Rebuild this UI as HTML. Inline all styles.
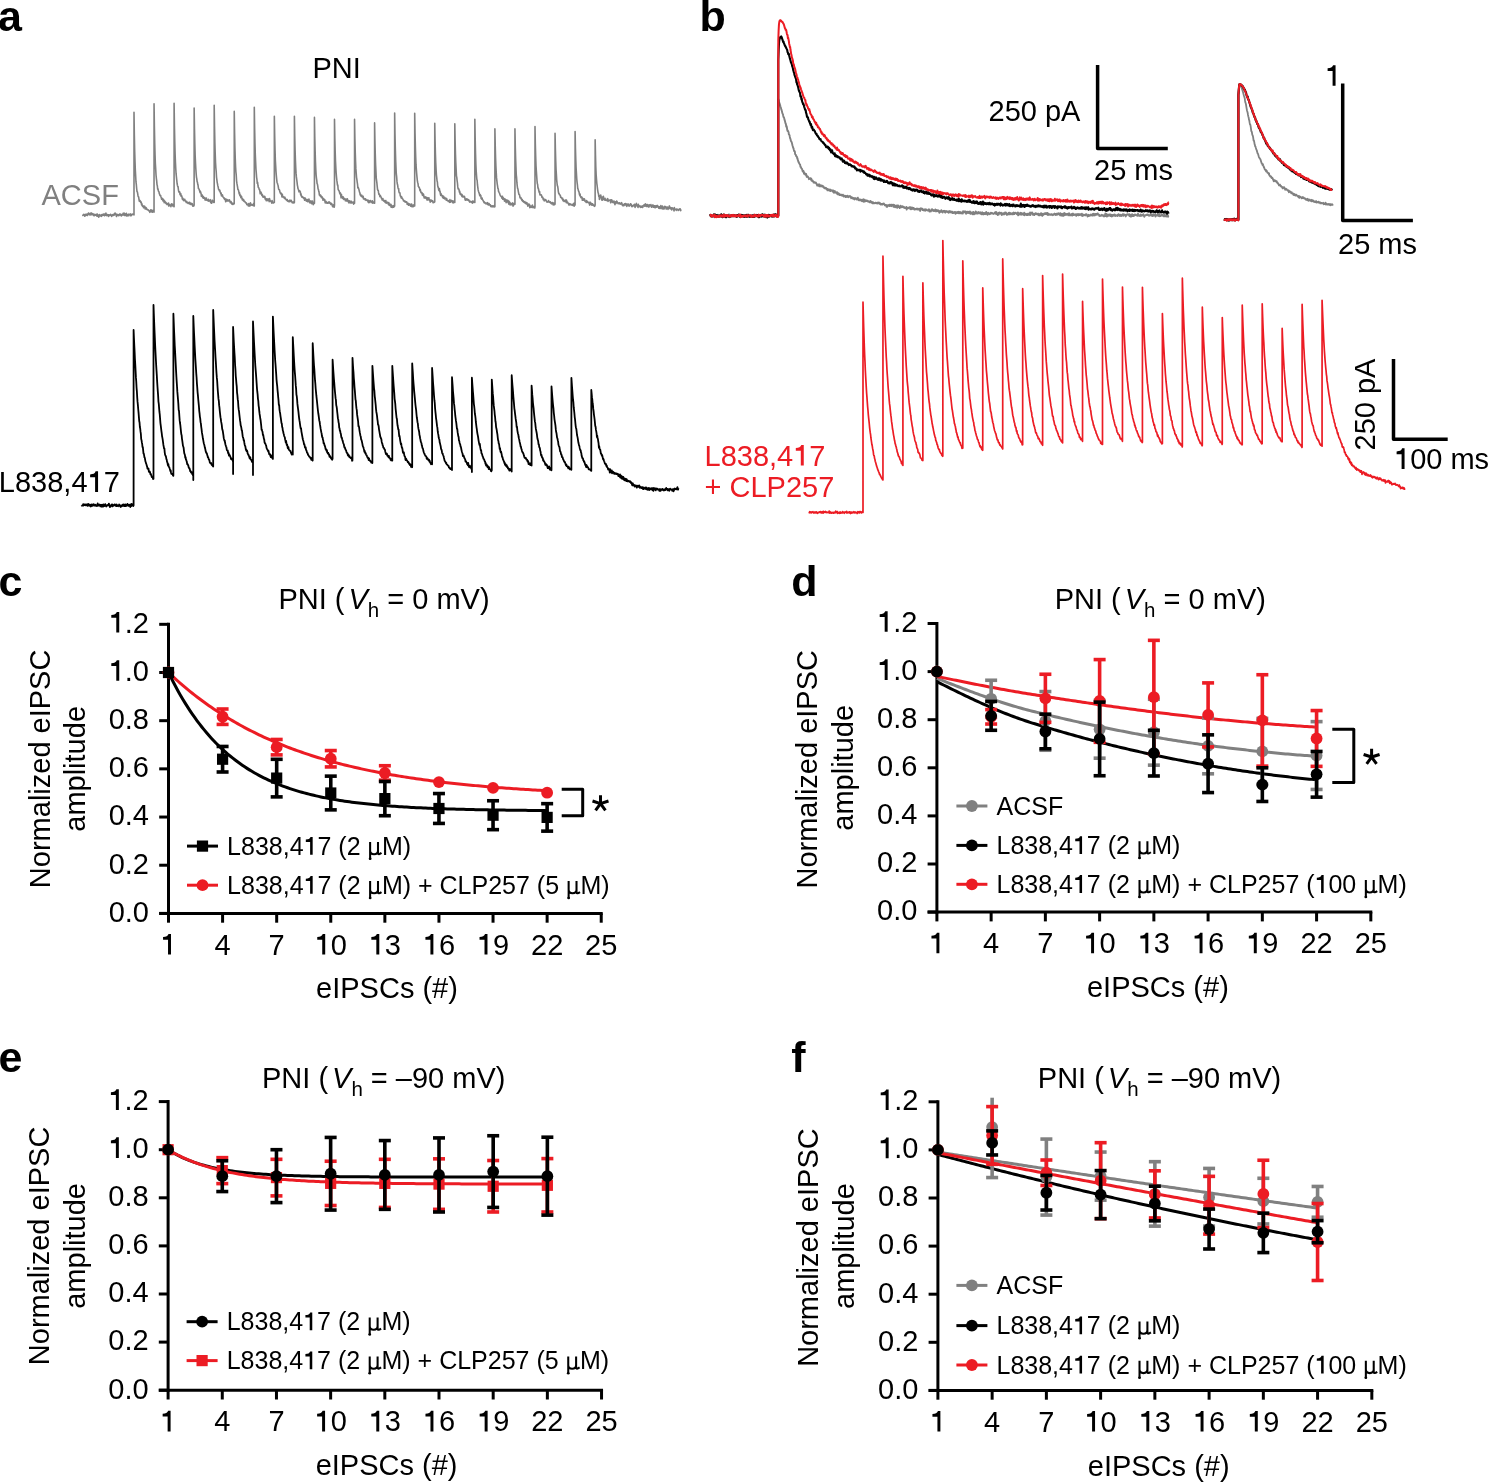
<!DOCTYPE html>
<html><head><meta charset="utf-8"><title>Figure</title>
<style>html,body{margin:0;padding:0;background:#fff;} svg{display:block;will-change:transform;} text{font-family:"Liberation Sans",sans-serif;}</style>
</head><body>
<svg width="1488" height="1482" viewBox="0 0 1488 1482">
<rect width="1488" height="1482" fill="#fff"/>
<path d="M82.5,215.04 L82.83,215.49 L83.16,214.96 L83.49,214.36 L83.82,214.76 L84.15,214.52 L84.48,215.2 L84.81,216.21 L85.14,214.69 L85.47,214.39 L85.8,215.37 L86.13,215.27 L86.46,215.09 L86.79,214.19 L87.12,214.97 L87.45,215.5 L87.78,213.86 L88.11,214.44 L88.44,213.15 L88.77,213.8 L89.1,213.3 L89.43,214.62 L89.76,213.79 L90.09,214.97 L90.42,214.81 L90.75,214.61 L91.08,212.71 L91.41,214.26 L91.74,214.64 L92.07,214.89 L92.4,213.64 L92.73,214.51 L93.06,214.03 L93.39,213.99 L93.72,215.58 L94.05,214.19 L94.38,214.78 L94.71,215.58 L95.04,214.48 L95.37,214.95 L95.7,215.22 L96.03,215.12 L96.36,214.27 L96.69,215.15 L97.02,216.28 L97.35,214.02 L97.68,216.05 L98.01,215.68 L98.34,215.25 L98.67,217.23 L99,216.04 L99.33,214.58 L99.66,215.5 L99.99,215.91 L100.32,215.41 L100.65,215.92 L100.98,215.09 L101.31,215.71 L101.64,216.35 L101.97,214.64 L102.3,215.37 L102.63,214.75 L102.96,215.07 L103.29,214.02 L103.62,214.41 L103.95,214.55 L104.28,215.51 L104.61,215.73 L104.94,213.84 L105.27,214.18 L105.6,215.29 L105.93,213.1 L106.26,214.26 L106.59,214.63 L106.92,215.67 L107.25,215.31 L107.58,214.59 L107.91,214.84 L108.24,214.81 L108.57,216.38 L108.9,214.85 L109.23,215 L109.56,215.39 L109.89,214.99 L110.22,215.05 L110.55,214.34 L110.88,215.25 L111.21,214.9 L111.54,216.35 L111.87,215.97 L112.2,215.18 L112.53,215.68 L112.86,214.66 L113.19,215.4 L113.52,214.52 L113.85,215.17 L114.18,213.69 L114.51,214.87 L114.84,213.15 L115.17,213.02 L115.5,214.45 L115.83,214.01 L116.16,214.87 L116.49,216.56 L116.82,214.22 L117.15,214.48 L117.48,215.19 L117.81,215.32 L118.14,214.86 L118.47,214.78 L118.8,215.66 L119.13,215.37 L119.46,214.12 L119.79,214.9 L120.12,214.83 L120.45,214.16 L120.78,215.38 L121.11,214.42 L121.44,215.97 L121.77,215.38 L122.1,214.97 L122.43,214.45 L122.76,214.81 L123.09,213.3 L123.42,213.85 L123.75,215 L124.08,212.98 L124.41,215.5 L124.74,213.45 L125.07,215.43 L125.4,214.32 L125.73,215.54 L126.06,214.96 L126.39,213.4 L126.72,215.8 L127.05,216.05 L127.38,214.94 L127.71,214.82 L128.04,214.88 L128.37,214.21 L128.7,215.81 L129.03,214.42 L129.36,214.78 L129.69,214.32 L130.02,214.48 L130.35,213.9 L130.68,215.81 L131.01,214.56 L131.34,215.6 L131.67,214.86 L132,214.25 L132.33,214.47 L132.66,214.1 L132.99,214.51 L133.32,214.26 L133.65,214.23 L133.98,213.3 L134,215 L134,112.2 L134.33,134.19 L134.66,150.19 L134.99,161.11 L135.32,170.08 L135.65,175.89 L135.98,181.98 L136.31,184.37 L136.64,188.25 L136.97,191.4 L137.3,191.74 L137.63,193.29 L137.96,195.47 L138.29,196.68 L138.62,196.92 L138.95,199.12 L139.28,201.24 L139.61,200.18 L139.94,200.93 L140.27,200.78 L140.6,202.33 L140.93,201.77 L141.26,202.42 L141.59,204.88 L141.92,203.75 L142.25,205.59 L142.58,206.28 L142.91,205.7 L143.24,206.37 L143.57,207.81 L143.9,206.56 L144.23,206.59 L144.56,206.15 L144.89,207.45 L145.22,208.98 L145.55,208.9 L145.88,207.41 L146.21,207.9 L146.54,208.49 L146.87,209.52 L147.2,209.29 L147.53,209.78 L147.86,209.9 L148.19,209.91 L148.52,210.26 L148.85,210.81 L149.18,210.66 L149.51,211.29 L149.84,212.32 L150.17,211.38 L150.5,211.19 L150.83,209.77 L151.16,211.67 L151.49,209.95 L151.82,210.36 L152.15,212.21 L152.48,212.13 L152.81,211.52 L153.14,210.29 L153.47,211.34 L153.8,211.14 L154.04,212.1 L154.05,103.7 L154.38,126.35 L154.71,142.46 L155.04,154.72 L155.37,163.9 L155.7,169.08 L156.03,174.98 L156.36,178.28 L156.69,180.88 L157.02,184.7 L157.35,185.8 L157.68,189.23 L158.01,188.83 L158.34,190.95 L158.67,191.37 L159,191.93 L159.33,193.93 L159.66,194.18 L159.99,195.57 L160.32,195.64 L160.65,195.49 L160.98,196.91 L161.31,197.8 L161.64,199.31 L161.97,198.34 L162.3,199.45 L162.63,198.58 L162.96,200.87 L163.29,199.83 L163.62,199.65 L163.95,201.31 L164.28,202.69 L164.61,200.93 L164.94,201.66 L165.27,202.24 L165.6,202.15 L165.93,203.55 L166.26,202.85 L166.59,203.13 L166.92,204.46 L167.25,203.64 L167.58,204.61 L167.91,203.66 L168.24,203.48 L168.57,203.07 L168.9,206.15 L169.23,204.3 L169.56,204.9 L169.89,204.83 L170.22,205.08 L170.55,205.06 L170.88,206.6 L171.21,204.23 L171.54,203.88 L171.87,204.34 L172.2,204.18 L172.53,205.77 L172.86,205.93 L173.19,204.59 L173.52,204.29 L173.85,205.12 L174.09,206.8 L174.1,103.3 L174.43,125.79 L174.76,141.29 L175.09,153.56 L175.42,162.08 L175.75,168.56 L176.08,173.7 L176.41,176.77 L176.74,180.1 L177.07,183.25 L177.4,185.16 L177.73,186.57 L178.06,186.6 L178.39,189.58 L178.72,191.41 L179.05,192.23 L179.38,192.48 L179.71,191.87 L180.04,194.76 L180.37,194.56 L180.7,193.46 L181.03,196.25 L181.36,195.28 L181.69,195.92 L182.02,197.01 L182.35,199.11 L182.68,198.04 L183.01,198.84 L183.34,200.44 L183.67,200.6 L184,199.4 L184.33,199.73 L184.66,199.27 L184.99,200.06 L185.32,201.16 L185.65,201.51 L185.98,201.49 L186.31,202.56 L186.64,201.25 L186.97,201.93 L187.3,202.79 L187.63,202.81 L187.96,203.49 L188.29,203.19 L188.62,202.71 L188.95,203.45 L189.28,202.5 L189.61,202.27 L189.94,204.14 L190.27,203.73 L190.6,204.32 L190.93,203.12 L191.26,204.57 L191.59,204.52 L191.92,204.46 L192.25,203.66 L192.58,205.3 L192.91,206.29 L193.24,206 L193.57,205.38 L193.9,205.85 L194.14,205.1 L194.15,108 L194.48,128.62 L194.81,143.39 L195.14,154.92 L195.47,162.25 L195.8,168.49 L196.13,173.26 L196.46,177.03 L196.79,178.97 L197.12,181.66 L197.45,182.39 L197.78,184.58 L198.11,185.61 L198.44,188.64 L198.77,188.82 L199.1,189.07 L199.43,190.37 L199.76,191.22 L200.09,192.64 L200.42,191.39 L200.75,192.44 L201.08,193.47 L201.41,196.3 L201.74,195.39 L202.07,194.94 L202.4,196.29 L202.73,197.75 L203.06,196.26 L203.39,196.57 L203.72,198.25 L204.05,197.84 L204.38,198.25 L204.71,197.7 L205.04,199.96 L205.37,200.07 L205.7,199.61 L206.03,199.87 L206.36,197.95 L206.69,200.24 L207.02,199.96 L207.35,200.44 L207.68,200.75 L208.01,200.05 L208.34,199.23 L208.67,201.11 L209,200.55 L209.33,200.84 L209.66,200.86 L209.99,201.17 L210.32,199.66 L210.65,202.67 L210.98,201.92 L211.31,202.47 L211.64,203.24 L211.97,201.6 L212.3,200.17 L212.63,201.05 L212.96,200.94 L213.29,201.79 L213.62,202.33 L213.95,200.57 L214.19,202.5 L214.2,105.3 L214.53,126.78 L214.86,142.17 L215.19,153.27 L215.52,162.25 L215.85,167.86 L216.18,171.34 L216.51,177.07 L216.84,179.57 L217.17,182.33 L217.5,183.95 L217.83,185.94 L218.16,186.85 L218.49,189.12 L218.82,189.45 L219.15,190.13 L219.48,190.94 L219.81,190.2 L220.14,191.94 L220.47,192.66 L220.8,193.67 L221.13,193.06 L221.46,195.84 L221.79,195.2 L222.12,194.86 L222.45,194.98 L222.78,196.56 L223.11,197.11 L223.44,197.18 L223.77,198.05 L224.1,197.76 L224.43,199.06 L224.76,198.41 L225.09,199.17 L225.42,200.27 L225.75,201.74 L226.08,199.11 L226.41,199.73 L226.74,199.48 L227.07,200.95 L227.4,199.68 L227.73,200.31 L228.06,200.85 L228.39,200.36 L228.72,200.44 L229.05,201.03 L229.38,199.78 L229.71,200.62 L230.04,201.89 L230.37,202.75 L230.7,202.61 L231.03,201.58 L231.36,202.8 L231.69,203.96 L232.02,204.09 L232.35,203.56 L232.68,203.17 L233.01,204.51 L233.34,203.83 L233.67,203.5 L234,203.82 L234.24,203.3 L234.25,111.4 L234.58,132.28 L234.91,147.48 L235.24,158.21 L235.57,166.42 L235.9,171.85 L236.23,174.95 L236.56,180.78 L236.89,183.21 L237.22,185.02 L237.55,186.86 L237.88,189.31 L238.21,189.42 L238.54,190.5 L238.87,191.93 L239.2,193.93 L239.53,192.76 L239.86,195.7 L240.19,194.89 L240.52,195.13 L240.85,197.59 L241.18,197.07 L241.51,196.52 L241.84,197.89 L242.17,199.34 L242.5,200.04 L242.83,199.06 L243.16,200.16 L243.49,200.82 L243.82,200.03 L244.15,201.41 L244.48,201.47 L244.81,201.59 L245.14,202.04 L245.47,202.69 L245.8,202.88 L246.13,202.72 L246.46,203.09 L246.79,204.57 L247.12,204.05 L247.45,204.6 L247.78,205.01 L248.11,204.43 L248.44,205.98 L248.77,203.58 L249.1,204.95 L249.43,204.17 L249.76,206.08 L250.09,205.91 L250.42,202.9 L250.75,203.68 L251.08,204.87 L251.41,204.97 L251.74,205.23 L252.07,204.57 L252.4,205.18 L252.73,205.27 L253.06,204.82 L253.39,205.76 L253.72,203.22 L254.05,205.69 L254.29,206 L254.3,107.3 L254.63,128.48 L254.96,143.38 L255.29,154.28 L255.62,161.9 L255.95,169.04 L256.28,172.9 L256.61,177.32 L256.94,179.71 L257.27,183.47 L257.6,182.36 L257.93,185.23 L258.26,187.43 L258.59,187.58 L258.92,188.17 L259.25,189.6 L259.58,189.48 L259.91,191.38 L260.24,193.79 L260.57,193.38 L260.9,192.07 L261.23,192.8 L261.56,193.83 L261.89,195.5 L262.22,194.57 L262.55,195.16 L262.88,196.85 L263.21,197.22 L263.54,196.57 L263.87,196.43 L264.2,196.3 L264.53,197.47 L264.86,196.55 L265.19,199.13 L265.52,198.24 L265.85,199.3 L266.18,200.67 L266.51,200.26 L266.84,198.75 L267.17,200.48 L267.5,200.64 L267.83,199.23 L268.16,199.01 L268.49,199.86 L268.82,198.97 L269.15,201.68 L269.48,198.58 L269.81,199.69 L270.14,200.72 L270.47,200.94 L270.8,201.4 L271.13,201.74 L271.46,201.78 L271.79,203.14 L272.12,200.65 L272.45,202.52 L272.78,202.13 L273.11,202.84 L273.44,202.88 L273.77,202.07 L274.1,202.27 L274.34,202.5 L274.35,116.2 L274.68,135.23 L275.01,149.03 L275.34,159.92 L275.67,165.79 L276,171.55 L276.33,175.46 L276.66,179 L276.99,182.17 L277.32,183.01 L277.65,184.24 L277.98,185.07 L278.31,186.99 L278.64,189.16 L278.97,189.61 L279.3,189.54 L279.63,190.83 L279.96,191.91 L280.29,193.06 L280.62,192.91 L280.95,193.87 L281.28,193.28 L281.61,194.36 L281.94,196.84 L282.27,194.19 L282.6,196.1 L282.93,196.86 L283.26,196.84 L283.59,196.76 L283.92,197.55 L284.25,198.06 L284.58,198.34 L284.91,197.19 L285.24,198.93 L285.57,198.72 L285.9,199.23 L286.23,199.76 L286.56,200.21 L286.89,200.53 L287.22,199.48 L287.55,200.8 L287.88,201.32 L288.21,201.41 L288.54,201.64 L288.87,200.82 L289.2,200.89 L289.53,201.68 L289.86,200.1 L290.19,201.54 L290.52,200.99 L290.85,201.33 L291.18,200.3 L291.51,200.98 L291.84,201.81 L292.17,202.74 L292.5,202.85 L292.83,202.14 L293.16,202.14 L293.49,202.05 L293.82,203.04 L294.15,202.76 L294.39,202.5 L294.4,116.2 L294.73,135.4 L295.06,149.26 L295.39,159.61 L295.72,167.21 L296.05,173.16 L296.38,176.94 L296.71,179.52 L297.04,182.2 L297.37,185.04 L297.7,186.67 L298.03,188.79 L298.36,189.18 L298.69,190.64 L299.02,191.83 L299.35,191.57 L299.68,190.82 L300.01,191.64 L300.34,191.91 L300.67,194.98 L301,193.67 L301.33,196.12 L301.66,195.94 L301.99,197.25 L302.32,197.25 L302.65,196.78 L302.98,197.08 L303.31,197.91 L303.64,198.32 L303.97,197.97 L304.3,198.55 L304.63,200.22 L304.96,197.91 L305.29,199.59 L305.62,198.81 L305.95,200 L306.28,200.83 L306.61,200.25 L306.94,201.21 L307.27,199.58 L307.6,201.71 L307.93,200.45 L308.26,201.62 L308.59,201.33 L308.92,198.98 L309.25,200.53 L309.58,201.51 L309.91,202.87 L310.24,201.7 L310.57,202.09 L310.9,200.7 L311.23,203.17 L311.56,203.7 L311.89,202.46 L312.22,202.34 L312.55,201.14 L312.88,203.27 L313.21,204.69 L313.54,202.85 L313.87,203.67 L314.2,203.22 L314.44,203.3 L314.45,117.4 L314.78,136.96 L315.11,150.27 L315.44,161.3 L315.77,169.12 L316.1,174.79 L316.43,178 L316.76,180.3 L317.09,183.72 L317.42,184.01 L317.75,186.05 L318.08,188.99 L318.41,189.39 L318.74,191.28 L319.07,192.3 L319.4,195.06 L319.73,195.24 L320.06,194.89 L320.39,196.31 L320.72,195.17 L321.05,196.24 L321.38,197.65 L321.71,196.48 L322.04,197.69 L322.37,197.16 L322.7,198.68 L323.03,200.22 L323.36,198.62 L323.69,199.84 L324.02,199.34 L324.35,199.36 L324.68,199.46 L325.01,201.91 L325.34,202.87 L325.67,201.72 L326,201.3 L326.33,202.75 L326.66,202.11 L326.99,203.18 L327.32,202.84 L327.65,202.87 L327.98,203.19 L328.31,202.35 L328.64,202.6 L328.97,201.78 L329.3,202.9 L329.63,202.22 L329.96,203.22 L330.29,202.88 L330.62,203.9 L330.95,204.51 L331.28,203.2 L331.61,203.96 L331.94,203.92 L332.27,205.44 L332.6,206.62 L332.93,205.88 L333.26,205.15 L333.59,206.88 L333.92,204.63 L334.25,207.21 L334.49,205.1 L334.5,119.4 L334.83,138.05 L335.16,151.02 L335.49,161.07 L335.82,167.56 L336.15,172.83 L336.48,176.82 L336.81,180.13 L337.14,182.68 L337.47,185.03 L337.8,185.09 L338.13,189.3 L338.46,189.97 L338.79,190.74 L339.12,190.78 L339.45,192.09 L339.78,193.44 L340.11,193.97 L340.44,192.98 L340.77,195.6 L341.1,197.82 L341.43,194.43 L341.76,197.21 L342.09,196.91 L342.42,196.92 L342.75,198.51 L343.08,196.74 L343.41,198.01 L343.74,199.39 L344.07,198.34 L344.4,198.49 L344.73,199.08 L345.06,198.98 L345.39,200.75 L345.72,198.97 L346.05,200.84 L346.38,199.25 L346.71,201 L347.04,200.72 L347.37,198.86 L347.7,201.16 L348.03,200.48 L348.36,201.29 L348.69,202.81 L349.02,200.67 L349.35,200.73 L349.68,202.78 L350.01,201.71 L350.34,202.89 L350.67,202.04 L351,201.04 L351.33,201.82 L351.66,203.02 L351.99,202.78 L352.32,202.1 L352.65,202.42 L352.98,202.4 L353.31,202 L353.64,204.12 L353.97,202.49 L354.3,201.65 L354.54,203.3 L354.55,119.4 L354.88,138 L355.21,150.96 L355.54,160.8 L355.87,168.64 L356.2,172.94 L356.53,177.35 L356.86,179.37 L357.19,182.06 L357.52,184.05 L357.85,187.99 L358.18,187.24 L358.51,188.23 L358.84,189.27 L359.17,190.63 L359.5,192.14 L359.83,192.64 L360.16,194.83 L360.49,194.13 L360.82,195.84 L361.15,195.44 L361.48,196.38 L361.81,195.23 L362.14,196.73 L362.47,197.08 L362.8,197.3 L363.13,196.23 L363.46,198.85 L363.79,198.23 L364.12,198.54 L364.45,199.01 L364.78,199.05 L365.11,199.8 L365.44,198.77 L365.77,199.19 L366.1,200.4 L366.43,200.21 L366.76,200.07 L367.09,200.02 L367.42,200.1 L367.75,200.68 L368.08,201.93 L368.41,200.27 L368.74,202.59 L369.07,202.09 L369.4,201.12 L369.73,202.52 L370.06,200.75 L370.39,200.57 L370.72,201.01 L371.05,201.71 L371.38,202.03 L371.71,202.19 L372.04,202.69 L372.37,200.79 L372.7,203.12 L373.03,201.8 L373.36,202.58 L373.69,202.99 L374.02,202.35 L374.35,202.23 L374.59,203.3 L374.6,122.9 L374.93,141.03 L375.26,154.03 L375.59,164.38 L375.92,170.88 L376.25,178.09 L376.58,180.6 L376.91,183.22 L377.24,186.68 L377.57,189.6 L377.9,190.32 L378.23,190.26 L378.56,192.63 L378.89,194.47 L379.22,193.88 L379.55,194.35 L379.88,196.58 L380.21,196.3 L380.54,195.86 L380.87,196.95 L381.2,197.14 L381.53,198.5 L381.86,198.65 L382.19,199.98 L382.52,200 L382.85,198.48 L383.18,200.25 L383.51,200.83 L383.84,200.83 L384.17,201.47 L384.5,200.49 L384.83,200.56 L385.16,202.44 L385.49,201.26 L385.82,200.57 L386.15,203.19 L386.48,202.11 L386.81,202.67 L387.14,202.1 L387.47,202.32 L387.8,202.74 L388.13,203.65 L388.46,204.48 L388.79,202.56 L389.12,205.2 L389.45,203.82 L389.78,204.07 L390.11,205.7 L390.44,205.15 L390.77,204.29 L391.1,207.09 L391.43,205.14 L391.76,206.1 L392.09,206.13 L392.42,207.43 L392.75,205.99 L393.08,207.09 L393.41,205.68 L393.74,207.21 L394.07,206.04 L394.4,206.46 L394.64,206 L394.65,113 L394.98,133.65 L395.31,148.03 L395.64,159.17 L395.97,167.25 L396.3,173.95 L396.63,176.61 L396.96,181.18 L397.29,183.86 L397.62,184.79 L397.95,187.39 L398.28,188.68 L398.61,188.41 L398.94,191.79 L399.27,192.74 L399.6,192.76 L399.93,192.96 L400.26,195.99 L400.59,195.71 L400.92,197.01 L401.25,197.91 L401.58,196.75 L401.91,198.42 L402.24,198.12 L402.57,198.71 L402.9,199.26 L403.23,199.89 L403.56,201.04 L403.89,200.53 L404.22,200.85 L404.55,201.26 L404.88,201.98 L405.21,201.14 L405.54,201.66 L405.87,202.22 L406.2,201.86 L406.53,202.45 L406.86,202.13 L407.19,204.29 L407.52,204.06 L407.85,203.46 L408.18,203.23 L408.51,205.26 L408.84,204.02 L409.17,203.8 L409.5,204.25 L409.83,204.29 L410.16,205.52 L410.49,204.58 L410.82,206.25 L411.15,203.98 L411.48,205.44 L411.81,204.25 L412.14,206.82 L412.47,205.36 L412.8,205.59 L413.13,206.45 L413.46,206.63 L413.79,204.83 L414.12,205.52 L414.45,205.06 L414.69,206 L414.7,113.2 L415.03,132.72 L415.36,146.21 L415.69,156.83 L416.02,164.66 L416.35,169.4 L416.68,173.69 L417.01,177.35 L417.34,180.58 L417.67,182.45 L418,183.53 L418.33,186.33 L418.66,186.47 L418.99,187.51 L419.32,187.62 L419.65,188.96 L419.98,190.68 L420.31,189.58 L420.64,191.47 L420.97,192.63 L421.3,192.19 L421.63,193.05 L421.96,192.68 L422.29,194.93 L422.62,195.39 L422.95,195.18 L423.28,193.93 L423.61,194.71 L423.94,196.79 L424.27,197.9 L424.6,196.96 L424.93,197.97 L425.26,196.88 L425.59,197.51 L425.92,198.15 L426.25,198.64 L426.58,197.36 L426.91,199.38 L427.24,200.12 L427.57,198.23 L427.9,197.96 L428.23,199.47 L428.56,198.81 L428.89,197.81 L429.22,200.45 L429.55,200.06 L429.88,199.76 L430.21,202.15 L430.54,200.67 L430.87,200.2 L431.2,201.05 L431.53,200.21 L431.86,200.54 L432.19,201.56 L432.52,200.79 L432.85,201.11 L433.18,202.73 L433.51,202.3 L433.84,202.45 L434.17,202.3 L434.5,202.25 L434.74,201.6 L434.75,123.3 L435.08,140.75 L435.41,153.47 L435.74,162.79 L436.07,169.39 L436.4,174.8 L436.73,177.51 L437.06,181.01 L437.39,181.95 L437.72,185.95 L438.05,187.11 L438.38,187.95 L438.71,190.15 L439.04,190.61 L439.37,188.49 L439.7,191.66 L440.03,191.1 L440.36,193.79 L440.69,195.46 L441.02,193.64 L441.35,194.82 L441.68,194.97 L442.01,195.88 L442.34,196.45 L442.67,197.48 L443,195.93 L443.33,198.2 L443.66,196.37 L443.99,197.49 L444.32,198.55 L444.65,198.79 L444.98,197.62 L445.31,198.18 L445.64,198.64 L445.97,199.06 L446.3,200.2 L446.63,198.43 L446.96,199.94 L447.29,200.47 L447.62,200.37 L447.95,200.52 L448.28,201.54 L448.61,200.78 L448.94,201.21 L449.27,201.19 L449.6,202.31 L449.93,199.5 L450.26,202.22 L450.59,200.83 L450.92,201.06 L451.25,200.85 L451.58,200.33 L451.91,201.7 L452.24,201.35 L452.57,202.34 L452.9,200.73 L453.23,203.03 L453.56,202.26 L453.89,201.79 L454.22,201.45 L454.55,201.19 L454.79,202.5 L454.8,123.8 L455.13,141.14 L455.46,153.68 L455.79,162.41 L456.12,169.09 L456.45,175.84 L456.78,177.41 L457.11,180.57 L457.44,183.01 L457.77,186.63 L458.1,188.88 L458.43,188.68 L458.76,188.91 L459.09,190.03 L459.42,192.11 L459.75,191.33 L460.08,193.93 L460.41,194.48 L460.74,193.55 L461.07,194.57 L461.4,194.94 L461.73,196.08 L462.06,194.58 L462.39,196.82 L462.72,195.92 L463.05,195.95 L463.38,196.97 L463.71,196.98 L464.04,196.6 L464.37,196.29 L464.7,197.22 L465.03,199.4 L465.36,200.16 L465.69,199.32 L466.02,199.98 L466.35,198.81 L466.68,199.42 L467.01,200 L467.34,199.12 L467.67,199.29 L468,200.23 L468.33,200.23 L468.66,199.74 L468.99,201 L469.32,200.78 L469.65,202.06 L469.98,201.41 L470.31,201.23 L470.64,201.95 L470.97,201.85 L471.3,201.61 L471.63,201.88 L471.96,202.71 L472.29,202.55 L472.62,203.18 L472.95,200.91 L473.28,201.99 L473.61,201.9 L473.94,202.25 L474.27,201.78 L474.6,201.61 L474.84,202.5 L474.85,119.2 L475.18,138.62 L475.51,152.66 L475.84,163.59 L476.17,170.55 L476.5,175.25 L476.83,179.22 L477.16,180.44 L477.49,184.98 L477.82,187.38 L478.15,189.91 L478.48,191.21 L478.81,192.38 L479.14,193.04 L479.47,194.31 L479.8,195.8 L480.13,194.49 L480.46,195.67 L480.79,195.41 L481.12,198.39 L481.45,198.78 L481.78,199.09 L482.11,198.09 L482.44,199.67 L482.77,199.89 L483.1,200.67 L483.43,201.02 L483.76,202.07 L484.09,201.65 L484.42,202.98 L484.75,202.8 L485.08,202.68 L485.41,203.11 L485.74,203 L486.07,203.98 L486.4,203.26 L486.73,203.69 L487.06,203.35 L487.39,202.67 L487.72,204.56 L488.05,203.25 L488.38,204.91 L488.71,204.88 L489.04,203.58 L489.37,204.53 L489.7,204.88 L490.03,204.9 L490.36,204.81 L490.69,206.54 L491.02,206.01 L491.35,206.55 L491.68,205.95 L492.01,206.57 L492.34,205.75 L492.67,206.43 L493,206.85 L493.33,206.39 L493.66,206.14 L493.99,205.71 L494.32,206.84 L494.65,206.83 L494.89,206.8 L494.9,128.9 L495.23,145.39 L495.56,157.26 L495.89,166.09 L496.22,172.23 L496.55,177.88 L496.88,180.9 L497.21,183.84 L497.54,185.92 L497.87,188.3 L498.2,188.71 L498.53,191.35 L498.86,191.93 L499.19,192.6 L499.52,193.16 L499.85,194.28 L500.18,195.23 L500.51,195.85 L500.84,195.92 L501.17,196.71 L501.5,196.68 L501.83,198.1 L502.16,197.4 L502.49,196.27 L502.82,199.31 L503.15,198.62 L503.48,197.93 L503.81,198.9 L504.14,198.57 L504.47,201.19 L504.8,200.33 L505.13,199.07 L505.46,200.94 L505.79,200.57 L506.12,202.6 L506.45,200.44 L506.78,199.75 L507.11,201.79 L507.44,201.89 L507.77,202.01 L508.1,200.61 L508.43,202.97 L508.76,204.06 L509.09,201.29 L509.42,203.52 L509.75,202.38 L510.08,204.93 L510.41,203.6 L510.74,203.33 L511.07,204.66 L511.4,204.29 L511.73,203.6 L512.06,204.65 L512.39,203.72 L512.72,202.91 L513.05,206.1 L513.38,204.12 L513.71,204.04 L514.04,204.86 L514.37,203.33 L514.7,203.63 L514.94,204.2 L514.95,128.9 L515.28,145.99 L515.61,157.96 L515.94,166.9 L516.27,174.93 L516.6,177.95 L516.93,182.94 L517.26,186 L517.59,188.35 L517.92,188.95 L518.25,191.12 L518.58,192.74 L518.91,194.47 L519.24,194.37 L519.57,194.88 L519.9,197.17 L520.23,197.99 L520.56,197.88 L520.89,197.56 L521.22,198.97 L521.55,199.18 L521.88,200.31 L522.21,199.44 L522.54,201.01 L522.87,201.25 L523.2,200.73 L523.53,202.05 L523.86,202.09 L524.19,201.98 L524.52,202.77 L524.85,201.52 L525.18,202.85 L525.51,203.36 L525.84,203.31 L526.17,204.01 L526.5,202.47 L526.83,202.44 L527.16,204.16 L527.49,204.65 L527.82,206.11 L528.15,205.16 L528.48,203.96 L528.81,205.74 L529.14,204.73 L529.47,204.35 L529.8,207.65 L530.13,206.01 L530.46,206.24 L530.79,206.16 L531.12,207.37 L531.45,206.28 L531.78,207.07 L532.11,205.5 L532.44,205.18 L532.77,207.56 L533.1,207.62 L533.43,206.83 L533.76,206.74 L534.09,206.65 L534.42,206.27 L534.75,208.05 L534.99,206.8 L535,126.6 L535.33,143.97 L535.66,155.73 L535.99,165.19 L536.32,170.88 L536.65,175.59 L536.98,180.34 L537.31,183.61 L537.64,184.46 L537.97,188.17 L538.3,187.96 L538.63,190.06 L538.96,191.42 L539.29,192.66 L539.62,191.45 L539.95,195.04 L540.28,194.92 L540.61,194.96 L540.94,194.9 L541.27,194.92 L541.6,195.64 L541.93,197.43 L542.26,197.07 L542.59,196.98 L542.92,197.79 L543.25,199.74 L543.58,198.67 L543.91,198.91 L544.24,200.88 L544.57,200.36 L544.9,200.29 L545.23,200.15 L545.56,199.57 L545.89,200.03 L546.22,200.92 L546.55,201.54 L546.88,202.08 L547.21,202.13 L547.54,201.9 L547.87,201.97 L548.2,201.17 L548.53,200.5 L548.86,201.94 L549.19,201.66 L549.52,202.06 L549.85,202.39 L550.18,201.74 L550.51,201.89 L550.84,203.15 L551.17,203.54 L551.5,202.94 L551.83,203.85 L552.16,203.33 L552.49,202.6 L552.82,203.46 L553.15,204.94 L553.48,203.1 L553.81,204.61 L554.14,204.76 L554.47,204.77 L554.8,202.84 L555.04,204.2 L555.05,133.2 L555.38,149.04 L555.71,160.33 L556.04,169.24 L556.37,174.38 L556.7,180.08 L557.03,183.23 L557.36,185.82 L557.69,186.31 L558.02,188.63 L558.35,191.56 L558.68,193.36 L559.01,193.29 L559.34,194.59 L559.67,194.56 L560,195.16 L560.33,195.51 L560.66,197.42 L560.99,197.28 L561.32,197.44 L561.65,197.85 L561.98,198.79 L562.31,198.99 L562.64,198.33 L562.97,200.63 L563.3,199.79 L563.63,199.8 L563.96,201.38 L564.29,201.2 L564.62,200.68 L564.95,201.42 L565.28,200.46 L565.61,200.95 L565.94,199.8 L566.27,202.64 L566.6,200.4 L566.93,202.75 L567.26,201.97 L567.59,202.17 L567.92,202.98 L568.25,203.46 L568.58,203.93 L568.91,204.99 L569.24,204.17 L569.57,204.82 L569.9,203.65 L570.23,204.73 L570.56,204.54 L570.89,204.19 L571.22,204.54 L571.55,204.8 L571.88,205.05 L572.21,205.27 L572.54,204.56 L572.87,204.22 L573.2,205.58 L573.53,203.54 L573.86,204.4 L574.19,206.12 L574.52,202.87 L574.85,204.54 L575.09,205.1 L575.1,131.5 L575.43,147.76 L575.76,158.97 L576.09,167.78 L576.42,173.31 L576.75,178.81 L577.08,182.37 L577.41,184.8 L577.74,188.56 L578.07,189.04 L578.4,190.71 L578.73,191.25 L579.06,192.13 L579.39,194.24 L579.72,195.16 L580.05,193.96 L580.38,196.58 L580.71,196.96 L581.04,197.72 L581.37,197.85 L581.7,196.93 L582.03,197.49 L582.36,200.32 L582.69,199.53 L583.02,198.5 L583.35,200.25 L583.68,199.92 L584.01,198.96 L584.34,198.87 L584.67,199.66 L585,201.27 L585.33,201.43 L585.66,201.46 L585.99,201.93 L586.32,202.51 L586.65,200.44 L586.98,202.11 L587.31,201.85 L587.64,201.72 L587.97,202.43 L588.3,202.83 L588.63,202.87 L588.96,202.3 L589.29,202.94 L589.62,205.08 L589.95,202.79 L590.28,202.28 L590.61,203.79 L590.94,204.41 L591.27,204.36 L591.6,203.43 L591.93,205.27 L592.26,203.94 L592.59,203.8 L592.92,204.37 L593.25,204.98 L593.58,205.76 L593.91,205.77 L594.24,205.33 L594.57,206.32 L594.9,205.79 L595.14,205.1 L595.15,139.7 L595.48,154.79 L595.81,167.13 L596.14,174.47 L596.47,179.05 L596.8,183.12 L597.13,185.53 L597.46,188.53 L597.79,190.85 L598.12,192.81 L598.45,193.51 L598.78,196.49 L599.11,195.36 L599.44,199.36 L599.77,197.61 L600.1,197.4 L600.43,196.71 L600.76,195.01 L601.09,197.61 L601.42,198.09 L601.75,200 L602.08,196.98 L602.41,200.08 L602.74,198.18 L603.07,199.22 L603.4,196.25 L603.73,199.07 L604.06,198.83 L604.39,199.95 L604.72,199.5 L605.05,198.21 L605.38,200.26 L605.71,200.1 L606.04,199.99 L606.37,200.45 L606.7,200.45 L607.03,199.63 L607.36,198.7 L607.69,198.66 L608.02,201.38 L608.35,200.77 L608.68,200.42 L609.01,200.02 L609.34,200.53 L609.67,200.55 L610,200.29 L610.33,199.87 L610.66,202.8 L610.99,200.94 L611.32,200.32 L611.65,199.77 L611.98,200.59 L612.31,202.09 L612.64,202.39 L612.97,201.43 L613.3,201.88 L613.63,201.62 L613.96,200.99 L614.29,203.44 L614.62,202.8 L614.95,204.65 L615.28,201.7 L615.61,202.2 L615.94,203.47 L616.27,202.23 L616.6,201.1 L616.93,201.4 L617.26,202.77 L617.59,202.93 L617.92,202.65 L618.25,203.73 L618.58,203.58 L618.91,203.01 L619.24,202.93 L619.57,202.76 L619.9,203.78 L620.23,204.2 L620.56,203.48 L620.89,203.91 L621.22,203.32 L621.55,202.66 L621.88,203.2 L622.21,205.01 L622.54,204.7 L622.87,205.78 L623.2,204.59 L623.53,205.27 L623.86,205.63 L624.19,205.36 L624.52,203.81 L624.85,204.54 L625.18,204.53 L625.51,203.54 L625.84,205.07 L626.17,205.46 L626.5,203.95 L626.83,206.4 L627.16,204.49 L627.49,204.47 L627.82,204.24 L628.15,203.96 L628.48,205.29 L628.81,204.9 L629.14,206.2 L629.47,205.43 L629.8,205.37 L630.13,204.85 L630.46,203.73 L630.79,204.97 L631.12,204.2 L631.45,206.16 L631.78,205.45 L632.11,206.79 L632.44,205.77 L632.77,206.13 L633.1,205.5 L633.43,205.28 L633.76,205.71 L634.09,205.95 L634.42,204.37 L634.75,205.44 L635.08,207.44 L635.41,204.79 L635.74,204.68 L636.07,204.14 L636.4,203.38 L636.73,205.89 L637.06,205 L637.39,205.29 L637.72,206.76 L638.05,207.47 L638.38,204.27 L638.71,206.31 L639.04,205.98 L639.37,206.04 L639.7,206.34 L640.03,205.87 L640.36,207.38 L640.69,206.59 L641.02,206.42 L641.35,207.29 L641.68,206.75 L642.01,206.08 L642.34,206.02 L642.67,207.51 L643,206.44 L643.33,205.69 L643.66,205.12 L643.99,205.55 L644.32,204.94 L644.65,206.12 L644.98,206.16 L645.31,203.88 L645.64,205.59 L645.97,206.1 L646.3,205.41 L646.63,204.45 L646.96,206.65 L647.29,204.94 L647.62,204.54 L647.95,204.65 L648.28,205.78 L648.61,206.74 L648.94,207.05 L649.27,206.24 L649.6,204.8 L649.93,205.38 L650.26,205.21 L650.59,205.91 L650.92,204.57 L651.25,206.68 L651.58,207.2 L651.91,206.46 L652.24,206.78 L652.57,205.46 L652.9,204.95 L653.23,205.47 L653.56,207.28 L653.89,207.29 L654.22,205.82 L654.55,207.41 L654.88,205.85 L655.21,207.78 L655.54,206.63 L655.87,205.75 L656.2,207.29 L656.53,205.85 L656.86,205.82 L657.19,205.37 L657.52,206.9 L657.85,206.66 L658.18,206.77 L658.51,206.38 L658.84,208.29 L659.17,206.75 L659.5,206.69 L659.83,208.42 L660.16,208.52 L660.49,207.31 L660.82,205.54 L661.15,206.79 L661.48,208.12 L661.81,207.49 L662.14,208.87 L662.47,206.15 L662.8,208.21 L663.13,206.91 L663.46,208.87 L663.79,207.7 L664.12,208.87 L664.45,207.18 L664.78,206.22 L665.11,206.55 L665.44,207.13 L665.77,206.76 L666.1,208.91 L666.43,209.02 L666.76,208.17 L667.09,206.97 L667.42,207.93 L667.75,207.31 L668.08,209.34 L668.41,208.34 L668.74,208.43 L669.07,207.45 L669.4,205.92 L669.73,207.35 L670.06,207.11 L670.39,208.82 L670.72,208.61 L671.05,207.77 L671.38,208.03 L671.71,209.88 L672.04,207.72 L672.37,207.87 L672.7,208.69 L673.03,208.39 L673.36,208.7 L673.69,209.65 L674.02,210.86 L674.35,207.63 L674.68,209.43 L675.01,209.59 L675.34,209.52 L675.67,209.34 L676,209.18 L676.33,210.36 L676.66,209.12 L676.99,209.17 L677.32,209.29 L677.65,209.77 L677.98,209.49 L678.31,210.47 L678.64,209.53 L678.97,209.92 L679.3,209.72 L679.63,208.93 L679.96,209.15 L680.29,208.92 L680.62,210.6 L680.95,209.78 L681.28,209.41" fill="none" stroke="#808080" stroke-width="1.6" stroke-linejoin="round" stroke-linecap="butt" />
<path d="M81.5,505.15 L81.83,505.62 L82.16,505.38 L82.49,505.66 L82.82,505.17 L83.15,504.2 L83.48,505.51 L83.81,504.85 L84.14,505.05 L84.47,504.39 L84.8,505.08 L85.13,504.88 L85.46,505.31 L85.79,504.36 L86.12,505.32 L86.45,505.28 L86.78,504.54 L87.11,504.9 L87.44,504.81 L87.77,505.93 L88.1,503.84 L88.43,505.3 L88.76,504.19 L89.09,504.94 L89.42,505.78 L89.75,504.92 L90.08,505.39 L90.41,504.73 L90.74,506.48 L91.07,505.89 L91.4,505.99 L91.73,504.35 L92.06,504.43 L92.39,505.91 L92.72,505.03 L93.05,504.83 L93.38,505.28 L93.71,504.18 L94.04,505.53 L94.37,505.08 L94.7,505.5 L95.03,504.85 L95.36,505.57 L95.69,504.76 L96.02,505.71 L96.35,505.98 L96.68,505.88 L97.01,505.76 L97.34,505.81 L97.67,503.44 L98,505.9 L98.33,505.19 L98.66,505.44 L98.99,505.2 L99.32,504.54 L99.65,505.14 L99.98,505.76 L100.31,506.35 L100.64,504.96 L100.97,504.72 L101.3,506.41 L101.63,504.97 L101.96,506.85 L102.29,505.36 L102.62,504.76 L102.95,506.02 L103.28,506.46 L103.61,504.29 L103.94,506.15 L104.27,504.82 L104.6,505.97 L104.93,504.83 L105.26,504.14 L105.59,505.41 L105.92,505.69 L106.25,506.5 L106.58,506.21 L106.91,505.52 L107.24,505.12 L107.57,504.96 L107.9,505.19 L108.23,504.81 L108.56,505.18 L108.89,503.54 L109.22,505.3 L109.55,505.28 L109.88,507.17 L110.21,506.11 L110.54,505.36 L110.87,506.03 L111.2,504.8 L111.53,505.18 L111.86,504.41 L112.19,506.47 L112.52,506.01 L112.85,504.76 L113.18,505.3 L113.51,505.85 L113.84,505.38 L114.17,505.16 L114.5,504.45 L114.83,504.57 L115.16,505.06 L115.49,505.7 L115.82,504.68 L116.15,504.42 L116.48,506.01 L116.81,504.7 L117.14,506 L117.47,505.49 L117.8,505.76 L118.13,506.24 L118.46,505.53 L118.79,505.64 L119.12,504.5 L119.45,504.63 L119.78,505.58 L120.11,506.29 L120.44,506.25 L120.77,506.95 L121.1,505.59 L121.43,505.46 L121.76,505.99 L122.09,505.3 L122.42,505.18 L122.75,504.68 L123.08,505.97 L123.41,504.52 L123.74,505.58 L124.07,504.49 L124.4,506.12 L124.73,504.85 L125.06,506.01 L125.39,504.36 L125.72,505.03 L126.05,506.05 L126.38,504.92 L126.71,505.37 L127.04,505.16 L127.37,503.87 L127.7,505.55 L128.03,505.71 L128.36,504.77 L128.69,505.88 L129.02,504.83 L129.35,504.73 L129.68,505.28 L130.01,505.09 L130.34,506.99 L130.67,504.51 L131,505.89 L131.33,506.01 L131.66,503.96 L131.99,504.22 L132.32,505.69 L132.65,505.07 L132.98,505.57 L133.31,506.02 L133.6,505.3 L133.6,330 L133.93,337.86 L134.26,344.82 L134.59,351.36 L134.92,358.75 L135.25,364.18 L135.58,370.54 L135.91,377.14 L136.24,381.46 L136.57,387.77 L136.9,391.68 L137.23,397.65 L137.56,401.93 L137.89,405.18 L138.22,409.22 L138.55,412.56 L138.88,416.94 L139.21,420.97 L139.54,422.46 L139.87,426.96 L140.2,428.5 L140.53,431.69 L140.86,433.88 L141.19,438.95 L141.52,440.12 L141.85,442.42 L142.18,444.01 L142.51,447.14 L142.84,447.06 L143.17,450.39 L143.5,453.69 L143.83,453.61 L144.16,455.61 L144.49,457.52 L144.82,457.91 L145.15,459.82 L145.48,461.6 L145.81,462.35 L146.14,463.68 L146.47,464.32 L146.8,465.88 L147.13,466.69 L147.46,468.56 L147.79,468.87 L148.12,469.12 L148.45,468.44 L148.78,471.24 L149.11,472.01 L149.44,471.65 L149.77,471.46 L150.1,472.51 L150.43,474.45 L150.76,473.78 L151.09,474.77 L151.42,475.83 L151.75,477.11 L152.08,476.83 L152.41,477.23 L152.74,477.26 L153.07,478.99 L153.4,478.97 L153.49,478.7 L153.5,305 L153.83,313.83 L154.16,322.28 L154.49,330.24 L154.82,337.78 L155.15,345.51 L155.48,352.05 L155.81,358.48 L156.14,364.62 L156.47,369.86 L156.8,375.17 L157.13,381.42 L157.46,386.56 L157.79,391.08 L158.12,395.56 L158.45,401.58 L158.78,403.76 L159.11,408.08 L159.44,411.98 L159.77,414.6 L160.1,418.82 L160.43,423.09 L160.76,425.68 L161.09,428.46 L161.42,431.07 L161.75,433.35 L162.08,436.28 L162.41,437.94 L162.74,439.89 L163.07,442.42 L163.4,444.97 L163.73,446.59 L164.06,448.59 L164.39,448.41 L164.72,452.3 L165.05,454.57 L165.38,455.52 L165.71,455.88 L166.04,456.93 L166.37,459.09 L166.7,459.5 L167.03,461.93 L167.36,462.09 L167.69,464.21 L168.02,465.47 L168.35,464.22 L168.68,466.66 L169.01,466.92 L169.34,467.46 L169.67,468.59 L170,469.61 L170.33,471.07 L170.66,470.22 L170.99,472.5 L171.32,473.8 L171.65,473.43 L171.98,474.03 L172.31,474.31 L172.64,474.04 L172.97,475.65 L173.3,475.9 L173.39,475 L173.4,313.7 L173.73,322.16 L174.06,330.27 L174.39,337.46 L174.72,345.4 L175.05,350.74 L175.38,357.21 L175.71,363.76 L176.04,370.36 L176.37,376.3 L176.7,381.64 L177.03,386.76 L177.36,391.91 L177.69,395.71 L178.02,399.72 L178.35,403.87 L178.68,410.02 L179.01,410.84 L179.34,415.8 L179.67,420.4 L180,423 L180.33,425.14 L180.66,428.32 L180.99,431.62 L181.32,434.31 L181.65,435.3 L181.98,438.87 L182.31,440.9 L182.64,443.45 L182.97,445.8 L183.3,446.7 L183.63,447.78 L183.96,450.85 L184.29,453.28 L184.62,454.07 L184.95,455.18 L185.28,457.95 L185.61,457.19 L185.94,459.66 L186.27,459.85 L186.6,461.36 L186.93,462.51 L187.26,464.44 L187.59,463.91 L187.92,465.03 L188.25,465.1 L188.58,467.23 L188.91,467.4 L189.24,468.63 L189.57,468.39 L189.9,469.71 L190.23,471.2 L190.56,471.02 L190.89,472.24 L191.22,472.65 L191.55,472.51 L191.88,472.09 L192.21,474.23 L192.54,474.18 L192.87,475.1 L193.2,473.53 L193.29,476 L193.3,480 L193.3,316 L193.63,323.99 L193.96,331.55 L194.29,338.06 L194.62,345.18 L194.95,351.59 L195.28,357.94 L195.61,363.02 L195.94,368.29 L196.27,373.66 L196.6,377.7 L196.93,383.57 L197.26,387.6 L197.59,392.41 L197.92,395.35 L198.25,399.5 L198.58,402.94 L198.91,406.22 L199.24,410.79 L199.57,413.31 L199.9,416.87 L200.23,418.69 L200.56,422.13 L200.89,423.55 L201.22,426.85 L201.55,429.17 L201.88,432.18 L202.21,434.13 L202.54,435.92 L202.87,438.5 L203.2,439.87 L203.53,441.84 L203.86,443.5 L204.19,444.54 L204.52,445.87 L204.85,447.57 L205.18,448.61 L205.51,450.28 L205.84,451.84 L206.17,452.83 L206.5,452.91 L206.83,453.26 L207.16,454.86 L207.49,455.63 L207.82,457.28 L208.15,457.16 L208.48,458.16 L208.81,459.59 L209.14,459.63 L209.47,460.56 L209.8,462.37 L210.13,462.94 L210.46,462.91 L210.79,463.16 L211.12,463.02 L211.45,464.58 L211.78,464.74 L212.11,465.37 L212.44,465.39 L212.77,465.99 L213.1,466.24 L213.19,466.6 L213.2,310 L213.53,317.74 L213.86,325.35 L214.19,332.22 L214.52,339.71 L214.85,345.65 L215.18,351.02 L215.51,357.26 L215.84,361.95 L216.17,367.97 L216.5,373.19 L216.83,377.64 L217.16,380.74 L217.49,386.29 L217.82,390.99 L218.15,394.8 L218.48,398.89 L218.81,400.8 L219.14,405.19 L219.47,407.68 L219.8,411.22 L220.13,414.23 L220.46,417.13 L220.79,418.84 L221.12,421.65 L221.45,423.17 L221.78,425.1 L222.11,428.37 L222.44,429.94 L222.77,430.76 L223.1,433.09 L223.43,435.48 L223.76,438.13 L224.09,439.37 L224.42,440.69 L224.75,440.51 L225.08,442.77 L225.41,444.45 L225.74,445.52 L226.07,446.57 L226.4,447.24 L226.73,449.5 L227.06,450.33 L227.39,450.33 L227.72,450.39 L228.05,453.16 L228.38,452.43 L228.71,454.38 L229.04,455.68 L229.37,454.49 L229.7,455.77 L230.03,455.83 L230.36,457.01 L230.69,457.51 L231.02,458.99 L231.35,458.56 L231.68,458.65 L232.01,459.64 L232.34,459.1 L232.67,459.57 L233,461.83 L233.09,461 L233.1,474 L233.1,327 L233.43,333.99 L233.76,341.02 L234.09,346.78 L234.42,352.63 L234.75,357.44 L235.08,364.86 L235.41,369.07 L235.74,375.72 L236.07,379.12 L236.4,383.35 L236.73,386.35 L237.06,392.58 L237.39,395.17 L237.72,399.13 L238.05,401.26 L238.38,406.61 L238.71,409.68 L239.04,411.45 L239.37,414.67 L239.7,417.52 L240.03,420.39 L240.36,422.33 L240.69,425.46 L241.02,426.26 L241.35,427.93 L241.68,430.12 L242.01,430.6 L242.34,433.46 L242.67,436.23 L243,437.45 L243.33,438.23 L243.66,440.47 L243.99,440.12 L244.32,442.68 L244.65,444.5 L244.98,445.86 L245.31,446.16 L245.64,448.32 L245.97,449.95 L246.3,449.5 L246.63,451.21 L246.96,450.55 L247.29,451.11 L247.62,453.5 L247.95,453.93 L248.28,454.81 L248.61,454.95 L248.94,455.94 L249.27,457.1 L249.6,458.22 L249.93,457.65 L250.26,457.18 L250.59,459.39 L250.92,459.53 L251.25,460.06 L251.58,460.02 L251.91,461.87 L252.24,460.67 L252.57,461.16 L252.9,459.93 L252.99,461.8 L253,475 L253,321.5 L253.33,328.58 L253.66,335.26 L253.99,341.89 L254.32,347.76 L254.65,354.07 L254.98,359.72 L255.31,365.56 L255.64,369.69 L255.97,373.91 L256.3,378.33 L256.63,383.27 L256.96,388.41 L257.29,391.73 L257.62,394.41 L257.95,398.87 L258.28,400.91 L258.61,405.6 L258.94,407.7 L259.27,411.23 L259.6,413.97 L259.93,415.8 L260.26,418.5 L260.59,420.04 L260.92,423.01 L261.25,426.01 L261.58,430 L261.91,429.62 L262.24,431.03 L262.57,432.13 L262.9,435.09 L263.23,434.85 L263.56,436.79 L263.89,438.87 L264.22,439.3 L264.55,442.44 L264.88,443.26 L265.21,443.25 L265.54,444.33 L265.87,444.95 L266.2,445.8 L266.53,447.91 L266.86,448.69 L267.19,449.22 L267.52,449.98 L267.85,450.28 L268.18,451.48 L268.51,450.88 L268.84,452.56 L269.17,454.08 L269.5,454.5 L269.83,453.92 L270.16,454.54 L270.49,456.25 L270.82,457.04 L271.15,455.28 L271.48,456.37 L271.81,457.18 L272.14,458.05 L272.47,456.96 L272.8,458.34 L272.89,459 L272.9,316.6 L273.23,323.59 L273.56,330.8 L273.89,337.16 L274.22,343.12 L274.55,349.43 L274.88,354.97 L275.21,360.8 L275.54,364.75 L275.87,369.52 L276.2,374.18 L276.53,379.65 L276.86,383.06 L277.19,385.78 L277.52,389.85 L277.85,393.2 L278.18,397.01 L278.51,400.28 L278.84,404.87 L279.17,405.04 L279.5,409.61 L279.83,411.71 L280.16,413.35 L280.49,416.11 L280.82,418.16 L281.15,420.62 L281.48,423.19 L281.81,423.53 L282.14,427.03 L282.47,427.63 L282.8,430.48 L283.13,431.25 L283.46,433.27 L283.79,434.18 L284.12,435.77 L284.45,436.53 L284.78,437.22 L285.11,439.46 L285.44,440.57 L285.77,442.6 L286.1,440.98 L286.43,443.21 L286.76,445.15 L287.09,444.46 L287.42,445.96 L287.75,448.24 L288.08,448.17 L288.41,447.22 L288.74,449.38 L289.07,449.91 L289.4,450.17 L289.73,450.58 L290.06,451.14 L290.39,450.88 L290.72,451.72 L291.05,453.15 L291.38,453.24 L291.71,454.67 L292.04,453.78 L292.37,452.79 L292.7,454.45 L292.79,454.5 L292.8,337.2 L293.13,343.64 L293.46,349.63 L293.79,355.88 L294.12,361.46 L294.45,367 L294.78,371.83 L295.11,375.5 L295.44,380.33 L295.77,385.39 L296.1,388.62 L296.43,394.59 L296.76,396.26 L297.09,399.43 L297.42,403.91 L297.75,406.6 L298.08,409.06 L298.41,411.73 L298.74,414.94 L299.07,417.88 L299.4,420.2 L299.73,422.01 L300.06,424.65 L300.39,426.83 L300.72,428.56 L301.05,428.12 L301.38,431.35 L301.71,433.09 L302.04,435 L302.37,436.71 L302.7,438.81 L303.03,440 L303.36,441.03 L303.69,442.37 L304.02,444.47 L304.35,444.16 L304.68,445.8 L305.01,447.62 L305.34,447.96 L305.67,447.31 L306,449.88 L306.33,450.21 L306.66,451.11 L306.99,452.66 L307.32,452.93 L307.65,453.24 L307.98,454.72 L308.31,455.03 L308.64,455.44 L308.97,456.17 L309.3,456.62 L309.63,456.8 L309.96,457.16 L310.29,457.98 L310.62,457.67 L310.95,457.87 L311.28,459.95 L311.61,459.22 L311.94,459.65 L312.27,459.85 L312.6,460.32 L312.69,460.6 L312.7,343.2 L313.03,349.13 L313.36,354.99 L313.69,360.81 L314.02,365.71 L314.35,369.66 L314.68,375.19 L315.01,380.19 L315.34,383.63 L315.67,388.49 L316,391.96 L316.33,395.47 L316.66,398.28 L316.99,401.46 L317.32,404.77 L317.65,407.98 L317.98,410.99 L318.31,413.51 L318.64,415.52 L318.97,418.19 L319.3,420.7 L319.63,421.58 L319.96,424.39 L320.29,426.46 L320.62,428.65 L320.95,430.33 L321.28,432.2 L321.61,433.38 L321.94,436.05 L322.27,437.4 L322.6,437.49 L322.93,439.86 L323.26,440.37 L323.59,443.31 L323.92,442.94 L324.25,444.01 L324.58,445.42 L324.91,446.15 L325.24,447.14 L325.57,449 L325.9,448.83 L326.23,450.16 L326.56,450.87 L326.89,450.15 L327.22,452.62 L327.55,452.49 L327.88,453.33 L328.21,452.86 L328.54,454.43 L328.87,454.72 L329.2,454.51 L329.53,456.88 L329.86,456.24 L330.19,456.17 L330.52,457.01 L330.85,457.91 L331.18,458.56 L331.51,458.63 L331.84,459.26 L332.17,459.78 L332.5,458.37 L332.59,459 L332.6,359.7 L332.93,364.69 L333.26,370.03 L333.59,374.46 L333.92,379.1 L334.25,382.78 L334.58,387.42 L334.91,391.28 L335.24,394.52 L335.57,398.15 L335.9,399.86 L336.23,405.1 L336.56,406.47 L336.89,408.67 L337.22,411.98 L337.55,414.75 L337.88,418.18 L338.21,419.47 L338.54,422.36 L338.87,423.59 L339.2,427.69 L339.53,428.43 L339.86,430.99 L340.19,430.77 L340.52,433.25 L340.85,433.72 L341.18,436.27 L341.51,437.74 L341.84,437.63 L342.17,439.21 L342.5,440.43 L342.83,441.33 L343.16,442.79 L343.49,443.61 L343.82,444.23 L344.15,446.25 L344.48,447.55 L344.81,447.19 L345.14,448.38 L345.47,449.41 L345.8,449.93 L346.13,450.45 L346.46,452.12 L346.79,452.76 L347.12,453.17 L347.45,453.23 L347.78,455.22 L348.11,455.57 L348.44,454.67 L348.77,455.48 L349.1,456.75 L349.43,456.05 L349.76,457.35 L350.09,457.51 L350.42,457.47 L350.75,458.11 L351.08,457.49 L351.41,458.45 L351.74,457.73 L352.07,460.84 L352.4,460.62 L352.49,459 L352.5,357.8 L352.83,363.29 L353.16,368.56 L353.49,372.22 L353.82,378.03 L354.15,381.47 L354.48,386.92 L354.81,390.39 L355.14,394.76 L355.47,399.37 L355.8,400.76 L356.13,405.28 L356.46,408.41 L356.79,410.1 L357.12,414.66 L357.45,416.97 L357.78,419.15 L358.11,421.36 L358.44,426.26 L358.77,426.07 L359.1,427.35 L359.43,430.02 L359.76,432.14 L360.09,433.88 L360.42,435.76 L360.75,436.65 L361.08,439.13 L361.41,439.95 L361.74,440.78 L362.07,442.32 L362.4,443.83 L362.73,445.91 L363.06,446.71 L363.39,447.2 L363.72,448.64 L364.05,449.89 L364.38,451.87 L364.71,450.92 L365.04,452.53 L365.37,453.4 L365.7,453.07 L366.03,454.5 L366.36,455.23 L366.69,455.24 L367.02,456.32 L367.35,457.1 L367.68,457.83 L368.01,457.49 L368.34,458.08 L368.67,460.01 L369,458.29 L369.33,459.56 L369.66,460.37 L369.99,460.32 L370.32,461.14 L370.65,461.19 L370.98,461.96 L371.31,462.61 L371.64,461.9 L371.97,462.36 L372.3,462.49 L372.39,463 L372.4,365.8 L372.73,370.68 L373.06,375.32 L373.39,380.01 L373.72,384.23 L374.05,388.59 L374.38,390.99 L374.71,396.03 L375.04,398.71 L375.37,401.83 L375.7,405 L376.03,409.25 L376.36,411.96 L376.69,413.6 L377.02,415.81 L377.35,419.12 L377.68,421.12 L378.01,424.75 L378.34,424.78 L378.67,426.32 L379,429.3 L379.33,431.15 L379.66,433.06 L379.99,434.94 L380.32,437.17 L380.65,437.11 L380.98,438.43 L381.31,438.99 L381.64,441.45 L381.97,443.16 L382.3,443.45 L382.63,445.44 L382.96,445.66 L383.29,447.59 L383.62,447.85 L383.95,447.79 L384.28,448.98 L384.61,449.29 L384.94,449.78 L385.27,451.72 L385.6,452.78 L385.93,454.07 L386.26,453.41 L386.59,453.68 L386.92,453.73 L387.25,455.68 L387.58,455.77 L387.91,455.46 L388.24,456.73 L388.57,457.02 L388.9,455.89 L389.23,457.95 L389.56,457.99 L389.89,457.93 L390.22,458.37 L390.55,459.86 L390.88,459.9 L391.21,460.41 L391.54,458.59 L391.87,459.22 L392.2,460.34 L392.29,460.7 L392.3,365.8 L392.63,371.04 L392.96,375.76 L393.29,380.54 L393.62,385.24 L393.95,389.41 L394.28,393.26 L394.61,398.8 L394.94,401.03 L395.27,403.93 L395.6,408.56 L395.93,411.64 L396.26,414.97 L396.59,418.01 L396.92,418.86 L397.25,422.87 L397.58,425.53 L397.91,427.13 L398.24,429.48 L398.57,429.34 L398.9,432.95 L399.23,436.45 L399.56,435.77 L399.89,438.35 L400.22,440.55 L400.55,442.32 L400.88,444.37 L401.21,443.61 L401.54,445.97 L401.87,447.91 L402.2,447.71 L402.53,449.58 L402.86,452.05 L403.19,452.83 L403.52,453.25 L403.85,452.34 L404.18,454.75 L404.51,455.96 L404.84,456.43 L405.17,457.14 L405.5,460 L405.83,458.54 L406.16,458.71 L406.49,460.01 L406.82,460.28 L407.15,460.74 L407.48,461.32 L407.81,462.35 L408.14,462.36 L408.47,462.04 L408.8,463.04 L409.13,463.78 L409.46,463.53 L409.79,464.96 L410.12,465.16 L410.45,464.43 L410.78,465.58 L411.11,466.94 L411.44,466.97 L411.77,466.28 L412.1,467.24 L412.19,466.7 L412.2,363.4 L412.53,368.6 L412.86,373.21 L413.19,378.99 L413.52,383.2 L413.85,387.19 L414.18,391.39 L414.51,394.66 L414.84,398.04 L415.17,401.9 L415.5,405.25 L415.83,407.97 L416.16,410.45 L416.49,414.21 L416.82,417.52 L417.15,419.45 L417.48,422.15 L417.81,423.27 L418.14,426.63 L418.47,428.88 L418.8,430.19 L419.13,431.69 L419.46,435.01 L419.79,435.97 L420.12,438.48 L420.45,439.51 L420.78,441.69 L421.11,442.45 L421.44,443.09 L421.77,445.27 L422.1,446.34 L422.43,448.08 L422.76,448.31 L423.09,449.33 L423.42,451.09 L423.75,452.24 L424.08,452.99 L424.41,453.86 L424.74,454.32 L425.07,455.08 L425.4,455.79 L425.73,456.11 L426.06,456.32 L426.39,456.8 L426.72,458.87 L427.05,457.88 L427.38,458.24 L427.71,458.58 L428.04,459.48 L428.37,460.1 L428.7,459.55 L429.03,459.57 L429.36,461.5 L429.69,460.59 L430.02,462.26 L430.35,462.52 L430.68,463.55 L431.01,464.21 L431.34,463.54 L431.67,463.29 L432,463.15 L432.09,464.3 L432.1,368 L432.43,373.17 L432.76,378.07 L433.09,383.29 L433.42,387.42 L433.75,391.86 L434.08,396.48 L434.41,400.22 L434.74,402.93 L435.07,408.08 L435.4,411.67 L435.73,414.72 L436.06,418.28 L436.39,420.28 L436.72,423.15 L437.05,426.15 L437.38,427.61 L437.71,431.21 L438.04,433.42 L438.37,434.84 L438.7,437.55 L439.03,438.79 L439.36,439.44 L439.69,442.35 L440.02,443.32 L440.35,444.85 L440.68,446.19 L441.01,448.58 L441.34,449.5 L441.67,450.14 L442,452.18 L442.33,453.49 L442.66,453.52 L442.99,454.76 L443.32,455.59 L443.65,456.36 L443.98,458.04 L444.31,459.37 L444.64,460.87 L444.97,461.16 L445.3,461.66 L445.63,462.4 L445.96,463.17 L446.29,462.82 L446.62,464.32 L446.95,464.58 L447.28,464.8 L447.61,465.09 L447.94,465.53 L448.27,466.04 L448.6,465.88 L448.93,467.5 L449.26,467.61 L449.59,467.97 L449.92,468.49 L450.25,468.93 L450.58,468.5 L450.91,469.04 L451.24,468.35 L451.57,468.21 L451.9,468.62 L451.99,470 L452,377.2 L452.33,381.8 L452.66,385.98 L452.99,391.27 L453.32,394.81 L453.65,398.69 L453.98,403.41 L454.31,405.6 L454.64,409.36 L454.97,412.24 L455.3,415.99 L455.63,418.37 L455.96,420.95 L456.29,422.95 L456.62,425.82 L456.95,428.8 L457.28,428.85 L457.61,432.2 L457.94,434.02 L458.27,436.14 L458.6,436.87 L458.93,440.34 L459.26,440.88 L459.59,442.67 L459.92,443.89 L460.25,444.52 L460.58,446.61 L460.91,446.95 L461.24,448.79 L461.57,450.37 L461.9,451.67 L462.23,452.79 L462.56,453.66 L462.89,456.05 L463.22,455.86 L463.55,455.44 L463.88,456.74 L464.21,457.32 L464.54,458.42 L464.87,458.82 L465.2,459.41 L465.53,461.67 L465.86,461.14 L466.19,461.57 L466.52,462.19 L466.85,462.74 L467.18,464.29 L467.51,464.26 L467.84,465.2 L468.17,462.89 L468.5,465.39 L468.83,466.21 L469.16,467.19 L469.49,466.45 L469.82,465.69 L470.15,467.5 L470.48,467.15 L470.81,466.66 L471.14,467.69 L471.47,469.06 L471.8,469.26 L471.89,468 L471.9,472 L471.9,377.7 L472.23,382.6 L472.56,387.1 L472.89,391.25 L473.22,394.96 L473.55,399.55 L473.88,404.07 L474.21,406.39 L474.54,409.48 L474.87,413.73 L475.2,415.48 L475.53,418.16 L475.86,421.98 L476.19,424.53 L476.52,427.31 L476.85,429.49 L477.18,432.24 L477.51,434.04 L477.84,435.66 L478.17,437.52 L478.5,440.11 L478.83,441.88 L479.16,443.62 L479.49,445.01 L479.82,443.91 L480.15,446.81 L480.48,448.63 L480.81,450.21 L481.14,450.19 L481.47,453.31 L481.8,453.78 L482.13,454.33 L482.46,455.96 L482.79,456.6 L483.12,457.21 L483.45,458.72 L483.78,458.97 L484.11,459.2 L484.44,460.39 L484.77,461.5 L485.1,461.65 L485.43,463.84 L485.76,463.03 L486.09,465.51 L486.42,465.35 L486.75,464.65 L487.08,465.82 L487.41,467.05 L487.74,466.54 L488.07,466.29 L488.4,467.47 L488.73,469.1 L489.06,467.24 L489.39,469.04 L489.72,469.12 L490.05,469.4 L490.38,469.58 L490.71,469.95 L491.04,471.14 L491.37,471.29 L491.7,470.29 L491.79,470.3 L491.8,379.6 L492.13,384.37 L492.46,389.01 L492.79,393.64 L493.12,396.92 L493.45,401.51 L493.78,405.69 L494.11,408.44 L494.44,410.79 L494.77,414.81 L495.1,417.21 L495.43,421.31 L495.76,422.82 L496.09,427.08 L496.42,428.53 L496.75,430.2 L497.08,432.51 L497.41,434.42 L497.74,437.53 L498.07,440.13 L498.4,440.96 L498.73,443.56 L499.06,443.88 L499.39,446.51 L499.72,449.2 L500.05,448.18 L500.38,451.13 L500.71,452.39 L501.04,451.5 L501.37,452.95 L501.7,454.45 L502.03,456.78 L502.36,456.84 L502.69,458.1 L503.02,459.49 L503.35,460.05 L503.68,460.91 L504.01,461.36 L504.34,463.05 L504.67,462.54 L505,464.81 L505.33,464.06 L505.66,464.31 L505.99,465.86 L506.32,466.28 L506.65,465.11 L506.98,466.97 L507.31,466.35 L507.64,467.13 L507.97,468.62 L508.3,467.96 L508.63,469.07 L508.96,468.96 L509.29,470.68 L509.62,469.42 L509.95,469.03 L510.28,469.22 L510.61,469.54 L510.94,470.38 L511.27,470.62 L511.6,471.38 L511.69,471.5 L511.7,375.2 L512.03,379.94 L512.36,384.23 L512.69,388.12 L513.02,391.86 L513.35,396.64 L513.68,400.35 L514.01,404.09 L514.34,408.27 L514.67,410.32 L515,413.3 L515.33,415.94 L515.66,418.73 L515.99,420.95 L516.32,422.97 L516.65,427.09 L516.98,426.66 L517.31,430.06 L517.64,432 L517.97,433.72 L518.3,434.63 L518.63,437.03 L518.96,438.63 L519.29,439.87 L519.62,441.97 L519.95,443.07 L520.28,444.41 L520.61,446.49 L520.94,446.61 L521.27,448.66 L521.6,449.17 L521.93,450.8 L522.26,451.56 L522.59,452.44 L522.92,452.47 L523.25,453.5 L523.58,454.21 L523.91,455.59 L524.24,456.76 L524.57,457.66 L524.9,457.4 L525.23,458.15 L525.56,457.68 L525.89,457.89 L526.22,459.15 L526.55,459.65 L526.88,459.64 L527.21,459.84 L527.54,461.71 L527.87,461.31 L528.2,461.1 L528.53,464.12 L528.86,462.99 L529.19,463.04 L529.52,464.1 L529.85,463.5 L530.18,465.09 L530.51,463.39 L530.84,463.8 L531.17,464.71 L531.5,464.67 L531.59,465.5 L531.6,385.6 L531.93,389.84 L532.26,394.64 L532.59,398.03 L532.92,402.59 L533.25,405.55 L533.58,408.1 L533.91,412.18 L534.24,415.31 L534.57,418.41 L534.9,421.46 L535.23,422.92 L535.56,426.32 L535.89,428.98 L536.22,430.58 L536.55,432.25 L536.88,434.11 L537.21,437.07 L537.54,439.04 L537.87,440.06 L538.2,441.3 L538.53,444.47 L538.86,444.22 L539.19,446.82 L539.52,447.51 L539.85,448.2 L540.18,450.51 L540.51,451.46 L540.84,453.73 L541.17,455.5 L541.5,454.9 L541.83,456.63 L542.16,457.6 L542.49,457.57 L542.82,458.22 L543.15,460.54 L543.48,460.05 L543.81,461.07 L544.14,461.49 L544.47,462.1 L544.8,462.46 L545.13,463.93 L545.46,464.87 L545.79,464.33 L546.12,464.09 L546.45,465.42 L546.78,464.75 L547.11,465.6 L547.44,467.13 L547.77,468.15 L548.1,467.34 L548.43,466.61 L548.76,468.11 L549.09,466.39 L549.42,467.81 L549.75,469.54 L550.08,469.25 L550.41,468.19 L550.74,468.23 L551.07,470.03 L551.4,469.79 L551.49,470.3 L551.5,386.4 L551.83,390.77 L552.16,395.17 L552.49,399.05 L552.82,402.71 L553.15,405.99 L553.48,408.73 L553.81,413.08 L554.14,415.66 L554.47,419.1 L554.8,421.34 L555.13,423.45 L555.46,425.58 L555.79,429.14 L556.12,431.79 L556.45,432.94 L556.78,435.46 L557.11,437.97 L557.44,438.29 L557.77,440.27 L558.1,441.46 L558.43,444.53 L558.76,445.58 L559.09,446.47 L559.42,446.99 L559.75,449.13 L560.08,451.24 L560.41,451.45 L560.74,452.55 L561.07,454.42 L561.4,454.2 L561.73,456.05 L562.06,457.11 L562.39,457.04 L562.72,457.67 L563.05,459.16 L563.38,459.68 L563.71,460.22 L564.04,461.27 L564.37,461.96 L564.7,461.77 L565.03,462.46 L565.36,463.58 L565.69,464.51 L566.02,465.35 L566.35,464.33 L566.68,466.06 L567.01,466.21 L567.34,466.18 L567.67,466.93 L568,467.49 L568.33,468.28 L568.66,466.73 L568.99,468.22 L569.32,468.02 L569.65,468.31 L569.98,469.39 L570.31,469.25 L570.64,468.34 L570.97,469.07 L571.3,469.55 L571.39,469.8 L571.4,377.9 L571.73,382.67 L572.06,387.38 L572.39,391.58 L572.72,396.12 L573.05,399.74 L573.38,402.25 L573.71,407.21 L574.04,410.04 L574.37,413.1 L574.7,417.04 L575.03,419.44 L575.36,423 L575.69,426.06 L576.02,427.98 L576.35,429.1 L576.68,431.79 L577.01,435.03 L577.34,436.39 L577.67,437.89 L578,440.14 L578.33,442.33 L578.66,443.67 L578.99,445.32 L579.32,445.88 L579.65,447.7 L579.98,449.05 L580.31,450.28 L580.64,450.2 L580.97,452.44 L581.3,452.91 L581.63,455.73 L581.96,456.87 L582.29,457.98 L582.62,458.29 L582.95,458.41 L583.28,460.29 L583.61,460.37 L583.94,461.77 L584.27,461.46 L584.6,462.43 L584.93,463.76 L585.26,465.1 L585.59,464.5 L585.92,466.44 L586.25,467.21 L586.58,465.09 L586.91,466.45 L587.24,466.25 L587.57,467.18 L587.9,467.16 L588.23,467.83 L588.56,468.94 L588.89,469.32 L589.22,469.23 L589.55,469.3 L589.88,469.56 L590.21,469.82 L590.54,470.22 L590.87,469.98 L591.2,470.61 L591.29,470.9 L591.3,390 L591.63,393.28 L591.96,397.13 L592.29,399.39 L592.62,403.21 L592.95,405.17 L593.28,408.93 L593.61,411.09 L593.94,414.57 L594.27,416.9 L594.6,419.31 L594.93,422.62 L595.26,426.05 L595.59,426.66 L595.92,429.91 L596.25,431.43 L596.58,433.43 L596.91,437.08 L597.24,435.59 L597.57,438.24 L597.9,438.86 L598.23,441.51 L598.56,443.1 L598.89,447.65 L599.22,446.23 L599.55,448.48 L599.88,449.4 L600.21,449.33 L600.54,451.49 L600.87,453.51 L601.2,453.63 L601.53,454.58 L601.86,455.78 L602.19,455.16 L602.52,456.62 L602.85,458.35 L603.18,459.35 L603.51,459.08 L603.84,460.31 L604.17,461.32 L604.5,462.03 L604.83,463.36 L605.16,463.73 L605.49,464.46 L605.82,463.88 L606.15,464.77 L606.48,466.42 L606.81,465.57 L607.14,467.46 L607.47,467.38 L607.8,467.92 L608.13,469.61 L608.46,468.92 L608.79,468.94 L609.12,469.34 L609.45,470.22 L609.78,472.68 L610.11,469.17 L610.44,471.02 L610.77,471.28 L611.1,472.37 L611.43,471.7 L611.76,470.4 L612.09,473.41 L612.42,471.78 L612.75,472.71 L613.08,471.78 L613.41,471.96 L613.74,472.43 L614.07,473.7 L614.4,473.82 L614.73,472.92 L615.06,473.83 L615.39,473.28 L615.72,473.79 L616.05,473.8 L616.38,474.13 L616.71,473.38 L617.04,473.93 L617.37,474.26 L617.7,474.31 L618.03,473.87 L618.36,476.2 L618.69,474.59 L619.02,475.77 L619.35,475.76 L619.68,476.73 L620.01,474.43 L620.34,477.6 L620.67,476.19 L621,475.59 L621.33,476.61 L621.66,478.55 L621.99,477.51 L622.32,476.5 L622.65,477.43 L622.98,479.01 L623.31,477 L623.64,478.09 L623.97,478.19 L624.3,480.34 L624.63,478.57 L624.96,480.02 L625.29,478.78 L625.62,478.93 L625.95,480.79 L626.28,480.95 L626.61,479.21 L626.94,481.19 L627.27,481.25 L627.6,480.35 L627.93,481.26 L628.26,481.39 L628.59,480.9 L628.92,481 L629.25,481.24 L629.58,481.73 L629.91,481.08 L630.24,482.4 L630.57,481.54 L630.9,483.02 L631.23,483.22 L631.56,482.58 L631.89,484.28 L632.22,485.26 L632.55,485.13 L632.88,483.36 L633.21,485.51 L633.54,485.07 L633.87,484.94 L634.2,484.85 L634.53,485.52 L634.86,486.69 L635.19,486.08 L635.52,485.47 L635.85,485.44 L636.18,485.71 L636.51,486.71 L636.84,487.69 L637.17,485.58 L637.5,486.54 L637.83,486.17 L638.16,486.06 L638.49,486.94 L638.82,486.9 L639.15,485.43 L639.48,485.81 L639.81,487.75 L640.14,487.12 L640.47,487.55 L640.8,487.01 L641.13,487.32 L641.46,488.19 L641.79,487.57 L642.12,487.09 L642.45,488.07 L642.78,488.93 L643.11,487.5 L643.44,489.12 L643.77,488.71 L644.1,487.61 L644.43,488.36 L644.76,488.21 L645.09,488.77 L645.42,488.91 L645.75,487.39 L646.08,487.46 L646.41,489.41 L646.74,488.55 L647.07,488.77 L647.4,488.79 L647.73,489.85 L648.06,487.92 L648.39,489.51 L648.72,488.05 L649.05,489.36 L649.38,490.01 L649.71,488.13 L650.04,489.43 L650.37,488.9 L650.7,488.79 L651.03,489.16 L651.36,488.19 L651.69,488.42 L652.02,489.79 L652.35,490.01 L652.68,488.69 L653.01,487.94 L653.34,490.95 L653.67,489.85 L654,489.26 L654.33,488.19 L654.66,488.65 L654.99,489.34 L655.32,488.45 L655.65,490.39 L655.98,489.28 L656.31,489.48 L656.64,488.49 L656.97,488.59 L657.3,488.81 L657.63,489.44 L657.96,489.18 L658.29,489.15 L658.62,489.76 L658.95,489.71 L659.28,490.8 L659.61,489.69 L659.94,489.01 L660.27,489.8 L660.6,490.92 L660.93,489.39 L661.26,489.67 L661.59,489.34 L661.92,489.9 L662.25,489.7 L662.58,488.87 L662.91,489.15 L663.24,490.22 L663.57,490.4 L663.9,490.5 L664.23,490.37 L664.56,489.33 L664.89,489.35 L665.22,490.16 L665.55,488.6 L665.88,489.39 L666.21,488 L666.54,489.19 L666.87,488.97 L667.2,488.83 L667.53,490.3 L667.86,489.17 L668.19,489.6 L668.52,489.55 L668.85,489.23 L669.18,490.76 L669.51,489.21 L669.84,489.91 L670.17,488.71 L670.5,489.3 L670.83,489.38 L671.16,489.39 L671.49,489.37 L671.82,489.82 L672.15,490.74 L672.48,489.49 L672.81,489.27 L673.14,489.01 L673.47,491.36 L673.8,490.62 L674.13,489.74 L674.46,489.75 L674.79,488.54 L675.12,488.87 L675.45,489.14 L675.78,489.19 L676.11,488.53 L676.44,488.49 L676.77,489.37 L677.1,489.26 L677.43,487.17 L677.76,488.77 L678.09,489.6 L678.42,487.97" fill="none" stroke="#000000" stroke-width="1.8" stroke-linejoin="round" stroke-linecap="butt" />
<path d="M809,512.15 L809.33,512.74 L809.66,511.74 L809.99,512.08 L810.32,512.21 L810.65,512.53 L810.98,511.76 L811.31,512.96 L811.64,512.23 L811.97,512.27 L812.3,512.2 L812.63,511.88 L812.96,511.73 L813.29,512.89 L813.62,512.46 L813.95,512.35 L814.28,512.94 L814.61,512.07 L814.94,512.64 L815.27,512.41 L815.6,512.04 L815.93,512.91 L816.26,511.83 L816.59,512.93 L816.92,512.18 L817.25,512.84 L817.58,513.33 L817.91,512.96 L818.24,512.32 L818.57,512.57 L818.9,512.45 L819.23,512.04 L819.56,511.89 L819.89,512.47 L820.22,512.54 L820.55,511.54 L820.88,512.42 L821.21,512.75 L821.54,512.51 L821.87,511.87 L822.2,512.85 L822.53,511.74 L822.86,512.6 L823.19,513.09 L823.52,511.34 L823.85,512.52 L824.18,512.47 L824.51,512.27 L824.84,511.78 L825.17,511.95 L825.5,511.45 L825.83,512.31 L826.16,512.62 L826.49,512.04 L826.82,511.98 L827.15,512.3 L827.48,512.52 L827.81,512.56 L828.14,512.53 L828.47,512.6 L828.8,511.88 L829.13,511.11 L829.46,512.74 L829.79,513.08 L830.12,511.73 L830.45,512.06 L830.78,512.62 L831.11,513.01 L831.44,512.75 L831.77,513.11 L832.1,512.41 L832.43,512.71 L832.76,512.72 L833.09,512.28 L833.42,513.12 L833.75,512.78 L834.08,512.96 L834.41,512.3 L834.74,512.97 L835.07,511.97 L835.4,512.59 L835.73,511.15 L836.06,511.84 L836.39,512.73 L836.72,512.17 L837.05,512.52 L837.38,511.59 L837.71,513.35 L838.04,512.87 L838.37,512.57 L838.7,512.73 L839.03,512.78 L839.36,513.28 L839.69,512.76 L840.02,511.86 L840.35,512.48 L840.68,513.21 L841.01,512.92 L841.34,512.42 L841.67,512.86 L842,512.65 L842.33,512.81 L842.66,511.66 L842.99,512.05 L843.32,512.68 L843.65,512.29 L843.98,512.54 L844.31,513.26 L844.64,512.17 L844.97,512.49 L845.3,512.06 L845.63,512.01 L845.96,512.33 L846.29,511.71 L846.62,511.38 L846.95,513.02 L847.28,512.23 L847.61,512.79 L847.94,512.34 L848.27,512.4 L848.6,512.67 L848.93,512.78 L849.26,511.81 L849.59,512.95 L849.92,511.85 L850.25,512.55 L850.58,513.54 L850.91,512.34 L851.24,513.13 L851.57,512.13 L851.9,512.75 L852.23,512.55 L852.56,512.77 L852.89,512.08 L853.22,512.07 L853.55,512.65 L853.88,511.72 L854.21,512.08 L854.54,512.76 L854.87,512.18 L855.2,512.15 L855.53,512.11 L855.86,512.74 L856.19,512.34 L856.52,512.66 L856.85,512.56 L857.18,513.53 L857.51,512.36 L857.84,511.65 L858.17,512.6 L858.5,512.58 L858.83,512.57 L859.16,511.64 L859.49,512.97 L859.82,512.29 L860.15,512.28 L860.48,511.56 L860.81,512.47 L861.14,512.26 L861.47,512.91 L861.8,512.08 L862.13,511.69 L862.46,512.32 L862.79,511.77 L863,512.5 L863,302.2 L863.33,314.84 L863.66,326.31 L863.99,336.56 L864.32,346.59 L864.65,355.05 L864.98,361.78 L865.31,369.84 L865.64,376.05 L865.97,381.83 L866.3,387.91 L866.63,393.28 L866.96,397.44 L867.29,402.12 L867.62,406.59 L867.95,410.04 L868.28,414.3 L868.61,417.54 L868.94,420.58 L869.27,423.75 L869.6,427.31 L869.93,430.27 L870.26,432.73 L870.59,434.62 L870.92,437.96 L871.25,440.04 L871.58,442.38 L871.91,444.82 L872.24,445.83 L872.57,448.16 L872.9,449.79 L873.23,451.34 L873.56,454.42 L873.89,455.44 L874.22,455.81 L874.55,458.31 L874.88,459.19 L875.21,461.2 L875.54,462.1 L875.87,463.31 L876.2,464.54 L876.53,465.89 L876.86,466.81 L877.19,467.7 L877.52,468.71 L877.85,469.94 L878.18,470.17 L878.51,471.56 L878.84,472.2 L879.17,472.96 L879.5,474.34 L879.83,474.04 L880.16,475.13 L880.49,475.5 L880.82,476.78 L881.15,476.94 L881.48,477.77 L881.81,478.43 L882.14,477.97 L882.47,479.49 L882.8,479.41 L882.95,480 L882.96,256.2 L883.29,271.45 L883.62,284.68 L883.95,297.14 L884.28,307.93 L884.61,317.58 L884.94,327.48 L885.27,335.34 L885.6,342.54 L885.93,349.84 L886.26,356.97 L886.59,362.06 L886.92,369.08 L887.25,373.99 L887.58,378.49 L887.91,383.82 L888.24,388.47 L888.57,392.12 L888.9,396.02 L889.23,400.53 L889.56,403.88 L889.89,406.06 L890.22,409.66 L890.55,412.58 L890.88,415.44 L891.21,417.71 L891.54,421.42 L891.87,423.48 L892.2,425.95 L892.53,428.97 L892.86,430.19 L893.19,432.55 L893.52,434.81 L893.85,436.33 L894.18,438.28 L894.51,440.33 L894.84,441.61 L895.17,443.82 L895.5,444.32 L895.83,446.16 L896.16,446.67 L896.49,448.51 L896.82,449.42 L897.15,451.64 L897.48,452.46 L897.81,453.39 L898.14,455.12 L898.47,455.98 L898.8,456.55 L899.13,456.76 L899.46,457.34 L899.79,458.88 L900.12,459.47 L900.45,460.13 L900.78,461.04 L901.11,461.19 L901.44,463.29 L901.77,462.76 L902.1,463.63 L902.43,464.74 L902.76,464.35 L902.91,465.5 L902.92,276.3 L903.25,289.62 L903.58,301.2 L903.91,312.6 L904.24,321.43 L904.57,330.29 L904.9,338.47 L905.23,346.36 L905.56,353.12 L905.89,359.1 L906.22,365.53 L906.55,370.49 L906.88,375.92 L907.21,381.17 L907.54,384.34 L907.87,387.24 L908.2,392.2 L908.53,395.47 L908.86,399.55 L909.19,402.88 L909.52,405.31 L909.85,408.1 L910.18,411.4 L910.51,414.15 L910.84,415.56 L911.17,419.56 L911.5,421.29 L911.83,423.54 L912.16,425.83 L912.49,427.22 L912.82,429.58 L913.15,431.95 L913.48,433.67 L913.81,435.01 L914.14,436.17 L914.47,437.44 L914.8,439.89 L915.13,440.97 L915.46,441.89 L915.79,442.25 L916.12,444.23 L916.45,444.81 L916.78,447.51 L917.11,448.15 L917.44,448.82 L917.77,449.87 L918.1,452.29 L918.43,452.61 L918.76,452.33 L919.09,453.59 L919.42,453.79 L919.75,454.3 L920.08,455.92 L920.41,457.81 L920.74,458.01 L921.07,458 L921.4,458.45 L921.73,459.2 L922.06,460.1 L922.39,459.38 L922.72,459.7 L922.87,460.6 L922.88,282.9 L923.21,295.4 L923.54,306.43 L923.87,316.71 L924.2,325.06 L924.53,332.61 L924.86,341.28 L925.19,348.44 L925.52,354.41 L925.85,359.92 L926.18,365.96 L926.51,371.78 L926.84,375.35 L927.17,379.48 L927.5,383.65 L927.83,388.87 L928.16,391.56 L928.49,395.34 L928.82,398.93 L929.15,401.81 L929.48,403.75 L929.81,407.45 L930.14,410.06 L930.47,412.37 L930.8,415.07 L931.13,416.55 L931.46,418.99 L931.79,420.91 L932.12,423.51 L932.45,424.74 L932.78,427.05 L933.11,428.04 L933.44,430.11 L933.77,431.59 L934.1,433.28 L934.43,434.81 L934.76,436.06 L935.09,437.36 L935.42,437.59 L935.75,440.39 L936.08,440.75 L936.41,442.01 L936.74,442.64 L937.07,444.58 L937.4,444.55 L937.73,446.32 L938.06,447.54 L938.39,448.63 L938.72,449.17 L939.05,449.69 L939.38,449.5 L939.71,451.4 L940.04,452.04 L940.37,452.47 L940.7,453.19 L941.03,453.35 L941.36,453.64 L941.69,454.95 L942.02,455.49 L942.35,454.98 L942.68,456.3 L942.83,455.8 L942.84,240.5 L943.17,255.58 L943.5,268.62 L943.83,280.93 L944.16,292.52 L944.49,300.82 L944.82,310.11 L945.15,319.74 L945.48,326.74 L945.81,333.41 L946.14,340.18 L946.47,345.75 L946.8,351.93 L947.13,357.84 L947.46,361.81 L947.79,366.72 L948.12,371.55 L948.45,376.09 L948.78,378.72 L949.11,382.78 L949.44,385.81 L949.77,389.05 L950.1,392.3 L950.43,395.19 L950.76,397.48 L951.09,399.99 L951.42,403.29 L951.75,406.23 L952.08,409.11 L952.41,410.55 L952.74,412.88 L953.07,415.3 L953.4,417.28 L953.73,418.9 L954.06,420.77 L954.39,423.47 L954.72,423.97 L955.05,425.47 L955.38,426.55 L955.71,428.99 L956.04,430.07 L956.37,432.53 L956.7,432.72 L957.03,434.59 L957.36,435.81 L957.69,437.28 L958.02,436.83 L958.35,439.43 L958.68,439.65 L959.01,440.52 L959.34,441.4 L959.67,442.16 L960,442.99 L960.33,442.73 L960.66,444.86 L960.99,445.33 L961.32,445.55 L961.65,446.63 L961.98,448.37 L962.31,448.02 L962.64,448.21 L962.79,448.1 L962.8,260.9 L963.13,274.47 L963.46,286.83 L963.79,297.81 L964.12,307.62 L964.45,316.14 L964.78,325.14 L965.11,331.9 L965.44,339.41 L965.77,345.71 L966.1,351.32 L966.43,356.67 L966.76,361.96 L967.09,368.15 L967.42,371.53 L967.75,375.8 L968.08,380.44 L968.41,383.91 L968.74,387.75 L969.07,390.07 L969.4,393.35 L969.73,398.6 L970.06,399.86 L970.39,402.52 L970.72,405.29 L971.05,408.09 L971.38,409.39 L971.71,412.15 L972.04,414.18 L972.37,416.62 L972.7,418.33 L973.03,419.83 L973.36,421.51 L973.69,422.44 L974.02,425.78 L974.35,426.3 L974.68,428.33 L975.01,430.81 L975.34,431.19 L975.67,432.99 L976,433.85 L976.33,435.49 L976.66,436.4 L976.99,437.13 L977.32,439.06 L977.65,439.34 L977.98,439.73 L978.31,441.13 L978.64,442.38 L978.97,442.46 L979.3,444.25 L979.63,445.12 L979.96,446.55 L980.29,445.88 L980.62,447.2 L980.95,446.78 L981.28,448.11 L981.61,448.81 L981.94,449.57 L982.27,449.77 L982.6,450.34 L982.75,450.2 L982.76,287.9 L983.09,299.52 L983.42,309.98 L983.75,319.44 L984.08,327.81 L984.41,335.05 L984.74,342.5 L985.07,349.23 L985.4,354.52 L985.73,360.04 L986.06,364.58 L986.39,370.34 L986.72,373.89 L987.05,377.87 L987.38,382.02 L987.71,385.34 L988.04,389.07 L988.37,392.98 L988.7,395.82 L989.03,399.05 L989.36,401.82 L989.69,403.29 L990.02,406.43 L990.35,409.21 L990.68,411.8 L991.01,412.02 L991.34,414 L991.67,416.76 L992,418.19 L992.33,419.66 L992.66,422.01 L992.99,423.07 L993.32,423.96 L993.65,426.31 L993.98,427.79 L994.31,429.36 L994.64,430.76 L994.97,431.52 L995.3,432.51 L995.63,433.49 L995.96,434.16 L996.29,435.74 L996.62,437.43 L996.95,438.26 L997.28,439.94 L997.61,439.82 L997.94,439.85 L998.27,441.87 L998.6,442.72 L998.93,442.38 L999.26,442.81 L999.59,444.35 L999.92,445.18 L1000.25,444.84 L1000.58,445.79 L1000.91,446.08 L1001.24,446.38 L1001.57,446.66 L1001.9,447.88 L1002.23,448.08 L1002.56,448.35 L1002.71,449 L1002.72,258.9 L1003.05,272.3 L1003.38,284.27 L1003.71,294.85 L1004.04,305.5 L1004.37,313.67 L1004.7,322.48 L1005.03,330.34 L1005.36,335.85 L1005.69,342.42 L1006.02,347.79 L1006.35,354.09 L1006.68,358.38 L1007.01,362.68 L1007.34,368.2 L1007.67,372.25 L1008,375.34 L1008.33,380 L1008.66,383.01 L1008.99,387.55 L1009.32,390.17 L1009.65,392.05 L1009.98,394.9 L1010.31,397.35 L1010.64,400.47 L1010.97,402.91 L1011.3,405.6 L1011.63,407.55 L1011.96,409.08 L1012.29,411.44 L1012.62,414.35 L1012.95,415.99 L1013.28,417.18 L1013.61,418.95 L1013.94,420.59 L1014.27,422.28 L1014.6,422.94 L1014.93,425.47 L1015.26,426.01 L1015.59,427.55 L1015.92,427.47 L1016.25,429.86 L1016.58,431.51 L1016.91,430.86 L1017.24,433.53 L1017.57,434.06 L1017.9,434.48 L1018.23,434.87 L1018.56,437.05 L1018.89,437.49 L1019.22,438.42 L1019.55,438.82 L1019.88,439.31 L1020.21,440.87 L1020.54,440.67 L1020.87,442.18 L1021.2,441.6 L1021.53,442.59 L1021.86,442.91 L1022.19,444.73 L1022.52,443.72 L1022.67,444.8 L1022.68,288.7 L1023.01,299.96 L1023.34,309.99 L1023.67,319.23 L1024,327.41 L1024.33,334.84 L1024.66,341.74 L1024.99,348 L1025.32,354.43 L1025.65,359.64 L1025.98,363.54 L1026.31,368.58 L1026.64,372.59 L1026.97,376.57 L1027.3,380.22 L1027.63,383.44 L1027.96,386.38 L1028.29,388.79 L1028.62,392.9 L1028.95,396.12 L1029.28,397.76 L1029.61,400.98 L1029.94,402.97 L1030.27,405.64 L1030.6,407.32 L1030.93,409.7 L1031.26,411.65 L1031.59,412.41 L1031.92,415.67 L1032.25,417.37 L1032.58,417.93 L1032.91,421.04 L1033.24,422.27 L1033.57,423.77 L1033.9,425.34 L1034.23,426.23 L1034.56,427.13 L1034.89,428.78 L1035.22,429.76 L1035.55,432.14 L1035.88,432.86 L1036.21,432.65 L1036.54,433.6 L1036.87,434.82 L1037.2,435.8 L1037.53,435.94 L1037.86,436.56 L1038.19,438.64 L1038.52,438.89 L1038.85,438.21 L1039.18,438.81 L1039.51,439.8 L1039.84,440.96 L1040.17,441.67 L1040.5,441.77 L1040.83,441.77 L1041.16,443.17 L1041.49,443.71 L1041.82,443.92 L1042.15,443.91 L1042.48,444.88 L1042.63,445.3 L1042.64,275.5 L1042.97,287.52 L1043.3,298.11 L1043.63,308.08 L1043.96,316.76 L1044.29,325.69 L1044.62,331.97 L1044.95,339.79 L1045.28,345.55 L1045.61,350.3 L1045.94,355.51 L1046.27,361.4 L1046.6,365.29 L1046.93,369.74 L1047.26,373.56 L1047.59,376.72 L1047.92,380.6 L1048.25,383.61 L1048.58,386.62 L1048.91,390.18 L1049.24,394.03 L1049.57,396.58 L1049.9,398.28 L1050.23,400.85 L1050.56,403.22 L1050.89,405.65 L1051.22,407.3 L1051.55,408.93 L1051.88,410.86 L1052.21,413.53 L1052.54,416.09 L1052.87,416 L1053.2,416.88 L1053.53,419.92 L1053.86,420.89 L1054.19,422.38 L1054.52,424.33 L1054.85,425 L1055.18,425.44 L1055.51,426.23 L1055.84,428.2 L1056.17,428.73 L1056.5,430.32 L1056.83,430.57 L1057.16,431.81 L1057.49,432.12 L1057.82,433.39 L1058.15,434.11 L1058.48,435.46 L1058.81,436.63 L1059.14,436.66 L1059.47,436.97 L1059.8,439.01 L1060.13,438.83 L1060.46,439.57 L1060.79,440.09 L1061.12,441.11 L1061.45,441.42 L1061.78,441.81 L1062.11,442.34 L1062.44,442.02 L1062.59,442.9 L1062.6,274.1 L1062.93,286.1 L1063.26,296.89 L1063.59,306.32 L1063.92,315.35 L1064.25,323.38 L1064.58,331.06 L1064.91,336.57 L1065.24,344.91 L1065.57,348.96 L1065.9,354.94 L1066.23,359.71 L1066.56,362.24 L1066.89,367.6 L1067.22,372.42 L1067.55,374.21 L1067.88,379.26 L1068.21,381.73 L1068.54,385.07 L1068.87,388.62 L1069.2,390.46 L1069.53,394.17 L1069.86,396.31 L1070.19,398.68 L1070.52,401.73 L1070.85,405.3 L1071.18,405.81 L1071.51,408 L1071.84,409.66 L1072.17,411.16 L1072.5,413.48 L1072.83,415.78 L1073.16,416.63 L1073.49,418.35 L1073.82,419.18 L1074.15,421.92 L1074.48,421.18 L1074.81,423.63 L1075.14,424.76 L1075.47,425.7 L1075.8,426.16 L1076.13,427.27 L1076.46,428.67 L1076.79,429.81 L1077.12,430.16 L1077.45,431.11 L1077.78,432.74 L1078.11,433.61 L1078.44,433.66 L1078.77,434.36 L1079.1,435.05 L1079.43,437.28 L1079.76,436.82 L1080.09,437.14 L1080.42,438.24 L1080.75,439.51 L1081.08,439.38 L1081.41,438.68 L1081.74,439.83 L1082.07,440.22 L1082.4,440.61 L1082.55,441.3 L1082.56,301.4 L1082.89,311.74 L1083.22,321.12 L1083.55,329.21 L1083.88,336.16 L1084.21,343.39 L1084.54,350.07 L1084.87,354.81 L1085.2,360.04 L1085.53,365.61 L1085.86,369.56 L1086.19,374.59 L1086.52,377.49 L1086.85,380.82 L1087.18,384.77 L1087.51,389.09 L1087.84,390.87 L1088.17,394.12 L1088.5,396.89 L1088.83,398.9 L1089.16,402.39 L1089.49,404.27 L1089.82,406.59 L1090.15,407.58 L1090.48,409.68 L1090.81,410.93 L1091.14,414.1 L1091.47,415.82 L1091.8,417.94 L1092.13,419.85 L1092.46,420.46 L1092.79,421.79 L1093.12,423.4 L1093.45,425.23 L1093.78,425.17 L1094.11,427.14 L1094.44,427.92 L1094.77,428.7 L1095.1,430.19 L1095.43,430.39 L1095.76,431.21 L1096.09,432.98 L1096.42,433.51 L1096.75,434.26 L1097.08,435.17 L1097.41,436.36 L1097.74,436.64 L1098.07,437.95 L1098.4,438.31 L1098.73,439.45 L1099.06,439.85 L1099.39,440.32 L1099.72,440.5 L1100.05,441.22 L1100.38,441.25 L1100.71,443.43 L1101.04,442.35 L1101.37,443.18 L1101.7,444.06 L1102.03,443.16 L1102.36,443.59 L1102.51,444.5 L1102.52,279 L1102.85,290.79 L1103.18,301.05 L1103.51,310.41 L1103.84,319.52 L1104.17,326.66 L1104.5,333.18 L1104.83,339.59 L1105.16,346.3 L1105.49,352.1 L1105.82,357.5 L1106.15,361.43 L1106.48,365.65 L1106.81,370.71 L1107.14,373.6 L1107.47,378.16 L1107.8,381.04 L1108.13,384.34 L1108.46,387.17 L1108.79,390.34 L1109.12,392.79 L1109.45,395.32 L1109.78,398 L1110.11,400.11 L1110.44,402.87 L1110.77,404.91 L1111.1,406.79 L1111.43,408.75 L1111.76,410.58 L1112.09,413.26 L1112.42,413.97 L1112.75,415.37 L1113.08,417.01 L1113.41,418.98 L1113.74,419.84 L1114.07,421.22 L1114.4,422.38 L1114.73,424.04 L1115.06,425.25 L1115.39,426.32 L1115.72,426.42 L1116.05,427.81 L1116.38,427.84 L1116.71,430.5 L1117.04,431.6 L1117.37,432.46 L1117.7,432.74 L1118.03,433.98 L1118.36,434.05 L1118.69,434.69 L1119.02,434.63 L1119.35,435.55 L1119.68,436.42 L1120.01,437.73 L1120.34,438.61 L1120.67,438.15 L1121,439.08 L1121.33,439.62 L1121.66,439.54 L1121.99,439.55 L1122.32,440.46 L1122.47,441.3 L1122.48,287 L1122.81,298.16 L1123.14,308.07 L1123.47,317.09 L1123.8,325.81 L1124.13,332.45 L1124.46,339.11 L1124.79,345.4 L1125.12,351.49 L1125.45,356.63 L1125.78,361.61 L1126.11,365.07 L1126.44,370.09 L1126.77,373.75 L1127.1,377.29 L1127.43,380.93 L1127.76,383.25 L1128.09,387.44 L1128.42,390.28 L1128.75,392.3 L1129.08,395.58 L1129.41,398.9 L1129.74,400.36 L1130.07,403.11 L1130.4,404.91 L1130.73,406.57 L1131.06,408.46 L1131.39,410.54 L1131.72,413.16 L1132.05,414.59 L1132.38,415.39 L1132.71,417.73 L1133.04,418.71 L1133.37,419.78 L1133.7,421.57 L1134.03,422.21 L1134.36,423.16 L1134.69,425.71 L1135.02,425.27 L1135.35,427.43 L1135.68,427.39 L1136.01,429.18 L1136.34,430.08 L1136.67,430.86 L1137,430.83 L1137.33,432.55 L1137.66,433.38 L1137.99,433.73 L1138.32,434.93 L1138.65,436.28 L1138.98,436.11 L1139.31,437.29 L1139.64,437.1 L1139.97,438.52 L1140.3,439.25 L1140.63,440.77 L1140.96,440.54 L1141.29,440.82 L1141.62,441.86 L1141.95,441.06 L1142.28,442.54 L1142.43,441.8 L1142.44,287.3 L1142.77,298.61 L1143.1,308.45 L1143.43,317.31 L1143.76,325.85 L1144.09,333.22 L1144.42,340.32 L1144.75,346.5 L1145.08,351.46 L1145.41,357.31 L1145.74,362.6 L1146.07,366.37 L1146.4,370.68 L1146.73,374.26 L1147.06,378.93 L1147.39,383.19 L1147.72,384.95 L1148.05,389.15 L1148.38,392.22 L1148.71,394.5 L1149.04,397.3 L1149.37,399.41 L1149.7,401.93 L1150.03,404.66 L1150.36,407 L1150.69,408.79 L1151.02,411.12 L1151.35,412.65 L1151.68,413.72 L1152.01,416.74 L1152.34,418.1 L1152.67,418.78 L1153,421.45 L1153.33,422.24 L1153.66,423.23 L1153.99,425.5 L1154.32,424.45 L1154.65,425.99 L1154.98,428.29 L1155.31,428.86 L1155.64,429.52 L1155.97,431.56 L1156.3,432 L1156.63,432.08 L1156.96,433.32 L1157.29,434.88 L1157.62,436.17 L1157.95,435.14 L1158.28,436.93 L1158.61,437.29 L1158.94,437.45 L1159.27,438.82 L1159.6,438.84 L1159.93,439.97 L1160.26,441.71 L1160.59,441.68 L1160.92,442.38 L1161.25,442.82 L1161.58,443.17 L1161.91,443.96 L1162.24,443.31 L1162.39,443.6 L1162.4,313.5 L1162.73,323.02 L1163.06,331.48 L1163.39,339.42 L1163.72,346.16 L1164.05,351.85 L1164.38,358.08 L1164.71,363.47 L1165.04,367.8 L1165.37,373.48 L1165.7,377.29 L1166.03,381.45 L1166.36,384.31 L1166.69,387.78 L1167.02,391.7 L1167.35,393.6 L1167.68,397.33 L1168.01,399.95 L1168.34,402.08 L1168.67,404.8 L1169,406.52 L1169.33,409.17 L1169.66,410.35 L1169.99,412.17 L1170.32,415.3 L1170.65,416.04 L1170.98,416.98 L1171.31,420.06 L1171.64,420.69 L1171.97,420.77 L1172.3,423.88 L1172.63,425.7 L1172.96,426.67 L1173.29,428.56 L1173.62,428.76 L1173.95,430.27 L1174.28,430.49 L1174.61,432.2 L1174.94,433.83 L1175.27,434.27 L1175.6,434.93 L1175.93,434.71 L1176.26,436.33 L1176.59,436.67 L1176.92,438.38 L1177.25,438.27 L1177.58,439.5 L1177.91,439.5 L1178.24,441.59 L1178.57,440.78 L1178.9,441.98 L1179.23,443.61 L1179.56,442.95 L1179.89,442.79 L1180.22,443.91 L1180.55,444.64 L1180.88,445.08 L1181.21,444.06 L1181.54,445.51 L1181.87,444.75 L1182.2,446.98 L1182.35,446.2 L1182.36,278.2 L1182.69,290.24 L1183.02,300.91 L1183.35,311.09 L1183.68,319.05 L1184.01,327.75 L1184.34,334.29 L1184.67,341.69 L1185,346.93 L1185.33,353.46 L1185.66,358.14 L1185.99,362.85 L1186.32,367.8 L1186.65,372.41 L1186.98,376.37 L1187.31,380.67 L1187.64,383.69 L1187.97,385.31 L1188.3,389.53 L1188.63,391.68 L1188.96,395.48 L1189.29,398.52 L1189.62,400.08 L1189.95,402.66 L1190.28,405.69 L1190.61,407.76 L1190.94,410.68 L1191.27,411.97 L1191.6,414.01 L1191.93,416.41 L1192.26,417.14 L1192.59,419.06 L1192.92,420.16 L1193.25,422.32 L1193.58,424.13 L1193.91,425.68 L1194.24,426.25 L1194.57,427.17 L1194.9,428.31 L1195.23,429.15 L1195.56,430.9 L1195.89,432.47 L1196.22,431.67 L1196.55,432.76 L1196.88,435.41 L1197.21,434.79 L1197.54,436.55 L1197.87,436.73 L1198.2,438.42 L1198.53,439.31 L1198.86,439.67 L1199.19,440.73 L1199.52,440.99 L1199.85,441.86 L1200.18,443.17 L1200.51,443.46 L1200.84,443.13 L1201.17,443.53 L1201.5,444.49 L1201.83,445.1 L1202.16,445.74 L1202.31,445.3 L1202.32,307.2 L1202.65,316.98 L1202.98,325.86 L1203.31,333.82 L1203.64,341.39 L1203.97,347.04 L1204.3,353.33 L1204.63,358.32 L1204.96,364.26 L1205.29,369.02 L1205.62,372.33 L1205.95,376.6 L1206.28,380.79 L1206.61,383.31 L1206.94,386.38 L1207.27,390.5 L1207.6,393.18 L1207.93,395.48 L1208.26,399.01 L1208.59,400.79 L1208.92,402.21 L1209.25,405.52 L1209.58,407.31 L1209.91,410.21 L1210.24,411.27 L1210.57,413.03 L1210.9,415.04 L1211.23,416.57 L1211.56,417.29 L1211.89,419.46 L1212.22,420.61 L1212.55,422.76 L1212.88,424.49 L1213.21,423.98 L1213.54,425.13 L1213.87,426.35 L1214.2,427.51 L1214.53,428.57 L1214.86,429.98 L1215.19,431.52 L1215.52,431.27 L1215.85,432.08 L1216.18,432.75 L1216.51,435.07 L1216.84,435.88 L1217.17,435.17 L1217.5,435.89 L1217.83,437.44 L1218.16,438.61 L1218.49,439.12 L1218.82,439.41 L1219.15,440.18 L1219.48,440.58 L1219.81,440.66 L1220.14,442.47 L1220.47,441.97 L1220.8,441.8 L1221.13,442.42 L1221.46,442.29 L1221.79,443.39 L1222.12,444.37 L1222.27,443.6 L1222.28,317.6 L1222.61,326.87 L1222.94,334.59 L1223.27,342.04 L1223.6,349.07 L1223.93,355.59 L1224.26,360.91 L1224.59,366.04 L1224.92,370.68 L1225.25,375.02 L1225.58,379.53 L1225.91,382.74 L1226.24,385.25 L1226.57,388.9 L1226.9,392.25 L1227.23,394.6 L1227.56,397.51 L1227.89,399.92 L1228.22,402.29 L1228.55,405.22 L1228.88,406.86 L1229.21,408.47 L1229.54,410.56 L1229.87,412.76 L1230.2,415.64 L1230.53,416.31 L1230.86,418.61 L1231.19,419.51 L1231.52,419.62 L1231.85,422.34 L1232.18,423.08 L1232.51,424.01 L1232.84,425.25 L1233.17,427.9 L1233.5,427.21 L1233.83,428.79 L1234.16,430.65 L1234.49,431.36 L1234.82,431.26 L1235.15,433.06 L1235.48,433.76 L1235.81,434.63 L1236.14,435.92 L1236.47,436 L1236.8,436.84 L1237.13,438.52 L1237.46,437.38 L1237.79,438.78 L1238.12,439.82 L1238.45,439.47 L1238.78,440.47 L1239.11,440.56 L1239.44,441.81 L1239.77,441.91 L1240.1,442.92 L1240.43,443.38 L1240.76,443.24 L1241.09,443.49 L1241.42,444.28 L1241.75,444.6 L1242.08,444.35 L1242.23,444.8 L1242.24,305.2 L1242.57,315 L1242.9,324.12 L1243.23,332.03 L1243.56,339.81 L1243.89,346.57 L1244.22,353.14 L1244.55,357.77 L1244.88,362.87 L1245.21,366.42 L1245.54,371.29 L1245.87,374.6 L1246.2,379.59 L1246.53,382.1 L1246.86,385.89 L1247.19,388.71 L1247.52,391.87 L1247.85,395.05 L1248.18,397.13 L1248.51,399.98 L1248.84,401.9 L1249.17,405.35 L1249.5,406.28 L1249.83,409.19 L1250.16,411.87 L1250.49,411.31 L1250.82,414.05 L1251.15,416.1 L1251.48,418.46 L1251.81,419.08 L1252.14,420.92 L1252.47,421.63 L1252.8,423.5 L1253.13,423.68 L1253.46,425.99 L1253.79,425.09 L1254.12,426.76 L1254.45,429.71 L1254.78,429.81 L1255.11,430.21 L1255.44,432.68 L1255.77,432.93 L1256.1,433.81 L1256.43,433.81 L1256.76,435.03 L1257.09,435.6 L1257.42,435.13 L1257.75,436.96 L1258.08,437.32 L1258.41,438.8 L1258.74,439.43 L1259.07,439.08 L1259.4,439.65 L1259.73,440.65 L1260.06,441.39 L1260.39,441.35 L1260.72,441.92 L1261.05,442.72 L1261.38,443.19 L1261.71,443.87 L1262.04,443.77 L1262.19,443.6 L1262.2,303.8 L1262.53,313.67 L1262.86,322.73 L1263.19,331.05 L1263.52,337.75 L1263.85,343.17 L1264.18,350.62 L1264.51,356.16 L1264.84,360.15 L1265.17,365.52 L1265.5,369.95 L1265.83,372.9 L1266.16,378.06 L1266.49,381.39 L1266.82,384.58 L1267.15,386.94 L1267.48,390.2 L1267.81,393.05 L1268.14,396.23 L1268.47,397.86 L1268.8,401.52 L1269.13,403.21 L1269.46,403.94 L1269.79,407.89 L1270.12,408.87 L1270.45,410.3 L1270.78,412.42 L1271.11,413.13 L1271.44,415.78 L1271.77,415.96 L1272.1,418.07 L1272.43,420.62 L1272.76,421.95 L1273.09,422.38 L1273.42,423.17 L1273.75,425.31 L1274.08,425.93 L1274.41,427.15 L1274.74,428.35 L1275.07,428.36 L1275.4,430.26 L1275.73,429.76 L1276.06,432.46 L1276.39,431.63 L1276.72,432.91 L1277.05,433.52 L1277.38,434.96 L1277.71,435.61 L1278.04,436.13 L1278.37,436.85 L1278.7,437.48 L1279.03,437.94 L1279.36,437.5 L1279.69,437.75 L1280.02,438.29 L1280.35,439.93 L1280.68,440.3 L1281.01,440.73 L1281.34,441.39 L1281.67,441.55 L1282,441.37 L1282.15,441.8 L1282.16,328.4 L1282.49,336.93 L1282.82,344.67 L1283.15,351.82 L1283.48,357.62 L1283.81,363.13 L1284.14,369.17 L1284.47,373 L1284.8,377.5 L1285.13,381.67 L1285.46,385.54 L1285.79,388.58 L1286.12,391.32 L1286.45,395.48 L1286.78,397.56 L1287.11,400.14 L1287.44,404.04 L1287.77,405.76 L1288.1,406.96 L1288.43,409.43 L1288.76,411.61 L1289.09,413.41 L1289.42,414.6 L1289.75,417.59 L1290.08,419.27 L1290.41,420.66 L1290.74,421.8 L1291.07,423.66 L1291.4,425.38 L1291.73,425.74 L1292.06,427.3 L1292.39,428.27 L1292.72,430.08 L1293.05,430.99 L1293.38,431.25 L1293.71,432.5 L1294.04,434.62 L1294.37,433.99 L1294.7,435.31 L1295.03,435.62 L1295.36,437.27 L1295.69,437.32 L1296.02,437.88 L1296.35,438.24 L1296.68,439.38 L1297.01,440.51 L1297.34,441.04 L1297.67,440.63 L1298,442.66 L1298.33,442.26 L1298.66,442.33 L1298.99,443.39 L1299.32,443.48 L1299.65,443.86 L1299.98,444.35 L1300.31,444.92 L1300.64,445.14 L1300.97,444.78 L1301.3,446.41 L1301.63,446.28 L1301.96,447.43 L1302.11,447.1 L1302.12,304.4 L1302.45,314.58 L1302.78,323.58 L1303.11,332.01 L1303.44,339.53 L1303.77,347.24 L1304.1,351.56 L1304.43,358.54 L1304.76,362.83 L1305.09,368.04 L1305.42,372.76 L1305.75,376.64 L1306.08,380.47 L1306.41,383.71 L1306.74,387.22 L1307.07,390.37 L1307.4,394 L1307.73,395.37 L1308.06,398.63 L1308.39,400.74 L1308.72,403.32 L1309.05,405.67 L1309.38,408.85 L1309.71,411.43 L1310.04,413.08 L1310.37,413.68 L1310.7,416.14 L1311.03,417.33 L1311.36,419.69 L1311.69,421.75 L1312.02,422.87 L1312.35,424.29 L1312.68,425.14 L1313.01,425.46 L1313.34,426.79 L1313.67,428.88 L1314,430.34 L1314.33,431.78 L1314.66,431.82 L1314.99,433.05 L1315.32,434 L1315.65,435.41 L1315.98,435.8 L1316.31,436.08 L1316.64,437.86 L1316.97,438.27 L1317.3,438.98 L1317.63,438.87 L1317.96,440.16 L1318.29,439.81 L1318.62,440.26 L1318.95,441.67 L1319.28,442.26 L1319.61,443.25 L1319.94,444.15 L1320.27,443.87 L1320.6,445.18 L1320.93,444.37 L1321.26,445.48 L1321.59,444.8 L1321.92,445.89 L1322.07,446.2 L1322.08,300.3 L1322.41,308.95 L1322.74,317.13 L1323.07,324.5 L1323.4,332.1 L1323.73,339.44 L1324.06,344.84 L1324.39,350.73 L1324.72,355.34 L1325.05,359.95 L1325.38,363.76 L1325.71,367.55 L1326.04,370.49 L1326.37,374.34 L1326.7,376.39 L1327.03,380.88 L1327.36,382.67 L1327.69,385 L1328.02,388.11 L1328.35,389.83 L1328.68,392.38 L1329.01,394.58 L1329.34,396.37 L1329.67,398.47 L1330,400.78 L1330.33,403.93 L1330.66,404.66 L1330.99,406.47 L1331.32,408.06 L1331.65,410.26 L1331.98,412.79 L1332.31,412.51 L1332.64,414.89 L1332.97,416.07 L1333.3,417.39 L1333.63,419.19 L1333.96,419.53 L1334.29,422.16 L1334.62,423.04 L1334.95,423.35 L1335.28,426.24 L1335.61,426.9 L1335.94,428.21 L1336.27,427.76 L1336.6,429.61 L1336.93,430.65 L1337.26,432.37 L1337.59,433.88 L1337.92,432.92 L1338.25,435.09 L1338.58,436.03 L1338.91,437.64 L1339.24,438.04 L1339.57,438.12 L1339.9,439.54 L1340.23,439.89 L1340.56,441.01 L1340.89,442.31 L1341.22,442.76 L1341.55,444 L1341.88,443.72 L1342.21,446.86 L1342.54,447.03 L1342.87,447.32 L1343.2,447 L1343.53,447.3 L1343.86,448.78 L1344.19,450.05 L1344.52,452.36 L1344.85,452.67 L1345.18,452.17 L1345.51,454.11 L1345.84,454.84 L1346.17,454.61 L1346.5,456.1 L1346.83,456.21 L1347.16,456.17 L1347.49,456.49 L1347.82,457.59 L1348.15,458.95 L1348.48,458.1 L1348.81,458.5 L1349.14,460.53 L1349.47,459.09 L1349.8,462.34 L1350.13,461.38 L1350.46,462.59 L1350.79,463.86 L1351.12,462.25 L1351.45,462.84 L1351.78,465.37 L1352.11,464.23 L1352.44,464.71 L1352.77,465.48 L1353.1,466.21 L1353.43,466.71 L1353.76,466.11 L1354.09,466.12 L1354.42,466.66 L1354.75,467.27 L1355.08,468.06 L1355.41,467.7 L1355.74,469.08 L1356.07,467.7 L1356.4,469.05 L1356.73,470.06 L1357.06,469.94 L1357.39,469.64 L1357.72,468.96 L1358.05,469.45 L1358.38,470.11 L1358.71,470.58 L1359.04,470.52 L1359.37,470.04 L1359.7,470.88 L1360.03,471.81 L1360.36,472.09 L1360.69,470.74 L1361.02,471.54 L1361.35,470.79 L1361.68,471.65 L1362.01,474.4 L1362.34,472.42 L1362.67,472.27 L1363,472.41 L1363.33,472.2 L1363.66,472.01 L1363.99,473.39 L1364.32,473.31 L1364.65,474.47 L1364.98,472.97 L1365.31,474.39 L1365.64,475.02 L1365.97,473.13 L1366.3,474.84 L1366.63,473.5 L1366.96,474.94 L1367.29,475.68 L1367.62,474.92 L1367.95,475.3 L1368.28,474.68 L1368.61,475.28 L1368.94,476.01 L1369.27,475.29 L1369.6,475.56 L1369.93,476.04 L1370.26,476.3 L1370.59,474.97 L1370.92,476.03 L1371.25,475.72 L1371.58,476.67 L1371.91,477.31 L1372.24,476.98 L1372.57,477.75 L1372.9,476.49 L1373.23,477.02 L1373.56,476.53 L1373.89,477.24 L1374.22,477.38 L1374.55,477.34 L1374.88,476.75 L1375.21,477.62 L1375.54,477.59 L1375.87,478.32 L1376.2,477.85 L1376.53,478.79 L1376.86,478.32 L1377.19,477.23 L1377.52,478.49 L1377.85,477.77 L1378.18,479.24 L1378.51,479.55 L1378.84,478.84 L1379.17,479.25 L1379.5,478.22 L1379.83,477.87 L1380.16,479.05 L1380.49,479.32 L1380.82,478.54 L1381.15,479.57 L1381.48,479.82 L1381.81,480.16 L1382.14,480.78 L1382.47,480.4 L1382.8,479.9 L1383.13,480.25 L1383.46,480.68 L1383.79,479.74 L1384.12,481.22 L1384.45,480.93 L1384.78,480.29 L1385.11,480.07 L1385.44,482.98 L1385.77,481.16 L1386.1,481.29 L1386.43,481.98 L1386.76,481.58 L1387.09,481.28 L1387.42,481.78 L1387.75,480.75 L1388.08,481.83 L1388.41,480.48 L1388.74,481.93 L1389.07,482.12 L1389.4,480.99 L1389.73,483.41 L1390.06,481.62 L1390.39,483.1 L1390.72,482.29 L1391.05,482.9 L1391.38,482.54 L1391.71,484.67 L1392.04,483.99 L1392.37,484.6 L1392.7,484.05 L1393.03,484.08 L1393.36,483.83 L1393.69,483.56 L1394.02,484.23 L1394.35,484.15 L1394.68,484.08 L1395.01,483.39 L1395.34,484.17 L1395.67,484.87 L1396,484.36 L1396.33,485.15 L1396.66,484.91 L1396.99,484.53 L1397.32,484.81 L1397.65,485.05 L1397.98,485.45 L1398.31,485.51 L1398.64,486.45 L1398.97,485.32 L1399.3,485.01 L1399.63,486.79 L1399.96,486.28 L1400.29,486.69 L1400.62,488.57 L1400.95,488.08 L1401.28,487.73 L1401.61,488.19 L1401.94,487.73 L1402.27,488.4 L1402.6,487.43 L1402.93,487.34 L1403.26,487.58 L1403.59,488.86 L1403.92,489.05 L1404.25,487.97 L1404.58,489.2 L1404.91,488.53" fill="none" stroke="#ec1c24" stroke-width="1.7" stroke-linejoin="round" stroke-linecap="butt" />
<path d="M710,215.74 L710.33,215.77 L710.66,216 L710.99,216.06 L711.32,215.61 L711.65,215.31 L711.98,215.54 L712.31,216.33 L712.64,215.69 L712.97,216.8 L713.3,215.73 L713.63,216.75 L713.96,215.32 L714.29,215.44 L714.62,216.17 L714.95,216.25 L715.28,215.74 L715.61,217.01 L715.94,215.89 L716.27,215.97 L716.6,215.41 L716.93,216.93 L717.26,216.38 L717.59,216.05 L717.92,214.62 L718.25,215.75 L718.58,215.15 L718.91,215.84 L719.24,216.28 L719.57,215.19 L719.9,215.97 L720.23,216.46 L720.56,216.03 L720.89,215.83 L721.22,215.44 L721.55,215.63 L721.88,215.14 L722.21,216.45 L722.54,215.94 L722.87,215.14 L723.2,215.82 L723.53,215.15 L723.86,213.87 L724.19,216.67 L724.52,216.62 L724.85,215.05 L725.18,215.42 L725.51,215.98 L725.84,215.56 L726.17,215.13 L726.5,215.34 L726.83,215.52 L727.16,215.42 L727.49,215.93 L727.82,215.59 L728.15,215.25 L728.48,215.52 L728.81,214.42 L729.14,216.42 L729.47,214.65 L729.8,215.73 L730.13,216.02 L730.46,216.13 L730.79,216.1 L731.12,216.56 L731.45,215.06 L731.78,215.8 L732.11,216.04 L732.44,215.69 L732.77,215.6 L733.1,216.7 L733.43,215.44 L733.76,215.5 L734.09,215.45 L734.42,215.5 L734.75,215.68 L735.08,215.43 L735.41,215.92 L735.74,215.82 L736.07,215.95 L736.4,216.53 L736.73,215.07 L737.06,216.66 L737.39,215.43 L737.72,216.08 L738.05,215.83 L738.38,215.69 L738.71,214.66 L739.04,216.72 L739.37,215.51 L739.7,215.5 L740.03,216.76 L740.36,216.12 L740.69,217.25 L741.02,217.07 L741.35,216.55 L741.68,216.25 L742.01,216.51 L742.34,215.41 L742.67,216.34 L743,216.16 L743.33,215.78 L743.66,216.13 L743.99,215.01 L744.32,216.38 L744.65,216.59 L744.98,215.06 L745.31,215.87 L745.64,216.55 L745.97,215.85 L746.3,215.08 L746.63,215.01 L746.96,216.19 L747.29,216.84 L747.62,215.09 L747.95,215.81 L748.28,215.28 L748.61,215.56 L748.94,215.85 L749.27,215.71 L749.6,215.47 L749.93,217.1 L750.26,215.88 L750.59,215.7 L750.92,216.41 L751.25,215.68 L751.58,215.72 L751.91,216.37 L752.24,215.26 L752.57,216.15 L752.9,216.33 L753.23,216.17 L753.56,215.66 L753.89,215.53 L754.22,214.54 L754.55,215.57 L754.88,215.95 L755.21,216.34 L755.54,215.78 L755.87,215.46 L756.2,215.3 L756.53,215.72 L756.86,215.9 L757.19,216.52 L757.52,215.83 L757.85,215.61 L758.18,215.8 L758.51,215.85 L758.84,216.03 L759.17,214.9 L759.5,215.21 L759.83,215.47 L760.16,216.45 L760.49,216.01 L760.82,216.02 L761.15,216.67 L761.48,215.36 L761.81,216.44 L762.14,215.81 L762.47,215.15 L762.8,216.46 L763.13,214.79 L763.46,214.87 L763.79,215.47 L764.12,215.81 L764.45,215.42 L764.78,214.26 L765.11,215.45 L765.44,215.64 L765.77,217.29 L766.1,216.55 L766.43,215.79 L766.76,214.98 L767.09,215.78 L767.42,214.86 L767.75,215.63 L768.08,215.79 L768.41,215.38 L768.74,215.83 L769.07,215.5 L769.4,215.45 L769.73,216.71 L770.06,216.23 L770.39,215.75 L770.72,215.54 L771.05,216.09 L771.38,216.2 L771.71,216.18 L772.04,216.66 L772.37,216.04 L772.7,215.09 L773.03,216.89 L773.36,216.27 L773.69,216.28 L774.02,216.41 L774.35,214.67 L774.68,215.27 L775.01,215.02 L775.34,215.85 L775.67,214.33 L776,214.75 L776.33,215.74 L776.66,215.24 L776.99,214.47 L777.32,215.79 L777.65,213.98 L777.98,215.06 L778.3,215.8 L778.3,99.1 L778.63,100.13 L778.96,101.4 L779.29,102.53 L779.62,103.53 L779.95,104.9 L780.28,105.74 L780.61,107.01 L780.94,107.85 L781.27,109.34 L781.6,110.21 L781.93,111.21 L782.26,112.94 L782.59,113.72 L782.92,114.05 L783.25,116.03 L783.58,117.15 L783.91,117.35 L784.24,118.51 L784.57,119.92 L784.9,120.84 L785.23,122.21 L785.56,123.56 L785.89,123.97 L786.22,126.59 L786.55,126.07 L786.88,127.3 L787.21,129.88 L787.54,131.12 L787.87,130.65 L788.2,131.49 L788.53,131.94 L788.86,134.26 L789.19,134.6 L789.52,135.18 L789.85,136.99 L790.18,138.43 L790.51,138.97 L790.84,140.81 L791.17,141.25 L791.5,141.97 L791.83,142.65 L792.16,144.11 L792.49,145.54 L792.82,146.48 L793.15,147.76 L793.48,148.33 L793.81,149.74 L794.14,151.02 L794.47,151.15 L794.8,151.34 L795.13,154.14 L795.46,154.39 L795.79,154.65 L796.12,155.93 L796.45,156.49 L796.78,156.37 L797.11,158.04 L797.44,158.21 L797.77,159.96 L798.1,160.71 L798.43,162.15 L798.76,162.06 L799.09,163.16 L799.42,163.6 L799.75,164.26 L800.08,164.46 L800.41,166.72 L800.74,167.06 L801.07,167.31 L801.4,168.47 L801.73,168.61 L802.06,169.07 L802.39,170.3 L802.72,171.59 L803.05,171.15 L803.38,170.91 L803.71,171.8 L804.04,173.79 L804.37,172.43 L804.7,173.93 L805.03,173.66 L805.36,174.69 L805.69,174.42 L806.02,173.89 L806.35,175.02 L806.68,176.92 L807.01,175.88 L807.34,176.55 L807.67,176.41 L808,176.84 L808.33,177.49 L808.66,177.91 L808.99,179.2 L809.32,178.27 L809.65,178.4 L809.98,178.42 L810.31,178.24 L810.64,178.3 L810.97,179.9 L811.3,178.57 L811.63,180.8 L811.96,180.83 L812.29,180.55 L812.62,180.41 L812.95,181.33 L813.28,181.69 L813.61,182.62 L813.94,181.89 L814.27,182.22 L814.6,182.76 L814.93,182.79 L815.26,182.9 L815.59,182.41 L815.92,182.74 L816.25,183.5 L816.58,183.81 L816.91,184.65 L817.24,185.62 L817.57,185.46 L817.9,184.66 L818.23,185.63 L818.56,184.55 L818.89,184.46 L819.22,186.37 L819.55,184.45 L819.88,184.89 L820.21,185.19 L820.54,186.37 L820.87,185.39 L821.2,186.34 L821.53,185.86 L821.86,185.46 L822.19,186.54 L822.52,186.68 L822.85,186.1 L823.18,186.37 L823.51,186.57 L823.84,187.72 L824.17,187.58 L824.5,187.67 L824.83,188.25 L825.16,187.83 L825.49,188.62 L825.82,188.13 L826.15,187.95 L826.48,188.52 L826.81,189.3 L827.14,189.4 L827.47,190.33 L827.8,188.94 L828.13,189.8 L828.46,190.33 L828.79,189.66 L829.12,190.31 L829.45,189.97 L829.78,189.62 L830.11,191.03 L830.44,189.65 L830.77,191.04 L831.1,190.37 L831.43,190.24 L831.76,190.43 L832.09,190.6 L832.42,190.65 L832.75,191.4 L833.08,190.33 L833.41,192.36 L833.74,192.41 L834.07,192.82 L834.4,191.65 L834.73,190.92 L835.06,192.04 L835.39,192.33 L835.72,192.77 L836.05,192.38 L836.38,192.8 L836.71,193.18 L837.04,192.25 L837.37,194.4 L837.7,192.82 L838.03,193.74 L838.36,194.28 L838.69,193.29 L839.02,193.91 L839.35,195.05 L839.68,194.08 L840.01,194.92 L840.34,194.62 L840.67,194.8 L841,195.16 L841.33,194.73 L841.66,194.79 L841.99,195.61 L842.32,195.45 L842.65,195.72 L842.98,194.72 L843.31,195.59 L843.64,196.44 L843.97,196.46 L844.3,196.12 L844.63,195.63 L844.96,195.67 L845.29,196.26 L845.62,197.05 L845.95,196.15 L846.28,196.93 L846.61,195.93 L846.94,196.87 L847.27,195.72 L847.6,196.59 L847.93,196.02 L848.26,197.21 L848.59,197.07 L848.92,196.28 L849.25,196.33 L849.58,196.56 L849.91,195.99 L850.24,196.37 L850.57,196.55 L850.9,197.57 L851.23,198.18 L851.56,197.23 L851.89,197.52 L852.22,197.98 L852.55,197.7 L852.88,197.91 L853.21,198.83 L853.54,198.44 L853.87,198.36 L854.2,198.13 L854.53,199.41 L854.86,198.26 L855.19,198.7 L855.52,198.16 L855.85,198.56 L856.18,199.04 L856.51,198.87 L856.84,199.4 L857.17,199.01 L857.5,198.15 L857.83,197.63 L858.16,199.89 L858.49,198.98 L858.82,200.37 L859.15,199.63 L859.48,199.42 L859.81,200.29 L860.14,199.92 L860.47,200.13 L860.8,199.55 L861.13,200.46 L861.46,200.72 L861.79,199.94 L862.12,201.4 L862.45,200.03 L862.78,200.57 L863.11,199.45 L863.44,199.33 L863.77,201.8 L864.1,201.5 L864.43,201.46 L864.76,199.65 L865.09,200.88 L865.42,201.16 L865.75,200.91 L866.08,201.06 L866.41,200.4 L866.74,201.01 L867.07,200.52 L867.4,201.03 L867.73,201.55 L868.06,201 L868.39,201.37 L868.72,201.49 L869.05,201.84 L869.38,202.34 L869.71,201.9 L870.04,202.02 L870.37,200.95 L870.7,201.7 L871.03,202.48 L871.36,201.67 L871.69,202.04 L872.02,201.89 L872.35,203.24 L872.68,202.16 L873.01,202.09 L873.34,202.94 L873.67,203.32 L874,203.01 L874.33,203.29 L874.66,203.02 L874.99,202.96 L875.32,202.67 L875.65,202.62 L875.98,202.61 L876.31,203.29 L876.64,203.04 L876.97,203.08 L877.3,203.51 L877.63,203.14 L877.96,202.5 L878.29,202.92 L878.62,202.87 L878.95,202.52 L879.28,203.85 L879.61,203.07 L879.94,203.16 L880.27,203.34 L880.6,204.44 L880.93,203.75 L881.26,204.55 L881.59,203.99 L881.92,203.9 L882.25,204.45 L882.58,204.58 L882.91,204.34 L883.24,203.59 L883.57,204.07 L883.9,203.61 L884.23,204.1 L884.56,204.43 L884.89,205.4 L885.22,205.36 L885.55,205.07 L885.88,205.38 L886.21,204.96 L886.54,206.72 L886.87,206.03 L887.2,206.78 L887.53,205.27 L887.86,205.4 L888.19,205.78 L888.52,205.36 L888.85,205.33 L889.18,204.71 L889.51,206.05 L889.84,205.8 L890.17,205.98 L890.5,205.47 L890.83,204.61 L891.16,205.75 L891.49,206.13 L891.82,204.7 L892.15,205.06 L892.48,205.44 L892.81,205.54 L893.14,204.7 L893.47,206.86 L893.8,206.43 L894.13,205.59 L894.46,205 L894.79,206.23 L895.12,207.35 L895.45,206.63 L895.78,206.85 L896.11,205.74 L896.44,206.5 L896.77,205.56 L897.1,207.76 L897.43,207.01 L897.76,205.4 L898.09,205.5 L898.42,206.98 L898.75,206.86 L899.08,206.65 L899.41,207.21 L899.74,208.14 L900.07,207.17 L900.4,205.76 L900.73,206.79 L901.06,206.17 L901.39,206.56 L901.72,207.18 L902.05,206.84 L902.38,206.35 L902.71,206.95 L903.04,206.5 L903.37,207.41 L903.7,207 L904.03,207.56 L904.36,207.22 L904.69,208 L905.02,207.58 L905.35,207.89 L905.68,207.58 L906.01,208.01 L906.34,206.98 L906.67,209.61 L907,207.57 L907.33,208.06 L907.66,207.76 L907.99,207.63 L908.32,208.19 L908.65,207.62 L908.98,207.68 L909.31,207.13 L909.64,207.4 L909.97,207.35 L910.3,209.19 L910.63,207.3 L910.96,207.47 L911.29,208.34 L911.62,209.17 L911.95,207.42 L912.28,207.53 L912.61,208.57 L912.94,208.91 L913.27,207.88 L913.6,207.83 L913.93,208.43 L914.26,209.45 L914.59,208.88 L914.92,209.44 L915.25,208.9 L915.58,208.91 L915.91,209.17 L916.24,208.87 L916.57,209.13 L916.9,208.47 L917.23,208.72 L917.56,209.41 L917.89,209.02 L918.22,208.79 L918.55,209.64 L918.88,209.38 L919.21,209.15 L919.54,208.77 L919.87,209.81 L920.2,210.95 L920.53,208.88 L920.86,208.24 L921.19,208.87 L921.52,208.85 L921.85,208.55 L922.18,208.6 L922.51,209.91 L922.84,209.83 L923.17,210.29 L923.5,210.08 L923.83,209.51 L924.16,210.48 L924.49,209.54 L924.82,209.66 L925.15,209.22 L925.48,210.67 L925.81,210.48 L926.14,209.51 L926.47,209.81 L926.8,210.07 L927.13,210.12 L927.46,210.5 L927.79,210.2 L928.12,210.58 L928.45,209.43 L928.78,210.2 L929.11,209.41 L929.44,211.56 L929.77,211.25 L930.1,210.78 L930.43,211.06 L930.76,211.57 L931.09,210.86 L931.42,209.37 L931.75,210.32 L932.08,209.14 L932.41,210.08 L932.74,210.02 L933.07,210.72 L933.4,210.98 L933.73,210.1 L934.06,210.59 L934.39,210.94 L934.72,210.56 L935.05,210.51 L935.38,209.37 L935.71,210.65 L936.04,211.43 L936.37,211.23 L936.7,210.08 L937.03,210.77 L937.36,211.01 L937.69,210.23 L938.02,211.22 L938.35,210.41 L938.68,210.81 L939.01,211.06 L939.34,212.74 L939.67,211.21 L940,211.1 L940.33,211.96 L940.66,211.22 L940.99,211.64 L941.32,210.26 L941.65,211.76 L941.98,211.66 L942.31,211.06 L942.64,212.6 L942.97,211.5 L943.3,211.6 L943.63,210.89 L943.96,210.78 L944.29,211.42 L944.62,210.93 L944.95,212.28 L945.28,212.63 L945.61,211.75 L945.94,211.11 L946.27,211.68 L946.6,211.15 L946.93,211.87 L947.26,211.95 L947.59,211.58 L947.92,211.89 L948.25,212.38 L948.58,212.69 L948.91,211.26 L949.24,212.12 L949.57,211.42 L949.9,211.05 L950.23,212.42 L950.56,211.98 L950.89,211.91 L951.22,212.16 L951.55,212.01 L951.88,211.46 L952.21,213.13 L952.54,212.62 L952.87,212.22 L953.2,212.74 L953.53,212.96 L953.86,212.11 L954.19,212.66 L954.52,212.1 L954.85,212.82 L955.18,212.15 L955.51,213.82 L955.84,212.21 L956.17,212.7 L956.5,212.64 L956.83,212.27 L957.16,213.04 L957.49,212.29 L957.82,212 L958.15,212.37 L958.48,211.87 L958.81,213.18 L959.14,212.99 L959.47,213.21 L959.8,211.87 L960.13,212.79 L960.46,212.15 L960.79,212.62 L961.12,213.4 L961.45,212.69 L961.78,212.45 L962.11,213.24 L962.44,213.24 L962.77,213.57 L963.1,211.2 L963.43,212.45 L963.76,211.99 L964.09,211.74 L964.42,212.37 L964.75,211.79 L965.08,211.21 L965.41,212.07 L965.74,212.42 L966.07,213.79 L966.4,212.31 L966.73,212.12 L967.06,211.64 L967.39,212.68 L967.72,212.9 L968.05,213.08 L968.38,211.94 L968.71,212.44 L969.04,211.62 L969.37,213.08 L969.7,212.01 L970.03,211.56 L970.36,213.88 L970.69,213.38 L971.02,213.26 L971.35,213.32 L971.68,212.45 L972.01,213.7 L972.34,212.48 L972.67,214.24 L973,213.26 L973.33,212.04 L973.66,213.6 L973.99,214.29 L974.32,212.88 L974.65,213.78 L974.98,212.96 L975.31,212.7 L975.64,211.39 L975.97,213.66 L976.3,212.57 L976.63,213.21 L976.96,212.32 L977.29,212.53 L977.62,213.62 L977.95,212.63 L978.28,212.63 L978.61,212.02 L978.94,213.02 L979.27,213.35 L979.6,212.64 L979.93,212.85 L980.26,212.24 L980.59,213.91 L980.92,212.66 L981.25,212.99 L981.58,214.23 L981.91,213.12 L982.24,212.35 L982.57,212.71 L982.9,213.07 L983.23,214.43 L983.56,213.49 L983.89,213.09 L984.22,213.75 L984.55,214.04 L984.88,212.86 L985.21,214.2 L985.54,214.01 L985.87,213.67 L986.2,211.91 L986.53,213.52 L986.86,214.17 L987.19,213.22 L987.52,214.79 L987.85,213.29 L988.18,212.71 L988.51,213.83 L988.84,213.69 L989.17,213.92 L989.5,213.38 L989.83,214.23 L990.16,213.12 L990.49,213.6 L990.82,212.71 L991.15,212.85 L991.48,213.47 L991.81,212.96 L992.14,213.03 L992.47,213.14 L992.8,213.5 L993.13,213.83 L993.46,213.81 L993.79,213.92 L994.12,213.46 L994.45,213.03 L994.78,212.4 L995.11,213.03 L995.44,212.74 L995.77,212.08 L996.1,214.18 L996.43,212.18 L996.76,213.6 L997.09,213.78 L997.42,213.32 L997.75,215 L998.08,213.48 L998.41,212.96 L998.74,214.47 L999.07,212.84 L999.4,212.45 L999.73,212.7 L1000.06,213.08 L1000.39,213.54 L1000.72,213.68 L1001.05,212.62 L1001.38,213.71 L1001.71,214.94 L1002.04,213.21 L1002.37,213.8 L1002.7,214.2 L1003.03,214.49 L1003.36,213.34 L1003.69,213.18 L1004.02,213.21 L1004.35,214.4 L1004.68,214.22 L1005.01,212.38 L1005.34,212.47 L1005.67,212.92 L1006,212.61 L1006.33,213.86 L1006.66,213.81 L1006.99,214.96 L1007.32,214.16 L1007.65,213.73 L1007.98,214.39 L1008.31,213.17 L1008.64,212.85 L1008.97,213.72 L1009.3,214.37 L1009.63,212.79 L1009.96,214.28 L1010.29,214.22 L1010.62,213.35 L1010.95,213.77 L1011.28,213.48 L1011.61,213.66 L1011.94,214.22 L1012.27,213.27 L1012.6,214.36 L1012.93,214.36 L1013.26,214.33 L1013.59,212.58 L1013.92,212.64 L1014.25,214.14 L1014.58,213.32 L1014.91,213.27 L1015.24,213.09 L1015.57,212.7 L1015.9,213.36 L1016.23,213.11 L1016.56,213.17 L1016.89,214.06 L1017.22,213.1 L1017.55,214.49 L1017.88,212.44 L1018.21,215.32 L1018.54,213 L1018.87,214.16 L1019.2,214.5 L1019.53,213.85 L1019.86,214.36 L1020.19,213.89 L1020.52,212.79 L1020.85,214.13 L1021.18,214.67 L1021.51,213.59 L1021.84,213.09 L1022.17,213.82 L1022.5,214.36 L1022.83,214.31 L1023.16,214.75 L1023.49,214.45 L1023.82,214.43 L1024.15,212.8 L1024.48,215.31 L1024.81,213.93 L1025.14,214.4 L1025.47,213.65 L1025.8,213.73 L1026.13,213.93 L1026.46,214.96 L1026.79,214.95 L1027.12,214.23 L1027.45,215.07 L1027.78,213.68 L1028.11,214.25 L1028.44,213.69 L1028.77,214.79 L1029.1,213.91 L1029.43,214.28 L1029.76,214.81 L1030.09,212.46 L1030.42,215.11 L1030.75,213.96 L1031.08,213.57 L1031.41,212.72 L1031.74,213.61 L1032.07,212.39 L1032.4,213.77 L1032.73,213.62 L1033.06,214.89 L1033.39,213.64 L1033.72,214.52 L1034.05,214.47 L1034.38,215.05 L1034.71,213.72 L1035.04,214.44 L1035.37,213.23 L1035.7,213.54 L1036.03,213.98 L1036.36,214.09 L1036.69,213.37 L1037.02,213.96 L1037.35,214.55 L1037.68,213.92 L1038.01,214.17 L1038.34,213.66 L1038.67,215.12 L1039,215.31 L1039.33,214.34 L1039.66,214.13 L1039.99,215.25 L1040.32,214.43 L1040.65,213.77 L1040.98,213.17 L1041.31,213.61 L1041.64,215.29 L1041.97,213.72 L1042.3,215.93 L1042.63,214.13 L1042.96,213.94 L1043.29,214.91 L1043.62,213.9 L1043.95,214.5 L1044.28,213.4 L1044.61,213.29 L1044.94,213.41 L1045.27,214.11 L1045.6,213.51 L1045.93,212.87 L1046.26,214.34 L1046.59,214.06 L1046.92,214.03 L1047.25,213.94 L1047.58,212.95 L1047.91,215.08 L1048.24,213.77 L1048.57,214.28 L1048.9,214.91 L1049.23,214.82 L1049.56,214.27 L1049.89,214.21 L1050.22,214.43 L1050.55,214.77 L1050.88,214.76 L1051.21,214.17 L1051.54,214.72 L1051.87,214.57 L1052.2,214.72 L1052.53,214.44 L1052.86,215.16 L1053.19,214.42 L1053.52,214.85 L1053.85,214.26 L1054.18,213.9 L1054.51,213.56 L1054.84,213.98 L1055.17,214.36 L1055.5,214.89 L1055.83,214.1 L1056.16,213.84 L1056.49,213.75 L1056.82,214.83 L1057.15,214.17 L1057.48,213.91 L1057.81,214.56 L1058.14,213.26 L1058.47,214.16 L1058.8,214.1 L1059.13,214.05 L1059.46,213.48 L1059.79,214.67 L1060.12,215.23 L1060.45,213.29 L1060.78,214.18 L1061.11,214.55 L1061.44,215.64 L1061.77,214.07 L1062.1,213.81 L1062.43,214.5 L1062.76,215.73 L1063.09,214.59 L1063.42,214.84 L1063.75,215.69 L1064.08,213.16 L1064.41,213.04 L1064.74,215.04 L1065.07,215.05 L1065.4,213.67 L1065.73,214.85 L1066.06,214.59 L1066.39,214.77 L1066.72,213.97 L1067.05,214.13 L1067.38,213.83 L1067.71,214.42 L1068.04,214.24 L1068.37,215.38 L1068.7,214.76 L1069.03,213.18 L1069.36,214.67 L1069.69,215.37 L1070.02,214.74 L1070.35,215.18 L1070.68,214.53 L1071.01,215.16 L1071.34,214.31 L1071.67,215.38 L1072,213.95 L1072.33,215.61 L1072.66,213.86 L1072.99,213.57 L1073.32,215.1 L1073.65,214.65 L1073.98,214.86 L1074.31,215.02 L1074.64,214.83 L1074.97,214.21 L1075.3,214.78 L1075.63,214.84 L1075.96,214.99 L1076.29,215.89 L1076.62,214.16 L1076.95,214.73 L1077.28,215.05 L1077.61,214.39 L1077.94,213.95 L1078.27,214.32 L1078.6,215.39 L1078.93,214.59 L1079.26,215.07 L1079.59,214.21 L1079.92,214.92 L1080.25,214.26 L1080.58,214.21 L1080.91,214.73 L1081.24,214.69 L1081.57,215.6 L1081.9,213.79 L1082.23,215.13 L1082.56,215.97 L1082.89,215.83 L1083.22,214.82 L1083.55,214.61 L1083.88,214.64 L1084.21,215.15 L1084.54,215.13 L1084.87,215.26 L1085.2,215.43 L1085.53,214.39 L1085.86,214.29 L1086.19,214.22 L1086.52,214.2 L1086.85,215.06 L1087.18,215.04 L1087.51,216.48 L1087.84,215.36 L1088.17,215.16 L1088.5,216.07 L1088.83,214.82 L1089.16,215.46 L1089.49,215.86 L1089.82,215.8 L1090.15,215.49 L1090.48,214.97 L1090.81,214.44 L1091.14,215.01 L1091.47,214.76 L1091.8,215.43 L1092.13,214.95 L1092.46,215.39 L1092.79,214.01 L1093.12,215.51 L1093.45,214.35 L1093.78,213.72 L1094.11,213.8 L1094.44,214.26 L1094.77,215.44 L1095.1,215.14 L1095.43,213.96 L1095.76,214.85 L1096.09,214.88 L1096.42,213.93 L1096.75,214.38 L1097.08,213.83 L1097.41,214.59 L1097.74,213.4 L1098.07,214.45 L1098.4,214.41 L1098.73,214.68 L1099.06,214.64 L1099.39,215.99 L1099.72,215.22 L1100.05,215.47 L1100.38,215.73 L1100.71,215.93 L1101.04,215.86 L1101.37,215.13 L1101.7,214.78 L1102.03,215.01 L1102.36,215.13 L1102.69,215.62 L1103.02,215.46 L1103.35,216.01 L1103.68,215.28 L1104.01,216.56 L1104.34,216.04 L1104.67,215.1 L1105,215.83 L1105.33,213.52 L1105.66,216.04 L1105.99,215.36 L1106.32,215.22 L1106.65,213.9 L1106.98,216.64 L1107.31,214.93 L1107.64,215.02 L1107.97,216 L1108.3,215.14 L1108.63,214.66 L1108.96,215.64 L1109.29,214.51 L1109.62,215.63 L1109.95,215.37 L1110.28,215.89 L1110.61,214.42 L1110.94,216.09 L1111.27,215.43 L1111.6,216.41 L1111.93,214.84 L1112.26,216.37 L1112.59,215.6 L1112.92,215.8 L1113.25,214.82 L1113.58,215.64 L1113.91,215.67 L1114.24,214.74 L1114.57,214.43 L1114.9,214.75 L1115.23,216.1 L1115.56,215.43 L1115.89,215.82 L1116.22,215.39 L1116.55,215.33 L1116.88,215.42 L1117.21,214.98 L1117.54,215.99 L1117.87,215.25 L1118.2,215.31 L1118.53,214.11 L1118.86,215.18 L1119.19,214.71 L1119.52,214.91 L1119.85,215.95 L1120.18,214.63 L1120.51,215.24 L1120.84,215.74 L1121.17,216.09 L1121.5,215.08 L1121.83,215.33 L1122.16,215.42 L1122.49,214.62 L1122.82,214.1 L1123.15,214.16 L1123.48,215.79 L1123.81,215.54 L1124.14,214.48 L1124.47,214.77 L1124.8,214.92 L1125.13,214.89 L1125.46,215.1 L1125.79,216.42 L1126.12,214.72 L1126.45,215.14 L1126.78,214.47 L1127.11,214.48 L1127.44,214.22 L1127.77,214.58 L1128.1,214.39 L1128.43,214.84 L1128.76,214.79 L1129.09,214.23 L1129.42,216.04 L1129.75,214.33 L1130.08,215.36 L1130.41,216.48 L1130.74,214.87 L1131.07,216.19 L1131.4,216.41 L1131.73,215.73 L1132.06,214.2 L1132.39,216.09 L1132.72,215.28 L1133.05,214.93 L1133.38,216.01 L1133.71,214.85 L1134.04,215.82 L1134.37,214.75 L1134.7,215.48 L1135.03,214.48 L1135.36,214.88 L1135.69,214.65 L1136.02,214.85 L1136.35,215.31 L1136.68,215.09 L1137.01,215.15 L1137.34,215.8 L1137.67,214.96 L1138,213.72 L1138.33,214.8 L1138.66,215.19 L1138.99,215.79 L1139.32,215.86 L1139.65,215.92 L1139.98,215.17 L1140.31,215.77 L1140.64,214.51 L1140.97,216.04 L1141.3,215.43 L1141.63,215.41 L1141.96,214.95 L1142.29,215.21 L1142.62,214.84 L1142.95,215.55 L1143.28,214.27 L1143.61,215.85 L1143.94,215.81 L1144.27,216.75 L1144.6,215.46 L1144.93,215.51 L1145.26,215.58 L1145.59,215.46 L1145.92,215.24 L1146.25,214.67 L1146.58,214.69 L1146.91,214.99 L1147.24,215.1 L1147.57,214.42 L1147.9,214.36 L1148.23,215 L1148.56,215.59 L1148.89,215.13 L1149.22,215.58 L1149.55,215.76 L1149.88,215.6 L1150.21,214.84 L1150.54,214.92 L1150.87,213.86 L1151.2,214.66 L1151.53,215.44 L1151.86,214.49 L1152.19,216 L1152.52,216.04 L1152.85,215 L1153.18,215.8 L1153.51,214.3 L1153.84,214.54 L1154.17,215.04 L1154.5,215.3 L1154.83,215.18 L1155.16,214.78 L1155.49,216.47 L1155.82,215.4 L1156.15,215.23 L1156.48,215.45 L1156.81,215.22 L1157.14,214.92 L1157.47,214.63 L1157.8,214.03 L1158.13,215.95 L1158.46,214.46 L1158.79,214.04 L1159.12,214.61 L1159.45,214.11 L1159.78,216.23 L1160.11,215.38 L1160.44,216.02 L1160.77,215.98 L1161.1,215.45 L1161.43,215.55 L1161.76,214.64 L1162.09,215.15 L1162.42,214.86 L1162.75,215.46 L1163.08,215.09 L1163.41,216.32 L1163.74,216.15 L1164.07,215.76 L1164.4,214.8 L1164.73,216.29 L1165.06,216.4 L1165.39,215.93 L1165.72,215.11 L1166.05,216.17 L1166.38,216.39 L1166.71,214.66 L1167.04,216.03 L1167.37,214.51 L1167.7,215.73 L1168.03,216.76 L1168.36,215.74 L1168.69,215.93" fill="none" stroke="#808080" stroke-width="1.9" stroke-linejoin="round" stroke-linecap="butt" />
<path d="M710,215.7 L710.33,214.92 L710.66,216.05 L710.99,216.24 L711.32,216.22 L711.65,215.71 L711.98,216.52 L712.31,215.91 L712.64,216.25 L712.97,215.99 L713.3,215.9 L713.63,215.43 L713.96,214.24 L714.29,216.04 L714.62,215.71 L714.95,216.9 L715.28,214.59 L715.61,216.16 L715.94,215.14 L716.27,215.67 L716.6,215.04 L716.93,215.71 L717.26,215.59 L717.59,216.25 L717.92,215.83 L718.25,215.98 L718.58,216.56 L718.91,216.12 L719.24,215.66 L719.57,216.44 L719.9,215.74 L720.23,216.18 L720.56,215.74 L720.89,215.6 L721.22,214.25 L721.55,216.48 L721.88,215.45 L722.21,216.56 L722.54,217.1 L722.87,215.29 L723.2,216.53 L723.53,215.66 L723.86,216.06 L724.19,215.12 L724.52,215.82 L724.85,215.88 L725.18,216.63 L725.51,217.08 L725.84,215.94 L726.17,215.59 L726.5,217.1 L726.83,215.8 L727.16,215.72 L727.49,215.83 L727.82,215.95 L728.15,216.15 L728.48,215.57 L728.81,215.94 L729.14,217.07 L729.47,216.9 L729.8,216.22 L730.13,216.17 L730.46,215.85 L730.79,216.54 L731.12,215.46 L731.45,215.77 L731.78,215.4 L732.11,215.28 L732.44,215.78 L732.77,215.66 L733.1,215.23 L733.43,215.6 L733.76,215.6 L734.09,215.29 L734.42,215.22 L734.75,215.52 L735.08,215.94 L735.41,216.26 L735.74,215.88 L736.07,215.54 L736.4,215.67 L736.73,216.86 L737.06,216.29 L737.39,215.14 L737.72,215.63 L738.05,215.43 L738.38,215.44 L738.71,214.71 L739.04,215.72 L739.37,214.87 L739.7,215.35 L740.03,216.61 L740.36,216.39 L740.69,215.4 L741.02,215.16 L741.35,215.3 L741.68,214.78 L742.01,215.37 L742.34,215.69 L742.67,215.31 L743,216.35 L743.33,215.77 L743.66,215.6 L743.99,216.82 L744.32,216.12 L744.65,215.77 L744.98,216.71 L745.31,216.42 L745.64,215.22 L745.97,215.81 L746.3,215.43 L746.63,214.83 L746.96,216.79 L747.29,216.61 L747.62,214.93 L747.95,215.98 L748.28,214.8 L748.61,216.35 L748.94,215.79 L749.27,215.78 L749.6,216.71 L749.93,215.85 L750.26,215.71 L750.59,216.35 L750.92,215.61 L751.25,216.28 L751.58,215.73 L751.91,216.31 L752.24,216.2 L752.57,216.27 L752.9,215.28 L753.23,216.98 L753.56,215.88 L753.89,217.02 L754.22,215.64 L754.55,215.82 L754.88,215.61 L755.21,216.28 L755.54,215.44 L755.87,215.88 L756.2,214.89 L756.53,215.66 L756.86,215.95 L757.19,215.78 L757.52,215 L757.85,216.29 L758.18,215.46 L758.51,217.1 L758.84,215.84 L759.17,217.22 L759.5,216.29 L759.83,216.23 L760.16,215.61 L760.49,215.86 L760.82,216.12 L761.15,214.78 L761.48,216.51 L761.81,215.19 L762.14,215.73 L762.47,214.23 L762.8,216.01 L763.13,216.29 L763.46,215.87 L763.79,215.96 L764.12,215.63 L764.45,215.9 L764.78,216.63 L765.11,215.79 L765.44,216.23 L765.77,216.43 L766.1,215.94 L766.43,216.17 L766.76,216.24 L767.09,215.91 L767.42,217.57 L767.75,215.76 L768.08,217.07 L768.41,216.66 L768.74,214.74 L769.07,216.06 L769.4,216.32 L769.73,216.18 L770.06,215.33 L770.39,215.77 L770.72,214.98 L771.05,215.02 L771.38,215.46 L771.71,215.63 L772.04,216.51 L772.37,215.78 L772.7,216.12 L773.03,214.7 L773.36,214.69 L773.69,215.18 L774.02,216.37 L774.35,214.61 L774.68,214.5 L775.01,215.2 L775.34,216.02 L775.67,214.37 L776,215.36 L776.33,214.86 L776.66,216.45 L776.99,215.99 L777.32,215.64 L777.65,215.32 L777.98,215.26 L778.3,215.8 L778.3,60 L778.63,51.18 L778.96,43.9 L779.29,40.1 L779.62,38.89 L779.95,37.8 L780.28,37.06 L780.61,36.8 L780.94,37.2 L781.27,36.45 L781.6,37.15 L781.93,38.24 L782.26,38.91 L782.59,40.17 L782.92,41.08 L783.25,42.29 L783.58,41.76 L783.91,43.35 L784.24,43.74 L784.57,45.08 L784.9,45.18 L785.23,46.45 L785.56,46.29 L785.89,47.6 L786.22,47.9 L786.55,48.72 L786.88,49.26 L787.21,49.98 L787.54,52.22 L787.87,52.55 L788.2,54.07 L788.53,53.58 L788.86,53.98 L789.19,55.74 L789.52,56.9 L789.85,58.37 L790.18,59.44 L790.51,60.58 L790.84,61.97 L791.17,62.71 L791.5,63.53 L791.83,64.29 L792.16,66.17 L792.49,66.87 L792.82,67.91 L793.15,69.84 L793.48,70.82 L793.81,72.37 L794.14,72.68 L794.47,75.04 L794.8,75.56 L795.13,76.56 L795.46,77.55 L795.79,78.42 L796.12,79.51 L796.45,82.37 L796.78,81.93 L797.11,84.41 L797.44,84.9 L797.77,85.91 L798.1,87.01 L798.43,88.58 L798.76,90.21 L799.09,91.02 L799.42,91.9 L799.75,92.26 L800.08,93.12 L800.41,96.37 L800.74,95.81 L801.07,96.71 L801.4,99.3 L801.73,98.76 L802.06,101.07 L802.39,102.21 L802.72,102.83 L803.05,104.14 L803.38,103.78 L803.71,104.76 L804.04,106.31 L804.37,107.36 L804.7,108.23 L805.03,109.63 L805.36,110.02 L805.69,110.24 L806.02,112.81 L806.35,113.35 L806.68,115.01 L807.01,116.68 L807.34,116.44 L807.67,117.66 L808,117.57 L808.33,119.46 L808.66,119.98 L808.99,120.82 L809.32,122.03 L809.65,121.57 L809.98,123.26 L810.31,123.97 L810.64,125.28 L810.97,123.9 L811.3,125.6 L811.63,127.63 L811.96,126.67 L812.29,127.13 L812.62,129.08 L812.95,130.19 L813.28,129.35 L813.61,129.42 L813.94,129.86 L814.27,130.64 L814.6,130.85 L814.93,131.49 L815.26,132.56 L815.59,133 L815.92,133.76 L816.25,133.85 L816.58,133.87 L816.91,135.38 L817.24,135.59 L817.57,135.51 L817.9,136.14 L818.23,137.08 L818.56,137.22 L818.89,137.54 L819.22,138.55 L819.55,139.17 L819.88,138.83 L820.21,139.36 L820.54,138.99 L820.87,139.84 L821.2,140.6 L821.53,141.3 L821.86,141.3 L822.19,141.7 L822.52,141.74 L822.85,142.7 L823.18,142.33 L823.51,143.28 L823.84,143.65 L824.17,143.38 L824.5,144.45 L824.83,144.71 L825.16,145.44 L825.49,145.16 L825.82,146.11 L826.15,147.1 L826.48,146.62 L826.81,147.27 L827.14,146.94 L827.47,147.26 L827.8,146.58 L828.13,148.06 L828.46,147.84 L828.79,148.81 L829.12,147.76 L829.45,148.75 L829.78,149.84 L830.11,150.37 L830.44,149.37 L830.77,150.41 L831.1,152.39 L831.43,151.77 L831.76,151.7 L832.09,150.38 L832.42,151.75 L832.75,153.06 L833.08,153.21 L833.41,153.63 L833.74,154.11 L834.07,153.84 L834.4,154.58 L834.73,153.25 L835.06,156.26 L835.39,154.88 L835.72,154.86 L836.05,156.47 L836.38,156.14 L836.71,156.64 L837.04,155.94 L837.37,156.64 L837.7,157.25 L838.03,156.41 L838.36,157.28 L838.69,157.46 L839.02,157.54 L839.35,157.42 L839.68,157.28 L840.01,158.49 L840.34,158.63 L840.67,159.44 L841,158.83 L841.33,158.72 L841.66,158.37 L841.99,159.44 L842.32,159.66 L842.65,161.36 L842.98,161.71 L843.31,161.67 L843.64,160.55 L843.97,160.56 L844.3,161.59 L844.63,161.4 L844.96,162.96 L845.29,162.34 L845.62,162.3 L845.95,162.62 L846.28,163.53 L846.61,162.48 L846.94,163.48 L847.27,162.64 L847.6,163.65 L847.93,163.48 L848.26,164.37 L848.59,164.39 L848.92,165.1 L849.25,165 L849.58,164.52 L849.91,164.21 L850.24,164.63 L850.57,165 L850.9,165.24 L851.23,165.14 L851.56,166.35 L851.89,166.43 L852.22,165.94 L852.55,165.97 L852.88,166.41 L853.21,166.66 L853.54,166.79 L853.87,166.23 L854.2,167.26 L854.53,166.62 L854.86,168.01 L855.19,168.62 L855.52,167.75 L855.85,168.73 L856.18,168.5 L856.51,168.76 L856.84,170.35 L857.17,169.98 L857.5,169.95 L857.83,169.53 L858.16,170.17 L858.49,169.97 L858.82,170.41 L859.15,169.74 L859.48,170.47 L859.81,170.32 L860.14,169.86 L860.47,171.64 L860.8,171.26 L861.13,170.53 L861.46,170.3 L861.79,170.93 L862.12,170.95 L862.45,171.32 L862.78,170.9 L863.11,171.56 L863.44,172.29 L863.77,172.63 L864.1,171.54 L864.43,172.84 L864.76,172.52 L865.09,172.67 L865.42,173.27 L865.75,173.31 L866.08,174.32 L866.41,174.48 L866.74,174.04 L867.07,174.01 L867.4,175.6 L867.73,175.77 L868.06,174.95 L868.39,174.54 L868.72,175.37 L869.05,175.75 L869.38,174.84 L869.71,176.4 L870.04,175.48 L870.37,176.52 L870.7,175.7 L871.03,176.11 L871.36,176.02 L871.69,176.39 L872.02,177.1 L872.35,176.24 L872.68,176.79 L873.01,177.52 L873.34,176.95 L873.67,178.57 L874,176.74 L874.33,179.13 L874.66,177.39 L874.99,178.53 L875.32,178.83 L875.65,178.45 L875.98,177.36 L876.31,178.11 L876.64,178.62 L876.97,178.88 L877.3,179.3 L877.63,179.46 L877.96,179.8 L878.29,178.41 L878.62,179.81 L878.95,178.21 L879.28,179.48 L879.61,178.93 L879.94,178.63 L880.27,180.33 L880.6,179.86 L880.93,180.67 L881.26,179.3 L881.59,179.63 L881.92,180.31 L882.25,180.1 L882.58,180.7 L882.91,180.4 L883.24,180.8 L883.57,180.27 L883.9,182.05 L884.23,181.2 L884.56,180.7 L884.89,181.77 L885.22,181.84 L885.55,181.83 L885.88,181.92 L886.21,181.65 L886.54,181.92 L886.87,180.74 L887.2,181.33 L887.53,181.68 L887.86,182.67 L888.19,183.18 L888.52,182.57 L888.85,182.56 L889.18,183.39 L889.51,182.71 L889.84,183.45 L890.17,183.23 L890.5,182.12 L890.83,183.15 L891.16,183.06 L891.49,182.33 L891.82,182.71 L892.15,182.93 L892.48,184.59 L892.81,185.19 L893.14,184.51 L893.47,185.1 L893.8,183.31 L894.13,185.13 L894.46,185.54 L894.79,185.45 L895.12,184.07 L895.45,185.29 L895.78,184.82 L896.11,185.62 L896.44,184.69 L896.77,185.13 L897.1,184.92 L897.43,185.71 L897.76,185.38 L898.09,186.23 L898.42,186.08 L898.75,185.8 L899.08,185.58 L899.41,185.56 L899.74,185.87 L900.07,186.5 L900.4,186.15 L900.73,186.29 L901.06,186.18 L901.39,186.29 L901.72,186 L902.05,185.27 L902.38,186.67 L902.71,186.85 L903.04,186.11 L903.37,187.84 L903.7,186.2 L904.03,187.56 L904.36,187.23 L904.69,187.45 L905.02,187.96 L905.35,187.83 L905.68,187.2 L906.01,186.65 L906.34,186.66 L906.67,187.65 L907,188.61 L907.33,188.27 L907.66,187.89 L907.99,188.09 L908.32,188.41 L908.65,189.15 L908.98,187.74 L909.31,188.86 L909.64,188.7 L909.97,188.29 L910.3,188.3 L910.63,189.73 L910.96,189.43 L911.29,189.29 L911.62,189.56 L911.95,190.16 L912.28,189.62 L912.61,190.59 L912.94,189.52 L913.27,189.3 L913.6,189.75 L913.93,189.38 L914.26,189.81 L914.59,190.7 L914.92,191.02 L915.25,190.38 L915.58,190.1 L915.91,189.5 L916.24,189.61 L916.57,190.43 L916.9,190.22 L917.23,189.86 L917.56,190.32 L917.89,191.57 L918.22,191.36 L918.55,190.87 L918.88,191.16 L919.21,192.02 L919.54,191.56 L919.87,191.7 L920.2,190.62 L920.53,190.66 L920.86,190.52 L921.19,190.42 L921.52,191.8 L921.85,192.12 L922.18,191.38 L922.51,192.27 L922.84,192.36 L923.17,192.08 L923.5,191.24 L923.83,192.95 L924.16,192.94 L924.49,191.88 L924.82,193.45 L925.15,192.4 L925.48,192.08 L925.81,192.35 L926.14,191.58 L926.47,192.62 L926.8,191.98 L927.13,193.71 L927.46,193.29 L927.79,192.5 L928.12,193.73 L928.45,192.37 L928.78,193.61 L929.11,194 L929.44,193.94 L929.77,193.28 L930.1,194.03 L930.43,194.08 L930.76,194.29 L931.09,195.26 L931.42,195.49 L931.75,195.49 L932.08,194.37 L932.41,194.32 L932.74,194.96 L933.07,195.46 L933.4,194.22 L933.73,195.17 L934.06,196.66 L934.39,194.76 L934.72,195.13 L935.05,195.44 L935.38,196.08 L935.71,195.68 L936.04,195.67 L936.37,195.08 L936.7,196.27 L937.03,195.97 L937.36,195.67 L937.69,196.02 L938.02,196.64 L938.35,195.25 L938.68,195.38 L939.01,195.8 L939.34,195.91 L939.67,194.55 L940,196.07 L940.33,197.19 L940.66,196.41 L940.99,197.26 L941.32,195 L941.65,196.83 L941.98,197.76 L942.31,197.95 L942.64,196.84 L942.97,196.74 L943.3,197.64 L943.63,196.91 L943.96,197.48 L944.29,196.81 L944.62,197.68 L944.95,197.69 L945.28,198.81 L945.61,198.03 L945.94,197.62 L946.27,197.87 L946.6,197.34 L946.93,198.17 L947.26,198 L947.59,198.41 L947.92,198.76 L948.25,196.98 L948.58,198.32 L948.91,198.59 L949.24,197.58 L949.57,199.54 L949.9,198.15 L950.23,200.07 L950.56,199.09 L950.89,199.24 L951.22,198.9 L951.55,199.45 L951.88,198.45 L952.21,198.7 L952.54,198.08 L952.87,199.77 L953.2,199 L953.53,199.81 L953.86,199.84 L954.19,198.74 L954.52,200.03 L954.85,199.89 L955.18,199.87 L955.51,200.05 L955.84,199.83 L956.17,199.95 L956.5,200.71 L956.83,199.53 L957.16,199.46 L957.49,199.55 L957.82,200.78 L958.15,199.86 L958.48,201.24 L958.81,198.5 L959.14,199.94 L959.47,200 L959.8,200.63 L960.13,201.26 L960.46,200.37 L960.79,199.9 L961.12,201.12 L961.45,201.66 L961.78,199.23 L962.11,201.26 L962.44,201.05 L962.77,200.48 L963.1,200.68 L963.43,201.25 L963.76,201.09 L964.09,200.92 L964.42,200.54 L964.75,201.36 L965.08,200.72 L965.41,201.25 L965.74,200.86 L966.07,201.33 L966.4,201.68 L966.73,201.6 L967.06,201.8 L967.39,200.59 L967.72,201.76 L968.05,201.61 L968.38,201.1 L968.71,201.47 L969.04,199.85 L969.37,201.72 L969.7,201.37 L970.03,200.28 L970.36,202.03 L970.69,201.67 L971.02,202.1 L971.35,201.85 L971.68,202.55 L972.01,202.3 L972.34,202.21 L972.67,202.74 L973,202.85 L973.33,201.06 L973.66,202.4 L973.99,202.08 L974.32,201.68 L974.65,203.24 L974.98,202.85 L975.31,201.68 L975.64,201.78 L975.97,203.03 L976.3,202.17 L976.63,202.37 L976.96,201.38 L977.29,202.77 L977.62,203.57 L977.95,202.65 L978.28,202.82 L978.61,203.94 L978.94,203.52 L979.27,203.84 L979.6,203.34 L979.93,203.68 L980.26,201.97 L980.59,202.53 L980.92,202.03 L981.25,204.38 L981.58,203.13 L981.91,203.09 L982.24,202.76 L982.57,202.61 L982.9,201.6 L983.23,204.66 L983.56,203.16 L983.89,203.27 L984.22,202.58 L984.55,203.48 L984.88,203.89 L985.21,203.59 L985.54,203.91 L985.87,203.01 L986.2,203.86 L986.53,204.14 L986.86,203.9 L987.19,203.92 L987.52,203.63 L987.85,203.1 L988.18,204.08 L988.51,203.54 L988.84,203.2 L989.17,204.26 L989.5,202.79 L989.83,203.44 L990.16,204.32 L990.49,204.34 L990.82,203.54 L991.15,203.72 L991.48,204.09 L991.81,203.8 L992.14,203.48 L992.47,204.3 L992.8,204.24 L993.13,204.28 L993.46,204.83 L993.79,204.44 L994.12,203.91 L994.45,204.5 L994.78,205.61 L995.11,204.07 L995.44,204.24 L995.77,204.02 L996.1,204.82 L996.43,203.72 L996.76,204.7 L997.09,204.85 L997.42,203.87 L997.75,203.95 L998.08,203.76 L998.41,204.58 L998.74,203.97 L999.07,204.25 L999.4,204.5 L999.73,204.13 L1000.06,205.01 L1000.39,205.59 L1000.72,203.3 L1001.05,204.21 L1001.38,204.82 L1001.71,204.16 L1002.04,204.54 L1002.37,204.96 L1002.7,205.62 L1003.03,205.49 L1003.36,204.72 L1003.69,204.99 L1004.02,204.64 L1004.35,205.06 L1004.68,204.34 L1005.01,203.98 L1005.34,204.88 L1005.67,205.62 L1006,205.51 L1006.33,203.91 L1006.66,204.81 L1006.99,204.6 L1007.32,205.07 L1007.65,204.18 L1007.98,205.52 L1008.31,204.77 L1008.64,205.31 L1008.97,205.62 L1009.3,204.04 L1009.63,205.14 L1009.96,206.17 L1010.29,205.18 L1010.62,205.83 L1010.95,205.53 L1011.28,204.97 L1011.61,205.39 L1011.94,205.96 L1012.27,206.05 L1012.6,206.22 L1012.93,204.69 L1013.26,205.74 L1013.59,204.6 L1013.92,205.45 L1014.25,205.5 L1014.58,205.91 L1014.91,205.76 L1015.24,206.39 L1015.57,205.25 L1015.9,206.32 L1016.23,205.92 L1016.56,205.8 L1016.89,204.97 L1017.22,205.94 L1017.55,205.73 L1017.88,206.12 L1018.21,205.62 L1018.54,205.48 L1018.87,205.84 L1019.2,205.81 L1019.53,205.92 L1019.86,206.61 L1020.19,205.13 L1020.52,206.72 L1020.85,203.58 L1021.18,205.93 L1021.51,205.02 L1021.84,206.73 L1022.17,205.04 L1022.5,206.2 L1022.83,204.96 L1023.16,204.92 L1023.49,206.01 L1023.82,206.08 L1024.15,205.03 L1024.48,206.96 L1024.81,205.23 L1025.14,206.46 L1025.47,205.04 L1025.8,204.97 L1026.13,205.69 L1026.46,205.02 L1026.79,206.03 L1027.12,204.45 L1027.45,205.84 L1027.78,205.39 L1028.11,205.29 L1028.44,205.83 L1028.77,205.66 L1029.1,205.55 L1029.43,206.27 L1029.76,205.95 L1030.09,206.1 L1030.42,206.74 L1030.75,206.07 L1031.08,206.56 L1031.41,205.65 L1031.74,206.22 L1032.07,206.16 L1032.4,205.48 L1032.73,205.01 L1033.06,205.37 L1033.39,205.61 L1033.72,206.35 L1034.05,206.04 L1034.38,205.89 L1034.71,206.36 L1035.04,206.59 L1035.37,207.02 L1035.7,205.83 L1036.03,206.54 L1036.36,206.71 L1036.69,205.77 L1037.02,206.6 L1037.35,205.72 L1037.68,206.06 L1038.01,206.4 L1038.34,205.21 L1038.67,205.73 L1039,205.84 L1039.33,206.24 L1039.66,205.73 L1039.99,206.45 L1040.32,205.72 L1040.65,205.89 L1040.98,206.59 L1041.31,206.57 L1041.64,206.28 L1041.97,206.32 L1042.3,206.97 L1042.63,207.12 L1042.96,206.15 L1043.29,205.96 L1043.62,205.89 L1043.95,207.5 L1044.28,206.03 L1044.61,205.71 L1044.94,206.7 L1045.27,207.24 L1045.6,205.87 L1045.93,206.6 L1046.26,205.77 L1046.59,206.32 L1046.92,207.67 L1047.25,206.74 L1047.58,206.48 L1047.91,206.68 L1048.24,206.74 L1048.57,206.59 L1048.9,205.94 L1049.23,206.02 L1049.56,207.79 L1049.89,206.04 L1050.22,207.2 L1050.55,205.98 L1050.88,207.19 L1051.21,206.89 L1051.54,206.47 L1051.87,207.94 L1052.2,206.27 L1052.53,206.64 L1052.86,206.33 L1053.19,206.35 L1053.52,206.66 L1053.85,206.23 L1054.18,206.74 L1054.51,207.94 L1054.84,205.95 L1055.17,206.13 L1055.5,206.36 L1055.83,206.62 L1056.16,207.54 L1056.49,207.32 L1056.82,207.14 L1057.15,207.05 L1057.48,208.5 L1057.81,206.3 L1058.14,206.28 L1058.47,207.01 L1058.8,207.16 L1059.13,206.88 L1059.46,206.74 L1059.79,206.42 L1060.12,207.09 L1060.45,206.82 L1060.78,206.97 L1061.11,206.44 L1061.44,207.99 L1061.77,207.47 L1062.1,208.25 L1062.43,207.02 L1062.76,207.37 L1063.09,207.17 L1063.42,207.28 L1063.75,207.25 L1064.08,207.34 L1064.41,206.28 L1064.74,207.21 L1065.07,207.74 L1065.4,206.24 L1065.73,207.22 L1066.06,207.63 L1066.39,208 L1066.72,207.26 L1067.05,207.86 L1067.38,208.6 L1067.71,208.16 L1068.04,207.22 L1068.37,207.12 L1068.7,208 L1069.03,207.61 L1069.36,207.17 L1069.69,207.3 L1070.02,207.54 L1070.35,207.26 L1070.68,207.28 L1071.01,207.17 L1071.34,206.55 L1071.67,208.39 L1072,208.25 L1072.33,208.49 L1072.66,207.53 L1072.99,207.74 L1073.32,207.99 L1073.65,208.15 L1073.98,206.76 L1074.31,208.04 L1074.64,207.34 L1074.97,207.84 L1075.3,207.52 L1075.63,209.04 L1075.96,208.27 L1076.29,207.99 L1076.62,208.67 L1076.95,207.72 L1077.28,207.31 L1077.61,207.74 L1077.94,207.71 L1078.27,207.9 L1078.6,208.38 L1078.93,207.85 L1079.26,207.76 L1079.59,208.46 L1079.92,208.18 L1080.25,208.7 L1080.58,208.18 L1080.91,207.31 L1081.24,207.35 L1081.57,207.01 L1081.9,208.67 L1082.23,208.33 L1082.56,207.83 L1082.89,207.46 L1083.22,208.35 L1083.55,208.15 L1083.88,208.38 L1084.21,207.68 L1084.54,207.52 L1084.87,208.98 L1085.2,207.5 L1085.53,208.13 L1085.86,209.13 L1086.19,207.28 L1086.52,208.77 L1086.85,208.4 L1087.18,208.35 L1087.51,208.68 L1087.84,207.75 L1088.17,207.16 L1088.5,209.68 L1088.83,208.21 L1089.16,209.05 L1089.49,209.16 L1089.82,208.76 L1090.15,208.87 L1090.48,209 L1090.81,209.52 L1091.14,208.9 L1091.47,209.44 L1091.8,208.5 L1092.13,208.32 L1092.46,208.55 L1092.79,208.65 L1093.12,208.79 L1093.45,209.53 L1093.78,209.01 L1094.11,208.55 L1094.44,209.68 L1094.77,208.8 L1095.1,208.77 L1095.43,208.82 L1095.76,208.39 L1096.09,207.99 L1096.42,208.62 L1096.75,208.57 L1097.08,208.28 L1097.41,208.74 L1097.74,208.52 L1098.07,208.35 L1098.4,207.65 L1098.73,208.67 L1099.06,210.02 L1099.39,209.57 L1099.72,209.84 L1100.05,209.23 L1100.38,209.79 L1100.71,208.88 L1101.04,208.93 L1101.37,209.58 L1101.7,208.48 L1102.03,209.28 L1102.36,209.35 L1102.69,210.15 L1103.02,208.77 L1103.35,209.55 L1103.68,208.91 L1104.01,209.15 L1104.34,207.95 L1104.67,208.93 L1105,210.12 L1105.33,209.75 L1105.66,209.49 L1105.99,210.86 L1106.32,209.79 L1106.65,208.76 L1106.98,209.47 L1107.31,209.5 L1107.64,210.42 L1107.97,208.81 L1108.3,209.44 L1108.63,209.74 L1108.96,208.7 L1109.29,209.22 L1109.62,207.99 L1109.95,209.44 L1110.28,207.99 L1110.61,209.06 L1110.94,210.29 L1111.27,209.46 L1111.6,209.39 L1111.93,209.47 L1112.26,210.79 L1112.59,209.76 L1112.92,210.23 L1113.25,209.57 L1113.58,209.52 L1113.91,209.18 L1114.24,209.7 L1114.57,209.46 L1114.9,210.35 L1115.23,210.2 L1115.56,209.82 L1115.89,209.52 L1116.22,207.93 L1116.55,209.24 L1116.88,209.75 L1117.21,210.05 L1117.54,207.79 L1117.87,208.1 L1118.2,209.69 L1118.53,209.03 L1118.86,209.6 L1119.19,209.48 L1119.52,210.22 L1119.85,208.84 L1120.18,209.47 L1120.51,210.42 L1120.84,210.08 L1121.17,209.49 L1121.5,210.41 L1121.83,210.29 L1122.16,209.69 L1122.49,210.54 L1122.82,210.56 L1123.15,210.06 L1123.48,210.63 L1123.81,209.28 L1124.14,210.47 L1124.47,209.96 L1124.8,209.48 L1125.13,209.6 L1125.46,210.59 L1125.79,209.66 L1126.12,209.7 L1126.45,209.65 L1126.78,209.44 L1127.11,210.53 L1127.44,211.36 L1127.77,210.98 L1128.1,210.48 L1128.43,210.59 L1128.76,209.84 L1129.09,209.86 L1129.42,209.47 L1129.75,211.01 L1130.08,209.94 L1130.41,209.77 L1130.74,209.84 L1131.07,210.45 L1131.4,209.84 L1131.73,210.27 L1132.06,210.32 L1132.39,211.01 L1132.72,209.46 L1133.05,210.37 L1133.38,209.86 L1133.71,210.04 L1134.04,211.13 L1134.37,210.53 L1134.7,209.92 L1135.03,210.48 L1135.36,210.18 L1135.69,210.85 L1136.02,210 L1136.35,210.48 L1136.68,210.27 L1137.01,210.36 L1137.34,210.18 L1137.67,209.98 L1138,210.52 L1138.33,211.16 L1138.66,210.36 L1138.99,210.54 L1139.32,211 L1139.65,210.38 L1139.98,211.36 L1140.31,211.23 L1140.64,209.61 L1140.97,210.76 L1141.3,210.51 L1141.63,211.63 L1141.96,211.65 L1142.29,210.24 L1142.62,210.49 L1142.95,210.81 L1143.28,210.64 L1143.61,211.2 L1143.94,211.19 L1144.27,211.02 L1144.6,211.47 L1144.93,211.18 L1145.26,210.58 L1145.59,210.45 L1145.92,210.17 L1146.25,210.98 L1146.58,211.03 L1146.91,211.1 L1147.24,210.26 L1147.57,210.38 L1147.9,210.91 L1148.23,211.57 L1148.56,211.05 L1148.89,210.96 L1149.22,210.43 L1149.55,211.17 L1149.88,211.37 L1150.21,210.62 L1150.54,212.17 L1150.87,210.66 L1151.2,211.89 L1151.53,211.3 L1151.86,211.43 L1152.19,210.86 L1152.52,210.97 L1152.85,211.74 L1153.18,211.22 L1153.51,211.1 L1153.84,211.91 L1154.17,211.92 L1154.5,211.55 L1154.83,211.47 L1155.16,212.39 L1155.49,211.29 L1155.82,211.67 L1156.15,211.65 L1156.48,210.61 L1156.81,210.23 L1157.14,211.56 L1157.47,212.17 L1157.8,211.71 L1158.13,211.06 L1158.46,210.97 L1158.79,211.81 L1159.12,211.19 L1159.45,210.43 L1159.78,211.85 L1160.11,211.84 L1160.44,211.89 L1160.77,212.27 L1161.1,212.5 L1161.43,211.91 L1161.76,211.56 L1162.09,210.38 L1162.42,211.7 L1162.75,211.38 L1163.08,212.32 L1163.41,212.39 L1163.74,212.05 L1164.07,212.65 L1164.4,211.76 L1164.73,211.85 L1165.06,211.39 L1165.39,211.94 L1165.72,212.09 L1166.05,212.75 L1166.38,211.79 L1166.71,212.75 L1167.04,213.68 L1167.37,211.48 L1167.7,212.07 L1168.03,212.12 L1168.36,212.91 L1168.69,213.6" fill="none" stroke="#000000" stroke-width="2.1" stroke-linejoin="round" stroke-linecap="butt" />
<path d="M710,216.28 L710.33,215.92 L710.66,214.75 L710.99,215.88 L711.32,216.03 L711.65,216.67 L711.98,215.25 L712.31,216.01 L712.64,215.72 L712.97,215.93 L713.3,215.37 L713.63,216.05 L713.96,215.8 L714.29,214.68 L714.62,216.59 L714.95,217.19 L715.28,215.46 L715.61,216.75 L715.94,215.52 L716.27,215.9 L716.6,217.17 L716.93,216.24 L717.26,216.88 L717.59,216.15 L717.92,216.56 L718.25,215.93 L718.58,216.87 L718.91,217.03 L719.24,216.37 L719.57,215.63 L719.9,215.81 L720.23,215.39 L720.56,216.2 L720.89,216.02 L721.22,215.4 L721.55,216.27 L721.88,215.34 L722.21,216.69 L722.54,216.19 L722.87,216.61 L723.2,215.35 L723.53,215.13 L723.86,214.67 L724.19,216.24 L724.52,215.27 L724.85,216.65 L725.18,215.92 L725.51,216.29 L725.84,214.9 L726.17,215.39 L726.5,215.89 L726.83,216.28 L727.16,214.95 L727.49,215.94 L727.82,215.27 L728.15,216.35 L728.48,215.68 L728.81,215.69 L729.14,216.3 L729.47,216.69 L729.8,215.81 L730.13,216.66 L730.46,215.19 L730.79,215.92 L731.12,215.22 L731.45,215.94 L731.78,215.24 L732.11,215.91 L732.44,216.3 L732.77,215.36 L733.1,214.85 L733.43,215.78 L733.76,216.19 L734.09,216.06 L734.42,215.37 L734.75,216.48 L735.08,215.63 L735.41,216.32 L735.74,215.27 L736.07,216.05 L736.4,216.45 L736.73,215.4 L737.06,215.6 L737.39,216.19 L737.72,216.05 L738.05,215.96 L738.38,215.77 L738.71,215 L739.04,215.89 L739.37,215.13 L739.7,215.91 L740.03,214.45 L740.36,216.7 L740.69,217.07 L741.02,216.25 L741.35,215.6 L741.68,216.05 L742.01,216.64 L742.34,216.52 L742.67,215.66 L743,216.64 L743.33,216.26 L743.66,216.1 L743.99,215.71 L744.32,215.93 L744.65,215.48 L744.98,216.01 L745.31,215.43 L745.64,216.53 L745.97,215.84 L746.3,215.79 L746.63,215.81 L746.96,216.09 L747.29,215.1 L747.62,216.7 L747.95,216.05 L748.28,215.57 L748.61,215.34 L748.94,215.58 L749.27,215.48 L749.6,215.79 L749.93,215.23 L750.26,215.78 L750.59,215.75 L750.92,215.27 L751.25,217.08 L751.58,215.73 L751.91,216.09 L752.24,216.04 L752.57,215.83 L752.9,216.34 L753.23,216.72 L753.56,215.91 L753.89,215.42 L754.22,216.24 L754.55,214.79 L754.88,216.15 L755.21,215.82 L755.54,216.14 L755.87,215.09 L756.2,215.68 L756.53,215.34 L756.86,215.72 L757.19,216.34 L757.52,215.85 L757.85,215.55 L758.18,216.63 L758.51,215.93 L758.84,214.64 L759.17,215.21 L759.5,216.23 L759.83,216.09 L760.16,215.84 L760.49,215.89 L760.82,215.07 L761.15,215.71 L761.48,214.93 L761.81,215.02 L762.14,214.92 L762.47,215.05 L762.8,215.42 L763.13,215.54 L763.46,215.22 L763.79,216.46 L764.12,215.4 L764.45,216.61 L764.78,216.42 L765.11,215.02 L765.44,216.3 L765.77,215.06 L766.1,216.86 L766.43,216.19 L766.76,215.58 L767.09,214.92 L767.42,216.08 L767.75,215.42 L768.08,216.81 L768.41,215.35 L768.74,216.11 L769.07,216.32 L769.4,215.88 L769.73,216.09 L770.06,215.8 L770.39,216.11 L770.72,215.09 L771.05,215.94 L771.38,215 L771.71,215.65 L772.04,214.82 L772.37,215.47 L772.7,216.01 L773.03,216.32 L773.36,214.51 L773.69,215 L774.02,215.01 L774.35,216.28 L774.68,215.18 L775.01,216.19 L775.34,215.4 L775.67,214.85 L776,215.84 L776.33,215.14 L776.66,216.39 L776.99,216.55 L777.32,216.88 L777.65,215.55 L777.98,217.02 L778.3,215.8 L778.3,40 L778.63,30.41 L778.96,24.35 L779.29,22.08 L779.62,20.8 L779.95,20.28 L780.28,20.35 L780.61,20.87 L780.94,20.54 L781.27,20.82 L781.6,21.45 L781.93,21.76 L782.26,22.21 L782.59,22.03 L782.92,22.94 L783.25,23.37 L783.58,23.83 L783.91,24.65 L784.24,25.71 L784.57,27.01 L784.9,28.38 L785.23,28.19 L785.56,29.81 L785.89,29.96 L786.22,30.05 L786.55,31.94 L786.88,33.69 L787.21,34.95 L787.54,34.97 L787.87,38.1 L788.2,37.79 L788.53,39.45 L788.86,41.16 L789.19,43.91 L789.52,45.05 L789.85,47.06 L790.18,47.01 L790.51,50.02 L790.84,51.79 L791.17,54.07 L791.5,55 L791.83,57.48 L792.16,58.09 L792.49,59.09 L792.82,60.19 L793.15,63.06 L793.48,64.09 L793.81,64.46 L794.14,66.68 L794.47,67.14 L794.8,68.34 L795.13,68.89 L795.46,70.67 L795.79,72.26 L796.12,73.39 L796.45,74.1 L796.78,76.22 L797.11,77.63 L797.44,77.54 L797.77,79.36 L798.1,79.4 L798.43,81.64 L798.76,81.85 L799.09,83.49 L799.42,84.74 L799.75,85.6 L800.08,87.25 L800.41,87.09 L800.74,88.23 L801.07,89.58 L801.4,90.38 L801.73,91.51 L802.06,92.27 L802.39,92.89 L802.72,94.54 L803.05,95.17 L803.38,96.46 L803.71,97.5 L804.04,97.37 L804.37,97.98 L804.7,99.06 L805.03,100.01 L805.36,100.08 L805.69,103.11 L806.02,103.16 L806.35,105.09 L806.68,104.15 L807.01,105.55 L807.34,106.25 L807.67,106.85 L808,108.24 L808.33,108.34 L808.66,109.17 L808.99,110.01 L809.32,109.28 L809.65,110.85 L809.98,111.6 L810.31,113.72 L810.64,113.9 L810.97,114.58 L811.3,115.09 L811.63,115.39 L811.96,117.29 L812.29,116.79 L812.62,116.71 L812.95,118.38 L813.28,119.24 L813.61,119.15 L813.94,119.9 L814.27,120.73 L814.6,121.73 L814.93,121.77 L815.26,122.95 L815.59,122.81 L815.92,124.4 L816.25,122.84 L816.58,124.74 L816.91,125.11 L817.24,125.57 L817.57,125.36 L817.9,127.24 L818.23,127.02 L818.56,127.14 L818.89,127.64 L819.22,128.28 L819.55,128.93 L819.88,128.83 L820.21,129.44 L820.54,130.91 L820.87,131.16 L821.2,132.84 L821.53,131.98 L821.86,133.25 L822.19,134.18 L822.52,133.46 L822.85,134.59 L823.18,134.65 L823.51,134.75 L823.84,136.11 L824.17,134.88 L824.5,135.59 L824.83,135.4 L825.16,136.56 L825.49,137.64 L825.82,137.33 L826.15,138.28 L826.48,137.83 L826.81,139.48 L827.14,139.17 L827.47,139.23 L827.8,140.69 L828.13,139.99 L828.46,140.6 L828.79,140.81 L829.12,141.53 L829.45,141.55 L829.78,141.22 L830.11,142.43 L830.44,142.89 L830.77,143.11 L831.1,143.04 L831.43,144.56 L831.76,143.33 L832.09,144.3 L832.42,144.7 L832.75,144.23 L833.08,144.58 L833.41,145.88 L833.74,146.31 L834.07,146.34 L834.4,145.82 L834.73,146.85 L835.06,147.43 L835.39,147.89 L835.72,148.43 L836.05,148.34 L836.38,148.86 L836.71,149.61 L837.04,147.57 L837.37,149.89 L837.7,149.15 L838.03,150.03 L838.36,150.18 L838.69,149.78 L839.02,150.1 L839.35,151.33 L839.68,151.24 L840.01,152.11 L840.34,151.74 L840.67,153.47 L841,152.39 L841.33,154.09 L841.66,152.65 L841.99,153.66 L842.32,154.14 L842.65,153.06 L842.98,153.46 L843.31,154.45 L843.64,155.21 L843.97,155.6 L844.3,155.44 L844.63,155.98 L844.96,155 L845.29,155.69 L845.62,156.92 L845.95,156.05 L846.28,156.45 L846.61,155.82 L846.94,156.97 L847.27,156.36 L847.6,157.62 L847.93,158.59 L848.26,158.32 L848.59,158.42 L848.92,158.42 L849.25,159.21 L849.58,158.41 L849.91,158.92 L850.24,160.62 L850.57,158.8 L850.9,159.4 L851.23,159.13 L851.56,160.74 L851.89,160.18 L852.22,159.68 L852.55,159.8 L852.88,161.43 L853.21,161.45 L853.54,161.84 L853.87,161.56 L854.2,162.25 L854.53,162.79 L854.86,162.61 L855.19,161.51 L855.52,161.43 L855.85,161.96 L856.18,162.94 L856.51,162.18 L856.84,162.44 L857.17,163.36 L857.5,162.89 L857.83,162.92 L858.16,164.62 L858.49,164.52 L858.82,164.78 L859.15,165.22 L859.48,165.67 L859.81,164.9 L860.14,165.11 L860.47,164.15 L860.8,165.07 L861.13,164.94 L861.46,166.02 L861.79,165.82 L862.12,166.54 L862.45,166.6 L862.78,166.84 L863.11,166.61 L863.44,166.42 L863.77,166.34 L864.1,166.66 L864.43,166.35 L864.76,167.39 L865.09,167.3 L865.42,166.16 L865.75,165.85 L866.08,167.28 L866.41,167.62 L866.74,168.01 L867.07,168.9 L867.4,167.94 L867.73,167.71 L868.06,168.66 L868.39,169.11 L868.72,169.71 L869.05,168.37 L869.38,168.9 L869.71,168.97 L870.04,170.32 L870.37,169.89 L870.7,169.65 L871.03,170.28 L871.36,169.72 L871.69,170.05 L872.02,170.28 L872.35,170.24 L872.68,170.58 L873.01,171.08 L873.34,171.11 L873.67,171.88 L874,171.66 L874.33,171.26 L874.66,170.29 L874.99,170.81 L875.32,171.52 L875.65,171.85 L875.98,171.47 L876.31,172.16 L876.64,172.7 L876.97,172.4 L877.3,172.84 L877.63,173.05 L877.96,172.81 L878.29,172.73 L878.62,173.14 L878.95,173.47 L879.28,172.94 L879.61,172.58 L879.94,173.47 L880.27,174.51 L880.6,173.35 L880.93,174.79 L881.26,174 L881.59,174.5 L881.92,174.04 L882.25,175.02 L882.58,174.77 L882.91,175.13 L883.24,174 L883.57,175.49 L883.9,174.21 L884.23,175.22 L884.56,175.92 L884.89,175.65 L885.22,176.08 L885.55,175.96 L885.88,176.05 L886.21,175.78 L886.54,177 L886.87,177.19 L887.2,176.41 L887.53,176.41 L887.86,177.01 L888.19,176.5 L888.52,177.14 L888.85,177.76 L889.18,177.9 L889.51,178.43 L889.84,177.98 L890.17,177.19 L890.5,177.4 L890.83,178.33 L891.16,179.21 L891.49,178 L891.82,177.71 L892.15,179.01 L892.48,178.26 L892.81,178.87 L893.14,179.27 L893.47,178.16 L893.8,178.57 L894.13,178.71 L894.46,179.49 L894.79,179.77 L895.12,179.19 L895.45,179.86 L895.78,178.55 L896.11,179.98 L896.44,179.99 L896.77,179.77 L897.1,178.99 L897.43,179.99 L897.76,179.56 L898.09,181.13 L898.42,180.27 L898.75,180.43 L899.08,180.58 L899.41,180.93 L899.74,180.93 L900.07,181.28 L900.4,180.67 L900.73,181.78 L901.06,181.03 L901.39,181.74 L901.72,181.44 L902.05,182.04 L902.38,181.59 L902.71,181.03 L903.04,181.43 L903.37,182.03 L903.7,183.11 L904.03,182.13 L904.36,182.44 L904.69,183.23 L905.02,182.28 L905.35,182.94 L905.68,182.86 L906.01,182.55 L906.34,183.05 L906.67,183.74 L907,183.93 L907.33,183.14 L907.66,185.05 L907.99,183.75 L908.32,183.41 L908.65,183.18 L908.98,183.08 L909.31,184.25 L909.64,182.33 L909.97,183.92 L910.3,183.39 L910.63,184.3 L910.96,184.55 L911.29,183.86 L911.62,184.06 L911.95,185.45 L912.28,184.59 L912.61,185.03 L912.94,184.92 L913.27,185.58 L913.6,186.01 L913.93,185.92 L914.26,185.98 L914.59,185.98 L914.92,185.07 L915.25,186.51 L915.58,185.72 L915.91,185.74 L916.24,186.09 L916.57,185.78 L916.9,186.66 L917.23,186.94 L917.56,187.27 L917.89,186.46 L918.22,186.32 L918.55,186.58 L918.88,186.19 L919.21,186.57 L919.54,188.18 L919.87,186.7 L920.2,187.03 L920.53,187.74 L920.86,187.61 L921.19,188.06 L921.52,187.07 L921.85,187.17 L922.18,188.66 L922.51,187.58 L922.84,188 L923.17,188.4 L923.5,187.39 L923.83,188.27 L924.16,188.03 L924.49,188.82 L924.82,188.61 L925.15,187.69 L925.48,189.49 L925.81,187.76 L926.14,189.08 L926.47,188.99 L926.8,189.17 L927.13,189.42 L927.46,190.15 L927.79,189.28 L928.12,189.49 L928.45,190.27 L928.78,190.13 L929.11,190.37 L929.44,190.26 L929.77,190.04 L930.1,190.15 L930.43,190.06 L930.76,190.87 L931.09,191.23 L931.42,191.68 L931.75,190.06 L932.08,190.53 L932.41,190.78 L932.74,190.82 L933.07,190.53 L933.4,192.51 L933.73,192.19 L934.06,191.3 L934.39,191.15 L934.72,191.54 L935.05,191.03 L935.38,191.6 L935.71,192.3 L936.04,193 L936.37,192.67 L936.7,193.02 L937.03,191.68 L937.36,190.48 L937.69,192.97 L938.02,192.25 L938.35,192.21 L938.68,193.39 L939.01,191.94 L939.34,191.9 L939.67,192.1 L940,193.6 L940.33,193.28 L940.66,191.88 L940.99,193.89 L941.32,192.92 L941.65,193.13 L941.98,192.49 L942.31,194.25 L942.64,193.54 L942.97,194.08 L943.3,192.85 L943.63,193.89 L943.96,193.56 L944.29,193.42 L944.62,193.1 L944.95,193.27 L945.28,193.18 L945.61,193.62 L945.94,193.99 L946.27,194.41 L946.6,193.17 L946.93,193.4 L947.26,193.68 L947.59,193.19 L947.92,193.98 L948.25,194.1 L948.58,194.24 L948.91,194.68 L949.24,195 L949.57,194.83 L949.9,194.72 L950.23,194.88 L950.56,194.18 L950.89,194.16 L951.22,195.06 L951.55,195.21 L951.88,196.23 L952.21,194.89 L952.54,194.45 L952.87,195.14 L953.2,194.65 L953.53,194.49 L953.86,195.77 L954.19,196.1 L954.52,195.3 L954.85,194.73 L955.18,195.35 L955.51,195.16 L955.84,194.4 L956.17,195.8 L956.5,195.51 L956.83,196.13 L957.16,195.19 L957.49,195.55 L957.82,195.39 L958.15,194.41 L958.48,196.78 L958.81,194.09 L959.14,194.76 L959.47,195.19 L959.8,194.44 L960.13,195.58 L960.46,195.11 L960.79,195.32 L961.12,195.51 L961.45,195.54 L961.78,195.54 L962.11,195.52 L962.44,195.76 L962.77,195.97 L963.1,195.4 L963.43,195.34 L963.76,195.51 L964.09,195.94 L964.42,195.51 L964.75,195.57 L965.08,194.97 L965.41,197.02 L965.74,195.21 L966.07,196.93 L966.4,196.42 L966.73,196.63 L967.06,196.17 L967.39,196.28 L967.72,196.29 L968.05,196.42 L968.38,196.6 L968.71,197.07 L969.04,195.63 L969.37,196.59 L969.7,197.21 L970.03,197.19 L970.36,195.68 L970.69,196.36 L971.02,196.37 L971.35,196.49 L971.68,195.22 L972.01,196.96 L972.34,195.55 L972.67,197.72 L973,196.68 L973.33,196.33 L973.66,196.75 L973.99,196.61 L974.32,196.26 L974.65,196.49 L974.98,196.7 L975.31,196.04 L975.64,196.98 L975.97,197.19 L976.3,197.43 L976.63,197.52 L976.96,197.51 L977.29,197.19 L977.62,197.65 L977.95,196.97 L978.28,197.15 L978.61,197.69 L978.94,197.94 L979.27,196.52 L979.6,195.86 L979.93,197.99 L980.26,197.38 L980.59,197.93 L980.92,197.45 L981.25,197.04 L981.58,196.55 L981.91,196.5 L982.24,197.77 L982.57,197.53 L982.9,197.39 L983.23,196.66 L983.56,196.94 L983.89,196.91 L984.22,197.09 L984.55,195.85 L984.88,197.62 L985.21,198.39 L985.54,197.14 L985.87,197.36 L986.2,197.22 L986.53,196.46 L986.86,197.34 L987.19,196.58 L987.52,196.85 L987.85,197.32 L988.18,197.21 L988.51,197.15 L988.84,196.7 L989.17,197.74 L989.5,196.75 L989.83,197.89 L990.16,197.12 L990.49,196.67 L990.82,197.36 L991.15,196.89 L991.48,197.16 L991.81,197.48 L992.14,198 L992.47,198.08 L992.8,197.9 L993.13,197.55 L993.46,197.01 L993.79,197.81 L994.12,197.73 L994.45,197.82 L994.78,197.66 L995.11,197.65 L995.44,198.53 L995.77,197.34 L996.1,198.23 L996.43,198.94 L996.76,197.7 L997.09,197.53 L997.42,198.04 L997.75,197.93 L998.08,198.38 L998.41,198.87 L998.74,197.97 L999.07,198.39 L999.4,197.6 L999.73,197.64 L1000.06,198 L1000.39,197.47 L1000.72,198.59 L1001.05,197.75 L1001.38,197.86 L1001.71,197.24 L1002.04,197.58 L1002.37,197.3 L1002.7,197.65 L1003.03,196.96 L1003.36,198.15 L1003.69,199.2 L1004.02,197.1 L1004.35,199.19 L1004.68,198.08 L1005.01,198.81 L1005.34,197.76 L1005.67,199.34 L1006,197.65 L1006.33,198.09 L1006.66,199.03 L1006.99,197.46 L1007.32,196.87 L1007.65,198.26 L1007.98,197.94 L1008.31,197.86 L1008.64,197.79 L1008.97,197.5 L1009.3,199.14 L1009.63,198.83 L1009.96,197.29 L1010.29,198.1 L1010.62,197.91 L1010.95,198.85 L1011.28,197.86 L1011.61,199.34 L1011.94,198.48 L1012.27,198.05 L1012.6,198.61 L1012.93,198.28 L1013.26,200.07 L1013.59,198.97 L1013.92,198.57 L1014.25,199 L1014.58,199.7 L1014.91,198.28 L1015.24,197.92 L1015.57,199.62 L1015.9,199.04 L1016.23,198.4 L1016.56,198.58 L1016.89,199.29 L1017.22,197.03 L1017.55,199.47 L1017.88,198.73 L1018.21,199.27 L1018.54,198.69 L1018.87,200.61 L1019.2,198.42 L1019.53,199.45 L1019.86,197.38 L1020.19,198.98 L1020.52,199.4 L1020.85,198.05 L1021.18,197.62 L1021.51,198.97 L1021.84,199.53 L1022.17,199.78 L1022.5,198.71 L1022.83,199.35 L1023.16,198.31 L1023.49,200.07 L1023.82,198.67 L1024.15,199.78 L1024.48,198.93 L1024.81,198.92 L1025.14,200.14 L1025.47,198.7 L1025.8,199.93 L1026.13,198.96 L1026.46,198.62 L1026.79,198.52 L1027.12,199.55 L1027.45,198.9 L1027.78,198.85 L1028.11,198.28 L1028.44,199.8 L1028.77,199.85 L1029.1,199.55 L1029.43,199.75 L1029.76,197.38 L1030.09,199.16 L1030.42,199.59 L1030.75,199.66 L1031.08,199.2 L1031.41,199.66 L1031.74,199.17 L1032.07,199.2 L1032.4,198.87 L1032.73,199.71 L1033.06,199.11 L1033.39,199.38 L1033.72,200.51 L1034.05,199.63 L1034.38,199.6 L1034.71,198.71 L1035.04,199.24 L1035.37,200.23 L1035.7,199.96 L1036.03,199.75 L1036.36,199.55 L1036.69,199.62 L1037.02,199.76 L1037.35,199.36 L1037.68,197.97 L1038.01,200.74 L1038.34,200.23 L1038.67,199.55 L1039,200.47 L1039.33,198.92 L1039.66,200.4 L1039.99,199.66 L1040.32,200.15 L1040.65,199.38 L1040.98,199.78 L1041.31,199.99 L1041.64,200.33 L1041.97,199.95 L1042.3,199.76 L1042.63,199.28 L1042.96,200.66 L1043.29,199.85 L1043.62,199.62 L1043.95,199.42 L1044.28,198.95 L1044.61,199.34 L1044.94,198.99 L1045.27,200.19 L1045.6,200.07 L1045.93,200.25 L1046.26,199.39 L1046.59,199.8 L1046.92,199.75 L1047.25,200.81 L1047.58,199.37 L1047.91,199.3 L1048.24,201.06 L1048.57,200.48 L1048.9,199.46 L1049.23,201.18 L1049.56,201.24 L1049.89,201.02 L1050.22,199.03 L1050.55,200.28 L1050.88,199.68 L1051.21,199.84 L1051.54,199.26 L1051.87,201.31 L1052.2,199.91 L1052.53,200.44 L1052.86,200.81 L1053.19,200.72 L1053.52,200.63 L1053.85,200.05 L1054.18,200.43 L1054.51,200.03 L1054.84,198.8 L1055.17,200.72 L1055.5,199.71 L1055.83,199.77 L1056.16,199.94 L1056.49,199.5 L1056.82,199.64 L1057.15,199.22 L1057.48,200.75 L1057.81,201.08 L1058.14,200.4 L1058.47,199.68 L1058.8,201.12 L1059.13,200.3 L1059.46,199.61 L1059.79,199.56 L1060.12,200.81 L1060.45,201.67 L1060.78,200.59 L1061.11,200.45 L1061.44,200.72 L1061.77,200.43 L1062.1,200.68 L1062.43,201.16 L1062.76,200.46 L1063.09,201.44 L1063.42,200.07 L1063.75,201.08 L1064.08,200.81 L1064.41,200.46 L1064.74,200.29 L1065.07,200.47 L1065.4,201.65 L1065.73,200.03 L1066.06,201.28 L1066.39,201.23 L1066.72,200.48 L1067.05,201.86 L1067.38,199.4 L1067.71,201.02 L1068.04,200.97 L1068.37,200.86 L1068.7,201.39 L1069.03,200.78 L1069.36,200.86 L1069.69,201.72 L1070.02,201.06 L1070.35,200.58 L1070.68,201.41 L1071.01,201.05 L1071.34,200.74 L1071.67,201.52 L1072,200.72 L1072.33,200.78 L1072.66,201.11 L1072.99,201.2 L1073.32,201.26 L1073.65,200.67 L1073.98,202.57 L1074.31,201.86 L1074.64,201.62 L1074.97,201.68 L1075.3,199.9 L1075.63,201.86 L1075.96,200.71 L1076.29,201.68 L1076.62,200.63 L1076.95,201.96 L1077.28,201.09 L1077.61,201.31 L1077.94,202.25 L1078.27,201.94 L1078.6,200.56 L1078.93,200.83 L1079.26,201.51 L1079.59,201.38 L1079.92,202.02 L1080.25,201.3 L1080.58,200.51 L1080.91,201.01 L1081.24,201.38 L1081.57,201.75 L1081.9,202.03 L1082.23,202.33 L1082.56,201.7 L1082.89,201.46 L1083.22,202.15 L1083.55,201.66 L1083.88,201.4 L1084.21,201.41 L1084.54,202.36 L1084.87,202.67 L1085.2,202.69 L1085.53,200.96 L1085.86,202.55 L1086.19,201.26 L1086.52,201.9 L1086.85,202.43 L1087.18,201.4 L1087.51,201.51 L1087.84,201.8 L1088.17,203.26 L1088.5,202.95 L1088.83,201.82 L1089.16,202.47 L1089.49,202.52 L1089.82,202.55 L1090.15,201.88 L1090.48,203.09 L1090.81,201.96 L1091.14,202.67 L1091.47,201.14 L1091.8,202.44 L1092.13,202.22 L1092.46,202.94 L1092.79,200.66 L1093.12,202.72 L1093.45,202.91 L1093.78,202.4 L1094.11,203.5 L1094.44,203.92 L1094.77,203.25 L1095.1,203.14 L1095.43,203.46 L1095.76,202.99 L1096.09,203.39 L1096.42,203.1 L1096.75,202.36 L1097.08,202.16 L1097.41,203.58 L1097.74,203.2 L1098.07,202.33 L1098.4,202.78 L1098.73,203.62 L1099.06,201.72 L1099.39,202.15 L1099.72,203.06 L1100.05,203.08 L1100.38,201.81 L1100.71,201.89 L1101.04,202.56 L1101.37,203.35 L1101.7,202.83 L1102.03,201.41 L1102.36,203.32 L1102.69,202.79 L1103.02,202.45 L1103.35,201.99 L1103.68,203.42 L1104.01,202.9 L1104.34,203.03 L1104.67,203.06 L1105,203.14 L1105.33,203.51 L1105.66,204.14 L1105.99,202.46 L1106.32,203.07 L1106.65,202.75 L1106.98,204.12 L1107.31,202.94 L1107.64,202.34 L1107.97,203.25 L1108.3,202.99 L1108.63,202.94 L1108.96,202.99 L1109.29,202.43 L1109.62,202.11 L1109.95,204.56 L1110.28,203.27 L1110.61,202.89 L1110.94,203.81 L1111.27,204.23 L1111.6,202.38 L1111.93,203.34 L1112.26,203.83 L1112.59,203.22 L1112.92,203.9 L1113.25,202.93 L1113.58,203.33 L1113.91,203.84 L1114.24,204.12 L1114.57,203.86 L1114.9,203.39 L1115.23,203.56 L1115.56,202.61 L1115.89,205.13 L1116.22,203.75 L1116.55,203.86 L1116.88,204.16 L1117.21,204.33 L1117.54,204.12 L1117.87,203.43 L1118.2,202.99 L1118.53,204.01 L1118.86,203.6 L1119.19,203.77 L1119.52,204.3 L1119.85,204.44 L1120.18,205.14 L1120.51,204.38 L1120.84,203.47 L1121.17,204.91 L1121.5,205.14 L1121.83,203.66 L1122.16,204.93 L1122.49,204.74 L1122.82,204.37 L1123.15,204.74 L1123.48,204.97 L1123.81,205.06 L1124.14,205.22 L1124.47,204.41 L1124.8,204.47 L1125.13,206.03 L1125.46,203.95 L1125.79,204.36 L1126.12,204.36 L1126.45,205.18 L1126.78,205.44 L1127.11,203.92 L1127.44,205.56 L1127.77,204.16 L1128.1,206.5 L1128.43,204.61 L1128.76,205.8 L1129.09,205.03 L1129.42,205.6 L1129.75,204.78 L1130.08,205.39 L1130.41,205.49 L1130.74,205.49 L1131.07,205.96 L1131.4,205.19 L1131.73,205.33 L1132.06,204.74 L1132.39,205.22 L1132.72,205.13 L1133.05,205.94 L1133.38,205.76 L1133.71,204.84 L1134.04,205.5 L1134.37,205.95 L1134.7,205.06 L1135.03,204.54 L1135.36,206.75 L1135.69,205.68 L1136.02,205.73 L1136.35,206.91 L1136.68,204.95 L1137.01,205.68 L1137.34,204.45 L1137.67,205.89 L1138,205.98 L1138.33,205.37 L1138.66,205.32 L1138.99,205.91 L1139.32,206.05 L1139.65,207.03 L1139.98,205.75 L1140.31,205.76 L1140.64,205.8 L1140.97,205.04 L1141.3,205.77 L1141.63,205.25 L1141.96,206.22 L1142.29,204.89 L1142.62,205.49 L1142.95,206.33 L1143.28,205.01 L1143.61,205.28 L1143.94,206.76 L1144.27,205.28 L1144.6,206.21 L1144.93,206.46 L1145.26,205.72 L1145.59,205.31 L1145.92,207.25 L1146.25,206.12 L1146.58,206.75 L1146.91,206.1 L1147.24,206.78 L1147.57,205.77 L1147.9,205.79 L1148.23,206.08 L1148.56,206.49 L1148.89,206.48 L1149.22,206.82 L1149.55,207.22 L1149.88,206.58 L1150.21,207.28 L1150.54,206.41 L1150.87,207.34 L1151.2,207.64 L1151.53,207.88 L1151.86,205.63 L1152.19,207.74 L1152.52,205.66 L1152.85,207.62 L1153.18,206.73 L1153.51,206.87 L1153.84,206.12 L1154.17,207.32 L1154.5,207.06 L1154.83,206.33 L1155.16,206.37 L1155.49,207.04 L1155.82,207.2 L1156.15,207.22 L1156.48,206.45 L1156.81,206.82 L1157.14,207.38 L1157.47,207.39 L1157.8,207.58 L1158.13,206.9 L1158.46,206.26 L1158.79,207.09 L1159.12,207.07 L1159.45,206.45 L1159.78,207.15 L1160.11,206.38 L1160.44,207.01 L1160.77,206.27 L1161.1,207.79 L1161.43,207.06 L1161.76,206.27 L1162.09,205.28 L1162.42,205.26 L1162.75,206.2 L1163.08,205.49 L1163.41,205.65 L1163.74,204.44 L1164.07,204.23 L1164.4,205.15 L1164.73,204.87 L1165.06,204.03 L1165.39,204.08 L1165.72,204.91 L1166.05,204.06 L1166.38,204.65 L1166.71,205.07 L1167.04,204.25 L1167.37,203.93 L1167.7,203.37 L1168.03,204.28 L1168.36,202.52 L1168.69,202.68" fill="none" stroke="#ec1c24" stroke-width="2.0" stroke-linejoin="round" stroke-linecap="butt" />
<path d="M1224.2,219.23 L1224.53,220.01 L1224.86,219.64 L1225.19,219.89 L1225.52,219.48 L1225.85,219.84 L1226.18,218.78 L1226.51,219.65 L1226.84,220.18 L1227.17,220.05 L1227.5,218.95 L1227.83,219.23 L1228.16,219.66 L1228.49,220.79 L1228.82,219.75 L1229.15,219.93 L1229.48,219.79 L1229.81,220 L1230.14,219.27 L1230.47,219.83 L1230.8,219.85 L1231.13,220.11 L1231.46,219.19 L1231.79,220.1 L1232.12,220.63 L1232.45,220.05 L1232.78,219.99 L1233.11,218.54 L1233.44,220.39 L1233.77,220.67 L1234.1,220.15 L1234.43,219.71 L1234.76,219.95 L1235.09,220.96 L1235.42,219.05 L1235.75,219.28 L1236.08,219.93 L1236.41,219.59 L1236.74,218.39 L1237.07,219.51 L1237.4,219.41 L1237.73,218.87 L1238.06,219.38 L1238.39,219.21 L1238.4,219.7 L1238.4,95 L1238.73,90.47 L1239.06,86.61 L1239.39,84.37 L1239.72,84.26 L1240.05,84.43 L1240.38,84.97 L1240.71,85.81 L1241.04,86.31 L1241.37,87.47 L1241.7,88.27 L1242.03,89.21 L1242.36,90.01 L1242.69,91.15 L1243.02,92.14 L1243.35,93.46 L1243.68,94.69 L1244.01,95.99 L1244.34,96.9 L1244.67,97.97 L1245,100.41 L1245.33,102.45 L1245.66,103.13 L1245.99,104.51 L1246.32,106.66 L1246.65,108.6 L1246.98,110.4 L1247.31,111.5 L1247.64,112.7 L1247.97,114.74 L1248.3,116.44 L1248.63,117.44 L1248.96,119.57 L1249.29,120.38 L1249.62,122.64 L1249.95,124.41 L1250.28,124.52 L1250.61,126.08 L1250.94,128.27 L1251.27,131.05 L1251.6,131.21 L1251.93,132.51 L1252.26,134.67 L1252.59,135.42 L1252.92,136.2 L1253.25,138.02 L1253.58,140.59 L1253.91,140.44 L1254.24,141.92 L1254.57,144.19 L1254.9,144.97 L1255.23,146.65 L1255.56,146.67 L1255.89,148.05 L1256.22,149.29 L1256.55,149.73 L1256.88,151.11 L1257.21,151.94 L1257.54,153.32 L1257.87,153.69 L1258.2,154.38 L1258.53,155.66 L1258.86,156.85 L1259.19,157.67 L1259.52,157.98 L1259.85,158.48 L1260.18,159.11 L1260.51,159.46 L1260.84,160.88 L1261.17,161.66 L1261.5,163.18 L1261.83,163.13 L1262.16,164.03 L1262.49,165.02 L1262.82,164.09 L1263.15,165.3 L1263.48,166.16 L1263.81,167.08 L1264.14,167.15 L1264.47,168.81 L1264.8,169.33 L1265.13,169.64 L1265.46,170.25 L1265.79,169.74 L1266.12,171.46 L1266.45,170.95 L1266.78,170.79 L1267.11,172.14 L1267.44,172.73 L1267.77,172.65 L1268.1,172.62 L1268.43,173.22 L1268.76,174.08 L1269.09,173.36 L1269.42,175.52 L1269.75,175.91 L1270.08,175.77 L1270.41,176.57 L1270.74,176.35 L1271.07,176.33 L1271.4,177.7 L1271.73,178.08 L1272.06,177.63 L1272.39,177.81 L1272.72,178.49 L1273.05,179.85 L1273.38,179.4 L1273.71,181.26 L1274.04,179.82 L1274.37,180.61 L1274.7,180.6 L1275.03,180.53 L1275.36,181.31 L1275.69,180.8 L1276.02,181.45 L1276.35,181.2 L1276.68,181.08 L1277.01,182.71 L1277.34,182.45 L1277.67,182.58 L1278,183.87 L1278.33,183.77 L1278.66,184.34 L1278.99,185.35 L1279.32,184.91 L1279.65,185.22 L1279.98,184.58 L1280.31,185.87 L1280.64,186.2 L1280.97,185.66 L1281.3,186.81 L1281.63,186.86 L1281.96,186.8 L1282.29,187.13 L1282.62,188.43 L1282.95,187.04 L1283.28,187.39 L1283.61,187.84 L1283.94,187.88 L1284.27,187.29 L1284.6,188.74 L1284.93,189.09 L1285.26,189.7 L1285.59,188.8 L1285.92,188.68 L1286.25,189.68 L1286.58,189.09 L1286.91,189.83 L1287.24,189.82 L1287.57,190.36 L1287.9,190.22 L1288.23,191.04 L1288.56,190.4 L1288.89,192.33 L1289.22,191.78 L1289.55,191.2 L1289.88,191.2 L1290.21,191.86 L1290.54,191.97 L1290.87,192.01 L1291.2,193.26 L1291.53,193.21 L1291.86,192.41 L1292.19,193.46 L1292.52,193.4 L1292.85,193.93 L1293.18,193.4 L1293.51,194.96 L1293.84,194.05 L1294.17,195.13 L1294.5,194.03 L1294.83,195.03 L1295.16,194.53 L1295.49,195.67 L1295.82,195 L1296.15,194.69 L1296.48,194.82 L1296.81,195.25 L1297.14,196.02 L1297.47,196.07 L1297.8,196.1 L1298.13,196.63 L1298.46,197.18 L1298.79,195.92 L1299.12,196.97 L1299.45,197.85 L1299.78,196.46 L1300.11,196.72 L1300.44,197.38 L1300.77,197.47 L1301.1,197.2 L1301.43,197.46 L1301.76,198.34 L1302.09,198.13 L1302.42,197.39 L1302.75,196.97 L1303.08,197.31 L1303.41,198 L1303.74,197.63 L1304.07,197.74 L1304.4,198.69 L1304.73,198.26 L1305.06,198.41 L1305.39,198.85 L1305.72,199.67 L1306.05,199.12 L1306.38,199.44 L1306.71,199.3 L1307.04,199.99 L1307.37,198.76 L1307.7,198.93 L1308.03,199.39 L1308.36,200.76 L1308.69,200.68 L1309.02,199.42 L1309.35,199.79 L1309.68,200.43 L1310.01,200.32 L1310.34,200.71 L1310.67,200.19 L1311,199.77 L1311.33,201.07 L1311.66,201.41 L1311.99,200.2 L1312.32,200.15 L1312.65,201.02 L1312.98,200.39 L1313.31,201.6 L1313.64,200.84 L1313.97,201.83 L1314.3,201.44 L1314.63,201.71 L1314.96,202.02 L1315.29,201.7 L1315.62,201.36 L1315.95,202.27 L1316.28,201.11 L1316.61,202.61 L1316.94,201.8 L1317.27,201.97 L1317.6,202.43 L1317.93,202.44 L1318.26,202.53 L1318.59,201.64 L1318.92,201.96 L1319.25,202.68 L1319.58,202.67 L1319.91,202.54 L1320.24,203.39 L1320.57,202.53 L1320.9,203.16 L1321.23,203.32 L1321.56,203.06 L1321.89,202.86 L1322.22,203.39 L1322.55,203.32 L1322.88,203.47 L1323.21,202.79 L1323.54,203.61 L1323.87,204.3 L1324.2,203.48 L1324.53,203.69 L1324.86,203.5 L1325.19,204.17 L1325.52,202.67 L1325.85,204.6 L1326.18,203.98 L1326.51,203.79 L1326.84,204.16 L1327.17,204.57 L1327.5,204.17 L1327.83,204.19 L1328.16,204.47 L1328.49,204.05 L1328.82,204.39 L1329.15,204.75 L1329.48,204.45 L1329.81,203.91 L1330.14,204.64 L1330.47,205.26 L1330.8,204.13 L1331.13,204.72 L1331.46,204.74 L1331.79,204.85 L1332.12,204.22 L1332.45,204.55 L1332.78,205.61" fill="none" stroke="#808080" stroke-width="1.8" stroke-linejoin="round" stroke-linecap="butt" />
<path d="M1224.2,219.58 L1224.53,219.85 L1224.86,219.13 L1225.19,219.91 L1225.52,219.33 L1225.85,219.37 L1226.18,219.26 L1226.51,219.12 L1226.84,220.05 L1227.17,220.11 L1227.5,219.48 L1227.83,219.71 L1228.16,220.32 L1228.49,219.66 L1228.82,219.62 L1229.15,219.48 L1229.48,220.48 L1229.81,219.88 L1230.14,219.7 L1230.47,219.47 L1230.8,219.37 L1231.13,220.15 L1231.46,219.5 L1231.79,219.59 L1232.12,219.13 L1232.45,219.37 L1232.78,219.54 L1233.11,219.59 L1233.44,219.13 L1233.77,219.54 L1234.1,219.7 L1234.43,218.68 L1234.76,219.89 L1235.09,219.5 L1235.42,219.08 L1235.75,219.39 L1236.08,219.63 L1236.41,219.46 L1236.74,219.5 L1237.07,219.46 L1237.4,219.77 L1237.73,218.89 L1238.06,219.17 L1238.39,219.52 L1238.4,219.7 L1238.4,95 L1238.73,90.62 L1239.06,86.72 L1239.39,84.37 L1239.72,84.15 L1240.05,84.54 L1240.38,84.42 L1240.71,84.58 L1241.04,84.96 L1241.37,84.99 L1241.7,85.33 L1242.03,85.85 L1242.36,85.7 L1242.69,86.22 L1243.02,87.07 L1243.35,87.8 L1243.68,87.82 L1244.01,88.43 L1244.34,89.58 L1244.67,89.42 L1245,90.56 L1245.33,91.37 L1245.66,91.85 L1245.99,92.37 L1246.32,94.17 L1246.65,95.48 L1246.98,96.19 L1247.31,97.26 L1247.64,96.54 L1247.97,98.36 L1248.3,99.75 L1248.63,99.82 L1248.96,100.54 L1249.29,102.06 L1249.62,102.86 L1249.95,104.08 L1250.28,104.92 L1250.61,106.47 L1250.94,107.18 L1251.27,107.96 L1251.6,108.57 L1251.93,109.85 L1252.26,110.17 L1252.59,111.83 L1252.92,112.85 L1253.25,113.64 L1253.58,113.67 L1253.91,115.24 L1254.24,116.1 L1254.57,117.28 L1254.9,117.12 L1255.23,118.34 L1255.56,119.41 L1255.89,120.85 L1256.22,120.75 L1256.55,122.13 L1256.88,122.54 L1257.21,123.98 L1257.54,124.03 L1257.87,124.09 L1258.2,125.55 L1258.53,126.57 L1258.86,127.7 L1259.19,128.11 L1259.52,128.52 L1259.85,128.94 L1260.18,130.11 L1260.51,130.83 L1260.84,132.01 L1261.17,132.49 L1261.5,132.3 L1261.83,132.55 L1262.16,134.03 L1262.49,135.06 L1262.82,135.26 L1263.15,136.13 L1263.48,137.55 L1263.81,138.05 L1264.14,137.81 L1264.47,139.33 L1264.8,139.82 L1265.13,140.42 L1265.46,141.4 L1265.79,142.01 L1266.12,143.39 L1266.45,143.11 L1266.78,143.31 L1267.11,143.9 L1267.44,144.9 L1267.77,145.89 L1268.1,145.95 L1268.43,146.46 L1268.76,146.86 L1269.09,147.05 L1269.42,147.79 L1269.75,147.6 L1270.08,148.77 L1270.41,149.16 L1270.74,149.47 L1271.07,149.53 L1271.4,150.29 L1271.73,150.64 L1272.06,151.33 L1272.39,151.51 L1272.72,152.12 L1273.05,152.78 L1273.38,153.39 L1273.71,152.88 L1274.04,153.59 L1274.37,153.67 L1274.7,155.1 L1275.03,154.67 L1275.36,155.93 L1275.69,155.61 L1276.02,156.65 L1276.35,156.45 L1276.68,156.94 L1277.01,157.43 L1277.34,157.81 L1277.67,158.1 L1278,158.75 L1278.33,159.27 L1278.66,159.48 L1278.99,159.32 L1279.32,159.09 L1279.65,160.13 L1279.98,159.28 L1280.31,160.95 L1280.64,161.29 L1280.97,160.86 L1281.3,161.85 L1281.63,161.78 L1281.96,162.87 L1282.29,162.33 L1282.62,162.68 L1282.95,163.03 L1283.28,163.64 L1283.61,163.48 L1283.94,164.99 L1284.27,164.25 L1284.6,165.41 L1284.93,164.94 L1285.26,165.19 L1285.59,165.29 L1285.92,165.54 L1286.25,166.35 L1286.58,166.82 L1286.91,166.71 L1287.24,166.61 L1287.57,167.39 L1287.9,167.2 L1288.23,166.79 L1288.56,168.1 L1288.89,167.64 L1289.22,168.31 L1289.55,168.69 L1289.88,168.76 L1290.21,169.09 L1290.54,170.1 L1290.87,170.07 L1291.2,170.47 L1291.53,170.24 L1291.86,170.47 L1292.19,171.38 L1292.52,170.76 L1292.85,171.36 L1293.18,171.5 L1293.51,171.76 L1293.84,171.99 L1294.17,172.04 L1294.5,172.58 L1294.83,172.23 L1295.16,172.98 L1295.49,172.71 L1295.82,173.74 L1296.15,173.92 L1296.48,173.65 L1296.81,173.72 L1297.14,174.1 L1297.47,174.51 L1297.8,173.89 L1298.13,174.31 L1298.46,175.28 L1298.79,174.97 L1299.12,174.79 L1299.45,174.58 L1299.78,175.5 L1300.11,175.19 L1300.44,176 L1300.77,176.06 L1301.1,177.05 L1301.43,176 L1301.76,176.89 L1302.09,176.33 L1302.42,176.59 L1302.75,177.13 L1303.08,177.05 L1303.41,178.37 L1303.74,177.78 L1304.07,177.66 L1304.4,179.02 L1304.73,178 L1305.06,178.42 L1305.39,178.8 L1305.72,178.74 L1306.05,179.45 L1306.38,179.89 L1306.71,179.1 L1307.04,179.64 L1307.37,179.8 L1307.7,179.62 L1308.03,179.71 L1308.36,180.29 L1308.69,180.3 L1309.02,181.09 L1309.35,181.41 L1309.68,181.38 L1310.01,181.63 L1310.34,181.29 L1310.67,181.6 L1311,182.12 L1311.33,182.29 L1311.66,182.12 L1311.99,182.53 L1312.32,182.34 L1312.65,182.04 L1312.98,182.81 L1313.31,182.6 L1313.64,182.32 L1313.97,183.49 L1314.3,183.45 L1314.63,183.67 L1314.96,183.33 L1315.29,184.19 L1315.62,183.96 L1315.95,184.31 L1316.28,184 L1316.61,184.19 L1316.94,184.95 L1317.27,184.65 L1317.6,184.9 L1317.93,185.72 L1318.26,185.7 L1318.59,185.55 L1318.92,186.19 L1319.25,185.03 L1319.58,185.78 L1319.91,185.79 L1320.24,186.65 L1320.57,186.8 L1320.9,186.04 L1321.23,186.39 L1321.56,186.77 L1321.89,186.77 L1322.22,186.78 L1322.55,187.23 L1322.88,187.73 L1323.21,187.16 L1323.54,186.93 L1323.87,187.52 L1324.2,187.61 L1324.53,187.69 L1324.86,188.29 L1325.19,188.52 L1325.52,188.74 L1325.85,188.57 L1326.18,188.56 L1326.51,188.03 L1326.84,188.3 L1327.17,188.16 L1327.5,188.77 L1327.83,188.69 L1328.16,188.82 L1328.49,189.16 L1328.82,188.88 L1329.15,189.54 L1329.48,189.62 L1329.81,188.88 L1330.14,189.78 L1330.47,189.21 L1330.8,189.18 L1331.13,189.49 L1331.46,189.18 L1331.79,189.85 L1332.12,190.36" fill="none" stroke="#000000" stroke-width="2.2" stroke-linejoin="round" stroke-linecap="butt" />
<path d="M1224.2,220.83 L1224.53,220.26 L1224.86,219.72 L1225.19,219.52 L1225.52,219.96 L1225.85,219.77 L1226.18,219.41 L1226.51,220.22 L1226.84,220.73 L1227.17,219.44 L1227.5,219.56 L1227.83,219.72 L1228.16,219.42 L1228.49,220.16 L1228.82,219.26 L1229.15,220.03 L1229.48,220.01 L1229.81,220.11 L1230.14,219.09 L1230.47,219.75 L1230.8,219.84 L1231.13,220.01 L1231.46,219.85 L1231.79,219.39 L1232.12,220.08 L1232.45,220.17 L1232.78,220.18 L1233.11,219.38 L1233.44,219.85 L1233.77,219.33 L1234.1,219.6 L1234.43,219.98 L1234.76,219.21 L1235.09,220.82 L1235.42,220.22 L1235.75,219.54 L1236.08,219.7 L1236.41,219.86 L1236.74,219.81 L1237.07,219.42 L1237.4,219.81 L1237.73,219.27 L1238.06,219.56 L1238.39,220.55 L1238.4,219.7 L1238.4,95 L1238.73,90.63 L1239.06,86.68 L1239.39,84.33 L1239.72,84.07 L1240.05,84.14 L1240.38,84.16 L1240.71,84.81 L1241.04,84.48 L1241.37,84.82 L1241.7,85.37 L1242.03,85.66 L1242.36,86.15 L1242.69,86.58 L1243.02,86.82 L1243.35,87.21 L1243.68,87.71 L1244.01,88.44 L1244.34,89.59 L1244.67,90.34 L1245,91.2 L1245.33,91.08 L1245.66,92.33 L1245.99,93.24 L1246.32,94.09 L1246.65,94.79 L1246.98,96.25 L1247.31,97.14 L1247.64,98.28 L1247.97,98.15 L1248.3,99.16 L1248.63,100.12 L1248.96,100.95 L1249.29,101.54 L1249.62,103.12 L1249.95,102.98 L1250.28,104.45 L1250.61,104.82 L1250.94,106.77 L1251.27,106.91 L1251.6,107.81 L1251.93,109.14 L1252.26,109.67 L1252.59,111.15 L1252.92,111.82 L1253.25,113.68 L1253.58,113.39 L1253.91,114.43 L1254.24,115.82 L1254.57,116.6 L1254.9,117.63 L1255.23,118.16 L1255.56,119.44 L1255.89,120.1 L1256.22,121.26 L1256.55,120.91 L1256.88,122.38 L1257.21,122.86 L1257.54,123.86 L1257.87,124.11 L1258.2,125.54 L1258.53,125.4 L1258.86,127.06 L1259.19,127.59 L1259.52,127.37 L1259.85,129.02 L1260.18,128.75 L1260.51,130.56 L1260.84,130.39 L1261.17,131.71 L1261.5,132.31 L1261.83,132.51 L1262.16,133.08 L1262.49,134.73 L1262.82,135.09 L1263.15,136.47 L1263.48,136.6 L1263.81,138.47 L1264.14,138.06 L1264.47,139.36 L1264.8,139.44 L1265.13,139.98 L1265.46,140.74 L1265.79,140.87 L1266.12,141.57 L1266.45,143.04 L1266.78,142.88 L1267.11,143.1 L1267.44,144.39 L1267.77,144.41 L1268.1,145.33 L1268.43,146.3 L1268.76,146.85 L1269.09,147.58 L1269.42,147.78 L1269.75,148.02 L1270.08,148.31 L1270.41,148.56 L1270.74,148.9 L1271.07,150.32 L1271.4,149.85 L1271.73,150.99 L1272.06,150.69 L1272.39,151.68 L1272.72,150.46 L1273.05,152.08 L1273.38,152.28 L1273.71,153.49 L1274.04,153.84 L1274.37,153.38 L1274.7,153.89 L1275.03,154.63 L1275.36,154.84 L1275.69,155.18 L1276.02,155.92 L1276.35,155.46 L1276.68,156.95 L1277.01,156.97 L1277.34,155.99 L1277.67,157.11 L1278,157.87 L1278.33,159.2 L1278.66,158.65 L1278.99,158.39 L1279.32,159.77 L1279.65,159.6 L1279.98,159.78 L1280.31,160.6 L1280.64,160.3 L1280.97,160.74 L1281.3,161.42 L1281.63,161.42 L1281.96,161.94 L1282.29,161.75 L1282.62,162.92 L1282.95,162.04 L1283.28,162.32 L1283.61,163.36 L1283.94,163.38 L1284.27,163.82 L1284.6,164.03 L1284.93,164.25 L1285.26,164.18 L1285.59,165.07 L1285.92,165.78 L1286.25,165.18 L1286.58,166.42 L1286.91,166.61 L1287.24,165.98 L1287.57,166.94 L1287.9,166.47 L1288.23,167.15 L1288.56,167.09 L1288.89,167.55 L1289.22,167.27 L1289.55,168.15 L1289.88,168.04 L1290.21,168.31 L1290.54,168.08 L1290.87,169.02 L1291.2,170.01 L1291.53,169.4 L1291.86,169.55 L1292.19,169.46 L1292.52,169.97 L1292.85,170.01 L1293.18,169.98 L1293.51,170.46 L1293.84,170.84 L1294.17,171.49 L1294.5,171.47 L1294.83,171.97 L1295.16,172.6 L1295.49,172.67 L1295.82,172.31 L1296.15,171.99 L1296.48,172.8 L1296.81,173.2 L1297.14,173.77 L1297.47,173.68 L1297.8,175.03 L1298.13,174.05 L1298.46,174.6 L1298.79,174.27 L1299.12,174.31 L1299.45,174.87 L1299.78,175.12 L1300.11,175.45 L1300.44,174.1 L1300.77,175.96 L1301.1,176.17 L1301.43,176.21 L1301.76,176.21 L1302.09,175.91 L1302.42,176.4 L1302.75,176.94 L1303.08,176.29 L1303.41,177.14 L1303.74,177.25 L1304.07,177.14 L1304.4,178.25 L1304.73,177.5 L1305.06,177.6 L1305.39,178.16 L1305.72,178.17 L1306.05,179.02 L1306.38,178.04 L1306.71,178.32 L1307.04,179 L1307.37,179.4 L1307.7,178.75 L1308.03,179.92 L1308.36,178.74 L1308.69,180.05 L1309.02,179.53 L1309.35,179.86 L1309.68,180.94 L1310.01,180.25 L1310.34,180.22 L1310.67,180.68 L1311,181.52 L1311.33,180.88 L1311.66,180.72 L1311.99,181.29 L1312.32,180.77 L1312.65,181.16 L1312.98,181.31 L1313.31,182.01 L1313.64,181.73 L1313.97,182.26 L1314.3,182.85 L1314.63,183.2 L1314.96,182.01 L1315.29,182.85 L1315.62,182.56 L1315.95,183.49 L1316.28,183.41 L1316.61,183.55 L1316.94,183.44 L1317.27,183.37 L1317.6,183.16 L1317.93,184.33 L1318.26,184.1 L1318.59,184.32 L1318.92,184.5 L1319.25,184.8 L1319.58,185.37 L1319.91,184.72 L1320.24,185.15 L1320.57,184.36 L1320.9,185.15 L1321.23,185.13 L1321.56,185.28 L1321.89,186.03 L1322.22,185.78 L1322.55,185.85 L1322.88,186.07 L1323.21,186.13 L1323.54,186.28 L1323.87,186.19 L1324.2,186.31 L1324.53,186.43 L1324.86,186.63 L1325.19,186.04 L1325.52,186.88 L1325.85,186.98 L1326.18,187.29 L1326.51,186.78 L1326.84,187.04 L1327.17,187.92 L1327.5,187.41 L1327.83,188.15 L1328.16,187.84 L1328.49,187.83 L1328.82,187.97 L1329.15,188.34 L1329.48,188.55 L1329.81,188.43 L1330.14,189.68 L1330.47,189.29 L1330.8,189.11 L1331.13,190.09 L1331.46,189.88 L1331.79,189.41 L1332.12,189.29" fill="none" stroke="#ec1c24" stroke-width="2.0" stroke-linejoin="round" stroke-linecap="butt" />
<path d="M1097.6,64.9 L1097.6,148.6 L1167.8,148.6" fill="none" stroke="#000000" stroke-width="3.5" stroke-linejoin="round" stroke-linecap="butt" stroke-linejoin="miter"/>
<path d="M1342.7,83.4 L1342.7,220.4 L1412.9,220.4" fill="none" stroke="#000000" stroke-width="3.5" stroke-linejoin="round" stroke-linecap="butt" stroke-linejoin="miter"/>
<path d="M1393.5,358.9 L1393.5,439.3 L1447.7,439.3" fill="none" stroke="#000000" stroke-width="3.5" stroke-linejoin="round" stroke-linecap="butt" stroke-linejoin="miter"/>
<text x="-2" y="30.5" font-size="43" fill="#000000" text-anchor="start" font-weight="bold" >a</text>
<text x="699.6" y="30.5" font-size="43" fill="#000000" text-anchor="start" font-weight="bold" >b</text>
<text x="312.5" y="77.6" font-size="29" fill="#000000" text-anchor="start" font-weight="normal" >PNI</text>
<text x="41.5" y="205" font-size="29" fill="#808080" text-anchor="start" font-weight="normal" >ACSF</text>
<text x="-1.2" y="492" font-size="29" fill="#000000" xml:space="preserve">L838,4</text>
<path d="M95.1,492 L98.06,492 L98.06,471.35 L95.62,471.35 L94.9,472.71 L93.74,473.67 L92.14,474.11 L90.11,474.4 L90.11,477.15 L95.1,477.15Z" fill="#000000"/>
<text x="103.63" y="492" font-size="29" fill="#000000" xml:space="preserve">7</text>
<text x="988.5" y="121" font-size="29" fill="#000000" text-anchor="start" font-weight="normal" >250 pA</text>
<text x="1094" y="179.8" font-size="29" fill="#000000" text-anchor="start" font-weight="normal" >25 ms</text>
<path d="M1332.6,85.8 L1335.56,85.8 L1335.56,65.15 L1333.12,65.15 L1332.39,66.52 L1331.23,67.47 L1329.64,67.91 L1327.61,68.2 L1327.61,70.95 L1332.6,70.95Z" fill="#000000"/>
<text x="1338" y="254.4" font-size="29" fill="#000000" text-anchor="start" font-weight="normal" >25 ms</text>
<text x="704.5" y="465.6" font-size="29" fill="#ec1c24" xml:space="preserve">L838,4</text>
<path d="M800.8,465.6 L803.76,465.6 L803.76,444.95 L801.32,444.95 L800.6,446.31 L799.44,447.27 L797.84,447.71 L795.81,448 L795.81,450.75 L800.8,450.75Z" fill="#ec1c24"/>
<text x="809.33" y="465.6" font-size="29" fill="#ec1c24" xml:space="preserve">7</text>
<text x="704.5" y="497.3" font-size="29" fill="#ec1c24" text-anchor="start" font-weight="normal" >+ CLP257</text>
<path d="M1401.6,469 L1404.56,469 L1404.56,448.35 L1402.12,448.35 L1401.39,449.71 L1400.23,450.67 L1398.64,451.11 L1396.61,451.4 L1396.61,454.15 L1401.6,454.15Z" fill="#000000"/>
<text x="1410.13" y="469" font-size="29" fill="#000000" xml:space="preserve">00 ms</text>
<text x="0" y="0" font-size="29" fill="#000000" transform="translate(1375.1,450.5) rotate(-90)">250 pA</text>
<line x1="168.5" y1="622.82" x2="168.5" y2="914.9" stroke="#000000" stroke-width="3" stroke-linecap="butt"/>
<line x1="159.2" y1="913.4" x2="602.72" y2="913.4" stroke="#000000" stroke-width="3" stroke-linecap="butt"/>
<line x1="159.2" y1="913.4" x2="168.5" y2="913.4" stroke="#000000" stroke-width="3" stroke-linecap="butt"/>
<text x="108.69" y="921.7" font-size="29" fill="#000000" xml:space="preserve">0.0</text>
<line x1="159.2" y1="865.22" x2="168.5" y2="865.22" stroke="#000000" stroke-width="3" stroke-linecap="butt"/>
<text x="108.69" y="873.52" font-size="29" fill="#000000" xml:space="preserve">0.2</text>
<line x1="159.2" y1="817.04" x2="168.5" y2="817.04" stroke="#000000" stroke-width="3" stroke-linecap="butt"/>
<text x="108.69" y="825.34" font-size="29" fill="#000000" xml:space="preserve">0.4</text>
<line x1="159.2" y1="768.86" x2="168.5" y2="768.86" stroke="#000000" stroke-width="3" stroke-linecap="butt"/>
<text x="108.69" y="777.16" font-size="29" fill="#000000" xml:space="preserve">0.6</text>
<line x1="159.2" y1="720.68" x2="168.5" y2="720.68" stroke="#000000" stroke-width="3" stroke-linecap="butt"/>
<text x="108.69" y="728.98" font-size="29" fill="#000000" xml:space="preserve">0.8</text>
<line x1="159.2" y1="672.5" x2="168.5" y2="672.5" stroke="#000000" stroke-width="3" stroke-linecap="butt"/>
<path d="M116.28,680.8 L119.24,680.8 L119.24,660.15 L116.81,660.15 L116.08,661.51 L114.92,662.47 L113.33,662.91 L111.3,663.2 L111.3,665.95 L116.28,665.95Z" fill="#000000"/>
<text x="124.81" y="680.8" font-size="29" fill="#000000" xml:space="preserve">.0</text>
<line x1="159.2" y1="624.32" x2="168.5" y2="624.32" stroke="#000000" stroke-width="3" stroke-linecap="butt"/>
<path d="M116.28,632.62 L119.24,632.62 L119.24,611.97 L116.81,611.97 L116.08,613.33 L114.92,614.29 L113.33,614.73 L111.3,615.02 L111.3,617.77 L116.28,617.77Z" fill="#000000"/>
<text x="124.81" y="632.62" font-size="29" fill="#000000" xml:space="preserve">.2</text>
<line x1="168.5" y1="913.4" x2="168.5" y2="922.7" stroke="#000000" stroke-width="3" stroke-linecap="butt"/>
<path d="M168.03,954.6 L170.99,954.6 L170.99,933.95 L168.56,933.95 L167.83,935.32 L166.67,936.27 L165.08,936.71 L163.05,937 L163.05,939.75 L168.03,939.75Z" fill="#000000"/>
<line x1="222.59" y1="913.4" x2="222.59" y2="922.7" stroke="#000000" stroke-width="3" stroke-linecap="butt"/>
<text x="214.53" y="954.6" font-size="29" fill="#000000" xml:space="preserve">4</text>
<line x1="276.68" y1="913.4" x2="276.68" y2="922.7" stroke="#000000" stroke-width="3" stroke-linecap="butt"/>
<text x="268.62" y="954.6" font-size="29" fill="#000000" xml:space="preserve">7</text>
<line x1="330.77" y1="913.4" x2="330.77" y2="922.7" stroke="#000000" stroke-width="3" stroke-linecap="butt"/>
<path d="M322.24,954.6 L325.2,954.6 L325.2,933.95 L322.76,933.95 L322.04,935.32 L320.88,936.27 L319.28,936.71 L317.25,937 L317.25,939.75 L322.24,939.75Z" fill="#000000"/>
<text x="330.77" y="954.6" font-size="29" fill="#000000" xml:space="preserve">0</text>
<line x1="384.86" y1="913.4" x2="384.86" y2="922.7" stroke="#000000" stroke-width="3" stroke-linecap="butt"/>
<path d="M376.33,954.6 L379.29,954.6 L379.29,933.95 L376.85,933.95 L376.13,935.32 L374.97,936.27 L373.37,936.71 L371.34,937 L371.34,939.75 L376.33,939.75Z" fill="#000000"/>
<text x="384.86" y="954.6" font-size="29" fill="#000000" xml:space="preserve">3</text>
<line x1="438.95" y1="913.4" x2="438.95" y2="922.7" stroke="#000000" stroke-width="3" stroke-linecap="butt"/>
<path d="M430.42,954.6 L433.38,954.6 L433.38,933.95 L430.94,933.95 L430.22,935.32 L429.06,936.27 L427.46,936.71 L425.43,937 L425.43,939.75 L430.42,939.75Z" fill="#000000"/>
<text x="438.95" y="954.6" font-size="29" fill="#000000" xml:space="preserve">6</text>
<line x1="493.04" y1="913.4" x2="493.04" y2="922.7" stroke="#000000" stroke-width="3" stroke-linecap="butt"/>
<path d="M484.51,954.6 L487.47,954.6 L487.47,933.95 L485.03,933.95 L484.31,935.32 L483.15,936.27 L481.55,936.71 L479.52,937 L479.52,939.75 L484.51,939.75Z" fill="#000000"/>
<text x="493.04" y="954.6" font-size="29" fill="#000000" xml:space="preserve">9</text>
<line x1="547.13" y1="913.4" x2="547.13" y2="922.7" stroke="#000000" stroke-width="3" stroke-linecap="butt"/>
<text x="531" y="954.6" font-size="29" fill="#000000" xml:space="preserve">22</text>
<line x1="601.22" y1="913.4" x2="601.22" y2="922.7" stroke="#000000" stroke-width="3" stroke-linecap="butt"/>
<text x="585.09" y="954.6" font-size="29" fill="#000000" xml:space="preserve">25</text>
<text x="387" y="997.9" font-size="29" fill="#000000" text-anchor="middle" font-weight="normal" >eIPSCs (#)</text>
<text x="0" y="0" font-size="29" text-anchor="middle" transform="translate(49.8,768.86) rotate(-90)">Normalized eIPSC</text>
<text x="0" y="0" font-size="29" text-anchor="middle" transform="translate(85,768.86) rotate(-90)">amplitude</text>
<text x="278.4" y="608.7" font-size="29" fill="#000000" text-anchor="start" font-weight="normal" >PNI (<tspan font-style="italic" dx="4">V</tspan><tspan font-size="20.5" dy="8">h</tspan><tspan dy="-8"> = 0 mV)</tspan></text>
<text x="-1.5" y="596.3" font-size="43" fill="#000000" text-anchor="start" font-weight="bold" >c</text>
<path d="M168.5,672.5 L170.88,674.75 L173.26,676.95 L175.64,679.12 L178.03,681.25 L180.41,683.33 L182.79,685.39 L185.17,687.4 L187.55,689.38 L189.93,691.32 L192.31,693.23 L194.69,695.11 L197.08,696.95 L199.46,698.75 L201.84,700.53 L204.22,702.27 L206.6,703.99 L208.98,705.67 L211.36,707.32 L213.75,708.94 L216.13,710.53 L218.51,712.1 L220.89,713.63 L223.27,715.14 L225.65,716.62 L228.03,718.08 L230.41,719.51 L232.8,720.91 L235.18,722.29 L237.56,723.64 L239.94,724.97 L242.32,726.28 L244.7,727.56 L247.08,728.82 L249.46,730.05 L251.85,731.27 L254.23,732.46 L256.61,733.63 L258.99,734.78 L261.37,735.91 L263.75,737.02 L266.13,738.11 L268.52,739.18 L270.9,740.23 L273.28,741.26 L275.66,742.27 L278.04,743.27 L280.42,744.25 L282.8,745.2 L285.18,746.15 L287.57,747.07 L289.95,747.98 L292.33,748.87 L294.71,749.75 L297.09,750.61 L299.47,751.46 L301.85,752.29 L304.24,753.1 L306.62,753.9 L309,754.69 L311.38,755.46 L313.76,756.22 L316.14,756.97 L318.52,757.7 L320.9,758.42 L323.29,759.12 L325.67,759.82 L328.05,760.5 L330.43,761.16 L332.81,761.82 L335.19,762.46 L337.57,763.1 L339.96,763.72 L342.34,764.33 L344.72,764.93 L347.1,765.52 L349.48,766.1 L351.86,766.66 L354.24,767.22 L356.62,767.77 L359.01,768.31 L361.39,768.84 L363.77,769.35 L366.15,769.86 L368.53,770.36 L370.91,770.86 L373.29,771.34 L375.67,771.81 L378.06,772.28 L380.44,772.73 L382.82,773.18 L385.2,773.62 L387.58,774.06 L389.96,774.48 L392.34,774.9 L394.73,775.31 L397.11,775.71 L399.49,776.11 L401.87,776.5 L404.25,776.88 L406.63,777.25 L409.01,777.62 L411.39,777.98 L413.78,778.34 L416.16,778.68 L418.54,779.03 L420.92,779.36 L423.3,779.69 L425.68,780.02 L428.06,780.33 L430.45,780.65 L432.83,780.95 L435.21,781.26 L437.59,781.55 L439.97,781.84 L442.35,782.13 L444.73,782.41 L447.11,782.68 L449.5,782.95 L451.88,783.22 L454.26,783.48 L456.64,783.74 L459.02,783.99 L461.4,784.24 L463.78,784.48 L466.17,784.72 L468.55,784.95 L470.93,785.18 L473.31,785.41 L475.69,785.63 L478.07,785.85 L480.45,786.06 L482.83,786.27 L485.22,786.48 L487.6,786.68 L489.98,786.88 L492.36,787.07 L494.74,787.26 L497.12,787.45 L499.5,787.64 L501.88,787.82 L504.27,788 L506.65,788.17 L509.03,788.34 L511.41,788.51 L513.79,788.68 L516.17,788.84 L518.55,789 L520.94,789.16 L523.32,789.31 L525.7,789.47 L528.08,789.61 L530.46,789.76 L532.84,789.9 L535.22,790.04 L537.6,790.18 L539.99,790.32 L542.37,790.45 L544.75,790.58 L547.13,790.71" fill="none" stroke="#ec1c24" stroke-width="3" stroke-linejoin="round" stroke-linecap="butt" />
<path d="M168.5,672.5 L170.88,677.36 L173.26,682.04 L175.64,686.57 L178.03,690.93 L180.41,695.14 L182.79,699.21 L185.17,703.13 L187.55,706.91 L189.93,710.56 L192.31,714.08 L194.69,717.48 L197.08,720.76 L199.46,723.93 L201.84,726.98 L204.22,729.93 L206.6,732.77 L208.98,735.52 L211.36,738.16 L213.75,740.72 L216.13,743.18 L218.51,745.56 L220.89,747.86 L223.27,750.07 L225.65,752.21 L228.03,754.27 L230.41,756.26 L232.8,758.18 L235.18,760.03 L237.56,761.82 L239.94,763.55 L242.32,765.21 L244.7,766.82 L247.08,768.37 L249.46,769.86 L251.85,771.31 L254.23,772.7 L256.61,774.04 L258.99,775.34 L261.37,776.59 L263.75,777.8 L266.13,778.96 L268.52,780.09 L270.9,781.17 L273.28,782.22 L275.66,783.23 L278.04,784.2 L280.42,785.14 L282.8,786.05 L285.18,786.93 L287.57,787.77 L289.95,788.59 L292.33,789.37 L294.71,790.13 L297.09,790.86 L299.47,791.57 L301.85,792.25 L304.24,792.91 L306.62,793.55 L309,794.16 L311.38,794.75 L313.76,795.32 L316.14,795.87 L318.52,796.4 L320.9,796.91 L323.29,797.41 L325.67,797.89 L328.05,798.35 L330.43,798.79 L332.81,799.22 L335.19,799.63 L337.57,800.03 L339.96,800.42 L342.34,800.79 L344.72,801.15 L347.1,801.49 L349.48,801.83 L351.86,802.15 L354.24,802.46 L356.62,802.76 L359.01,803.05 L361.39,803.33 L363.77,803.6 L366.15,803.86 L368.53,804.11 L370.91,804.35 L373.29,804.59 L375.67,804.81 L378.06,805.03 L380.44,805.24 L382.82,805.44 L385.2,805.64 L387.58,805.83 L389.96,806.01 L392.34,806.18 L394.73,806.35 L397.11,806.52 L399.49,806.67 L401.87,806.83 L404.25,806.97 L406.63,807.12 L409.01,807.25 L411.39,807.38 L413.78,807.51 L416.16,807.64 L418.54,807.75 L420.92,807.87 L423.3,807.98 L425.68,808.09 L428.06,808.19 L430.45,808.29 L432.83,808.38 L435.21,808.48 L437.59,808.56 L439.97,808.65 L442.35,808.73 L444.73,808.81 L447.11,808.89 L449.5,808.97 L451.88,809.04 L454.26,809.11 L456.64,809.17 L459.02,809.24 L461.4,809.3 L463.78,809.36 L466.17,809.42 L468.55,809.48 L470.93,809.53 L473.31,809.58 L475.69,809.63 L478.07,809.68 L480.45,809.73 L482.83,809.77 L485.22,809.82 L487.6,809.86 L489.98,809.9 L492.36,809.94 L494.74,809.98 L497.12,810.01 L499.5,810.05 L501.88,810.08 L504.27,810.11 L506.65,810.15 L509.03,810.18 L511.41,810.21 L513.79,810.23 L516.17,810.26 L518.55,810.29 L520.94,810.31 L523.32,810.34 L525.7,810.36 L528.08,810.39 L530.46,810.41 L532.84,810.43 L535.22,810.45 L537.6,810.47 L539.99,810.49 L542.37,810.51 L544.75,810.53 L547.13,810.54" fill="none" stroke="#000000" stroke-width="3" stroke-linejoin="round" stroke-linecap="butt" />
<circle cx="168.5" cy="672.5" r="5.9" fill="#ec1c24"/>
<line x1="222.59" y1="709" x2="222.59" y2="724.41" stroke="#ec1c24" stroke-width="3.6" stroke-linecap="butt"/>
<line x1="216.59" y1="709" x2="228.59" y2="709" stroke="#ec1c24" stroke-width="3.6" stroke-linecap="butt"/>
<line x1="216.59" y1="724.41" x2="228.59" y2="724.41" stroke="#ec1c24" stroke-width="3.6" stroke-linecap="butt"/>
<circle cx="222.59" cy="716.71" r="5.9" fill="#ec1c24"/>
<line x1="276.68" y1="739.47" x2="276.68" y2="754.89" stroke="#ec1c24" stroke-width="3.6" stroke-linecap="butt"/>
<line x1="270.68" y1="739.47" x2="282.68" y2="739.47" stroke="#ec1c24" stroke-width="3.6" stroke-linecap="butt"/>
<line x1="270.68" y1="754.89" x2="282.68" y2="754.89" stroke="#ec1c24" stroke-width="3.6" stroke-linecap="butt"/>
<circle cx="276.68" cy="747.18" r="5.9" fill="#ec1c24"/>
<line x1="330.77" y1="750.55" x2="330.77" y2="766.93" stroke="#ec1c24" stroke-width="3.6" stroke-linecap="butt"/>
<line x1="324.77" y1="750.55" x2="336.77" y2="750.55" stroke="#ec1c24" stroke-width="3.6" stroke-linecap="butt"/>
<line x1="324.77" y1="766.93" x2="336.77" y2="766.93" stroke="#ec1c24" stroke-width="3.6" stroke-linecap="butt"/>
<circle cx="330.77" cy="758.74" r="5.9" fill="#ec1c24"/>
<line x1="384.86" y1="765.73" x2="384.86" y2="780.18" stroke="#ec1c24" stroke-width="3.6" stroke-linecap="butt"/>
<line x1="378.86" y1="765.73" x2="390.86" y2="765.73" stroke="#ec1c24" stroke-width="3.6" stroke-linecap="butt"/>
<line x1="378.86" y1="780.18" x2="390.86" y2="780.18" stroke="#ec1c24" stroke-width="3.6" stroke-linecap="butt"/>
<circle cx="384.86" cy="772.96" r="5.9" fill="#ec1c24"/>
<circle cx="438.95" cy="782.11" r="5.9" fill="#ec1c24"/>
<circle cx="493.04" cy="787.89" r="5.9" fill="#ec1c24"/>
<circle cx="547.13" cy="792.71" r="5.9" fill="#ec1c24"/>
<rect x="162.9" y="666.9" width="11.2" height="11.2" fill="#000000"/>
<line x1="222.59" y1="746.46" x2="222.59" y2="771.99" stroke="#000000" stroke-width="3.6" stroke-linecap="butt"/>
<line x1="216.59" y1="746.46" x2="228.59" y2="746.46" stroke="#000000" stroke-width="3.6" stroke-linecap="butt"/>
<line x1="216.59" y1="771.99" x2="228.59" y2="771.99" stroke="#000000" stroke-width="3.6" stroke-linecap="butt"/>
<rect x="216.99" y="753.62" width="11.2" height="11.2" fill="#000000"/>
<line x1="276.68" y1="759.3" x2="276.68" y2="796.88" stroke="#000000" stroke-width="3.6" stroke-linecap="butt"/>
<line x1="270.68" y1="759.3" x2="282.68" y2="759.3" stroke="#000000" stroke-width="3.6" stroke-linecap="butt"/>
<line x1="270.68" y1="796.88" x2="282.68" y2="796.88" stroke="#000000" stroke-width="3.6" stroke-linecap="butt"/>
<rect x="271.08" y="772.49" width="11.2" height="11.2" fill="#000000"/>
<line x1="330.77" y1="776.14" x2="330.77" y2="809.86" stroke="#000000" stroke-width="3.6" stroke-linecap="butt"/>
<line x1="324.77" y1="776.14" x2="336.77" y2="776.14" stroke="#000000" stroke-width="3.6" stroke-linecap="butt"/>
<line x1="324.77" y1="809.86" x2="336.77" y2="809.86" stroke="#000000" stroke-width="3.6" stroke-linecap="butt"/>
<rect x="325.17" y="787.4" width="11.2" height="11.2" fill="#000000"/>
<line x1="384.86" y1="781.51" x2="384.86" y2="815.72" stroke="#000000" stroke-width="3.6" stroke-linecap="butt"/>
<line x1="378.86" y1="781.51" x2="390.86" y2="781.51" stroke="#000000" stroke-width="3.6" stroke-linecap="butt"/>
<line x1="378.86" y1="815.72" x2="390.86" y2="815.72" stroke="#000000" stroke-width="3.6" stroke-linecap="butt"/>
<rect x="379.26" y="793.01" width="11.2" height="11.2" fill="#000000"/>
<line x1="438.95" y1="793.55" x2="438.95" y2="823.42" stroke="#000000" stroke-width="3.6" stroke-linecap="butt"/>
<line x1="432.95" y1="793.55" x2="444.95" y2="793.55" stroke="#000000" stroke-width="3.6" stroke-linecap="butt"/>
<line x1="432.95" y1="823.42" x2="444.95" y2="823.42" stroke="#000000" stroke-width="3.6" stroke-linecap="butt"/>
<rect x="433.35" y="802.89" width="11.2" height="11.2" fill="#000000"/>
<line x1="493.04" y1="800.76" x2="493.04" y2="829.66" stroke="#000000" stroke-width="3.6" stroke-linecap="butt"/>
<line x1="487.04" y1="800.76" x2="499.04" y2="800.76" stroke="#000000" stroke-width="3.6" stroke-linecap="butt"/>
<line x1="487.04" y1="829.66" x2="499.04" y2="829.66" stroke="#000000" stroke-width="3.6" stroke-linecap="butt"/>
<rect x="487.44" y="809.61" width="11.2" height="11.2" fill="#000000"/>
<line x1="547.13" y1="803.67" x2="547.13" y2="831.13" stroke="#000000" stroke-width="3.6" stroke-linecap="butt"/>
<line x1="541.13" y1="803.67" x2="553.13" y2="803.67" stroke="#000000" stroke-width="3.6" stroke-linecap="butt"/>
<line x1="541.13" y1="831.13" x2="553.13" y2="831.13" stroke="#000000" stroke-width="3.6" stroke-linecap="butt"/>
<rect x="541.53" y="811.8" width="11.2" height="11.2" fill="#000000"/>
<line x1="187" y1="846.1" x2="218" y2="846.1" stroke="#000000" stroke-width="3" stroke-linecap="butt"/>
<rect x="196.9" y="840.5" width="11.2" height="11.2" fill="#000000"/>
<text x="227.1" y="854.7" font-size="25" fill="#000000" xml:space="preserve">L838,4</text>
<path d="M310.12,854.7 L312.67,854.7 L312.67,836.9 L310.57,836.9 L309.94,838.08 L308.94,838.9 L307.57,839.28 L305.82,839.53 L305.82,841.9 L310.12,841.9Z" fill="#000000"/>
<text x="317.47" y="854.7" font-size="25" fill="#000000" xml:space="preserve">7 (2 </text>
<path d="M370.12,841.9 L370.12,859.45 M370.12,850.45 C370.12,855.45 378,855.45 378,850.45 M378,841.9 L378,853.2 Q378.25,855.2 381.5,852.95" fill="none" stroke="#000000" stroke-width="2.05"/>
<ellipse cx="370.12" cy="858.83" rx="1.38" ry="1.25" fill="#000000"/>
<text x="381.9" y="854.7" font-size="25" fill="#000000" xml:space="preserve">M)</text>
<line x1="187" y1="885.2" x2="218" y2="885.2" stroke="#ec1c24" stroke-width="3" stroke-linecap="butt"/>
<circle cx="202.5" cy="885.2" r="5.9" fill="#ec1c24"/>
<text x="227.1" y="893.8" font-size="25" fill="#000000" xml:space="preserve">L838,4</text>
<path d="M310.12,893.8 L312.67,893.8 L312.67,876 L310.57,876 L309.94,877.18 L308.94,878 L307.57,878.38 L305.82,878.63 L305.82,881 L310.12,881Z" fill="#000000"/>
<text x="317.47" y="893.8" font-size="25" fill="#000000" xml:space="preserve">7 (2 </text>
<path d="M370.12,881 L370.12,898.55 M370.12,889.55 C370.12,894.55 378,894.55 378,889.55 M378,881 L378,892.3 Q378.25,894.3 381.5,892.05" fill="none" stroke="#000000" stroke-width="2.05"/>
<ellipse cx="370.12" cy="897.93" rx="1.38" ry="1.25" fill="#000000"/>
<text x="381.9" y="893.8" font-size="25" fill="#000000" xml:space="preserve">M) + CLP257 (5 </text>
<path d="M568.64,881 L568.64,898.55 M568.64,889.55 C568.64,894.55 576.51,894.55 576.51,889.55 M576.51,881 L576.51,892.3 Q576.76,894.3 580.01,892.05" fill="none" stroke="#000000" stroke-width="2.05"/>
<ellipse cx="568.64" cy="897.93" rx="1.38" ry="1.25" fill="#000000"/>
<text x="580.42" y="893.8" font-size="25" fill="#000000" xml:space="preserve">M)</text>
<path d="M561.7,789.2 L582.7,789.2 L582.7,815.7 L561.7,815.7" fill="none" stroke="#000000" stroke-width="3" stroke-linejoin="round" stroke-linecap="butt" stroke-linejoin="miter"/>
<path d="M600.5,803.65 L600.5,795.25 M600.5,803.65 L608.49,801.05 M600.5,803.65 L605.44,810.45 M600.5,803.65 L595.56,810.45 M600.5,803.65 L592.51,801.05 " stroke="#000000" stroke-width="3" fill="none"/>
<line x1="936.9" y1="622" x2="936.9" y2="913.6" stroke="#000000" stroke-width="3" stroke-linecap="butt"/>
<line x1="927.6" y1="912.1" x2="1372.32" y2="912.1" stroke="#000000" stroke-width="3" stroke-linecap="butt"/>
<line x1="927.6" y1="912.1" x2="936.9" y2="912.1" stroke="#000000" stroke-width="3" stroke-linecap="butt"/>
<text x="877.09" y="920.4" font-size="29" fill="#000000" xml:space="preserve">0.0</text>
<line x1="927.6" y1="864" x2="936.9" y2="864" stroke="#000000" stroke-width="3" stroke-linecap="butt"/>
<text x="877.09" y="872.3" font-size="29" fill="#000000" xml:space="preserve">0.2</text>
<line x1="927.6" y1="815.9" x2="936.9" y2="815.9" stroke="#000000" stroke-width="3" stroke-linecap="butt"/>
<text x="877.09" y="824.2" font-size="29" fill="#000000" xml:space="preserve">0.4</text>
<line x1="927.6" y1="767.8" x2="936.9" y2="767.8" stroke="#000000" stroke-width="3" stroke-linecap="butt"/>
<text x="877.09" y="776.1" font-size="29" fill="#000000" xml:space="preserve">0.6</text>
<line x1="927.6" y1="719.7" x2="936.9" y2="719.7" stroke="#000000" stroke-width="3" stroke-linecap="butt"/>
<text x="877.09" y="728" font-size="29" fill="#000000" xml:space="preserve">0.8</text>
<line x1="927.6" y1="671.6" x2="936.9" y2="671.6" stroke="#000000" stroke-width="3" stroke-linecap="butt"/>
<path d="M884.68,679.9 L887.64,679.9 L887.64,659.25 L885.21,659.25 L884.48,660.62 L883.32,661.57 L881.73,662.01 L879.7,662.3 L879.7,665.05 L884.68,665.05Z" fill="#000000"/>
<text x="893.21" y="679.9" font-size="29" fill="#000000" xml:space="preserve">.0</text>
<line x1="927.6" y1="623.5" x2="936.9" y2="623.5" stroke="#000000" stroke-width="3" stroke-linecap="butt"/>
<path d="M884.68,631.8 L887.64,631.8 L887.64,611.15 L885.21,611.15 L884.48,612.51 L883.32,613.47 L881.73,613.91 L879.7,614.2 L879.7,616.95 L884.68,616.95Z" fill="#000000"/>
<text x="893.21" y="631.8" font-size="29" fill="#000000" xml:space="preserve">.2</text>
<line x1="936.9" y1="912.1" x2="936.9" y2="921.4" stroke="#000000" stroke-width="3" stroke-linecap="butt"/>
<path d="M936.43,953.3 L939.39,953.3 L939.39,932.65 L936.96,932.65 L936.23,934.02 L935.07,934.97 L933.48,935.41 L931.45,935.7 L931.45,938.45 L936.43,938.45Z" fill="#000000"/>
<line x1="991.14" y1="912.1" x2="991.14" y2="921.4" stroke="#000000" stroke-width="3" stroke-linecap="butt"/>
<text x="983.08" y="953.3" font-size="29" fill="#000000" xml:space="preserve">4</text>
<line x1="1045.38" y1="912.1" x2="1045.38" y2="921.4" stroke="#000000" stroke-width="3" stroke-linecap="butt"/>
<text x="1037.32" y="953.3" font-size="29" fill="#000000" xml:space="preserve">7</text>
<line x1="1099.62" y1="912.1" x2="1099.62" y2="921.4" stroke="#000000" stroke-width="3" stroke-linecap="butt"/>
<path d="M1091.09,953.3 L1094.05,953.3 L1094.05,932.65 L1091.61,932.65 L1090.89,934.02 L1089.73,934.97 L1088.13,935.41 L1086.1,935.7 L1086.1,938.45 L1091.09,938.45Z" fill="#000000"/>
<text x="1099.62" y="953.3" font-size="29" fill="#000000" xml:space="preserve">0</text>
<line x1="1153.86" y1="912.1" x2="1153.86" y2="921.4" stroke="#000000" stroke-width="3" stroke-linecap="butt"/>
<path d="M1145.33,953.3 L1148.29,953.3 L1148.29,932.65 L1145.85,932.65 L1145.13,934.02 L1143.97,934.97 L1142.37,935.41 L1140.34,935.7 L1140.34,938.45 L1145.33,938.45Z" fill="#000000"/>
<text x="1153.86" y="953.3" font-size="29" fill="#000000" xml:space="preserve">3</text>
<line x1="1208.1" y1="912.1" x2="1208.1" y2="921.4" stroke="#000000" stroke-width="3" stroke-linecap="butt"/>
<path d="M1199.57,953.3 L1202.53,953.3 L1202.53,932.65 L1200.09,932.65 L1199.37,934.02 L1198.21,934.97 L1196.61,935.41 L1194.58,935.7 L1194.58,938.45 L1199.57,938.45Z" fill="#000000"/>
<text x="1208.1" y="953.3" font-size="29" fill="#000000" xml:space="preserve">6</text>
<line x1="1262.34" y1="912.1" x2="1262.34" y2="921.4" stroke="#000000" stroke-width="3" stroke-linecap="butt"/>
<path d="M1253.81,953.3 L1256.77,953.3 L1256.77,932.65 L1254.33,932.65 L1253.61,934.02 L1252.45,934.97 L1250.85,935.41 L1248.82,935.7 L1248.82,938.45 L1253.81,938.45Z" fill="#000000"/>
<text x="1262.34" y="953.3" font-size="29" fill="#000000" xml:space="preserve">9</text>
<line x1="1316.58" y1="912.1" x2="1316.58" y2="921.4" stroke="#000000" stroke-width="3" stroke-linecap="butt"/>
<text x="1300.45" y="953.3" font-size="29" fill="#000000" xml:space="preserve">22</text>
<line x1="1370.82" y1="912.1" x2="1370.82" y2="921.4" stroke="#000000" stroke-width="3" stroke-linecap="butt"/>
<text x="1354.69" y="953.3" font-size="29" fill="#000000" xml:space="preserve">25</text>
<text x="1157.9" y="996.6" font-size="29" fill="#000000" text-anchor="middle" font-weight="normal" >eIPSCs (#)</text>
<text x="0" y="0" font-size="29" text-anchor="middle" transform="translate(816.7,769.3) rotate(-90)">Normalized eIPSC</text>
<text x="0" y="0" font-size="29" text-anchor="middle" transform="translate(853.4,767.8) rotate(-90)">amplitude</text>
<text x="1054.7" y="609" font-size="29" fill="#000000" text-anchor="start" font-weight="normal" >PNI (<tspan font-style="italic" dx="4">V</tspan><tspan font-size="20.5" dy="8">h</tspan><tspan dy="-8"> = 0 mV)</tspan></text>
<text x="791.2" y="596.3" font-size="43" fill="#000000" text-anchor="start" font-weight="bold" >d</text>
<path d="M936.9,678.33 L939.29,679.28 L941.68,680.22 L944.06,681.16 L946.45,682.1 L948.84,683.04 L951.23,683.98 L953.62,684.91 L956,685.83 L958.39,686.76 L960.78,687.68 L963.17,688.59 L965.56,689.5 L967.94,690.4 L970.33,691.3 L972.72,692.19 L975.11,693.07 L977.49,693.95 L979.88,694.82 L982.27,695.68 L984.66,696.53 L987.05,697.37 L989.43,698.21 L991.82,699.03 L994.21,699.85 L996.6,700.65 L998.99,701.44 L1001.37,702.22 L1003.76,702.99 L1006.15,703.75 L1008.54,704.5 L1010.93,705.23 L1013.31,705.95 L1015.7,706.65 L1018.09,707.34 L1020.48,708.02 L1022.87,708.68 L1025.25,709.33 L1027.64,709.96 L1030.03,710.58 L1032.42,711.18 L1034.8,711.78 L1037.19,712.37 L1039.58,712.96 L1041.97,713.54 L1044.36,714.13 L1046.74,714.71 L1049.13,715.28 L1051.52,715.85 L1053.91,716.42 L1056.3,716.99 L1058.68,717.55 L1061.07,718.11 L1063.46,718.66 L1065.85,719.21 L1068.24,719.76 L1070.62,720.3 L1073.01,720.84 L1075.4,721.38 L1077.79,721.91 L1080.18,722.44 L1082.56,722.97 L1084.95,723.49 L1087.34,724.01 L1089.73,724.52 L1092.12,725.03 L1094.5,725.54 L1096.89,726.04 L1099.28,726.54 L1101.67,727.04 L1104.05,727.53 L1106.44,728.02 L1108.83,728.51 L1111.22,728.99 L1113.61,729.47 L1115.99,729.94 L1118.38,730.41 L1120.77,730.88 L1123.16,731.34 L1125.55,731.8 L1127.93,732.25 L1130.32,732.71 L1132.71,733.15 L1135.1,733.6 L1137.49,734.04 L1139.87,734.47 L1142.26,734.91 L1144.65,735.34 L1147.04,735.76 L1149.43,736.18 L1151.81,736.6 L1154.2,737.01 L1156.59,737.42 L1158.98,737.83 L1161.36,738.23 L1163.75,738.63 L1166.14,739.03 L1168.53,739.42 L1170.92,739.8 L1173.3,740.19 L1175.69,740.57 L1178.08,740.94 L1180.47,741.31 L1182.86,741.68 L1185.24,742.04 L1187.63,742.4 L1190.02,742.76 L1192.41,743.11 L1194.8,743.46 L1197.18,743.8 L1199.57,744.14 L1201.96,744.48 L1204.35,744.81 L1206.74,745.14 L1209.12,745.46 L1211.51,745.78 L1213.9,746.1 L1216.29,746.41 L1218.68,746.72 L1221.06,747.02 L1223.45,747.32 L1225.84,747.62 L1228.23,747.91 L1230.61,748.2 L1233,748.49 L1235.39,748.77 L1237.78,749.04 L1240.17,749.32 L1242.55,749.59 L1244.94,749.86 L1247.33,750.12 L1249.72,750.39 L1252.11,750.64 L1254.49,750.9 L1256.88,751.15 L1259.27,751.4 L1261.66,751.64 L1264.05,751.88 L1266.43,752.12 L1268.82,752.35 L1271.21,752.58 L1273.6,752.81 L1275.99,753.03 L1278.37,753.25 L1280.76,753.47 L1283.15,753.68 L1285.54,753.89 L1287.92,754.1 L1290.31,754.3 L1292.7,754.49 L1295.09,754.69 L1297.48,754.88 L1299.86,755.06 L1302.25,755.25 L1304.64,755.42 L1307.03,755.6 L1309.42,755.77 L1311.8,755.93 L1314.19,756.1 L1316.58,756.26" fill="none" stroke="#808080" stroke-width="3" stroke-linejoin="round" stroke-linecap="butt" />
<path d="M936.9,676.41 L939.29,676.91 L941.68,677.4 L944.06,677.89 L946.45,678.39 L948.84,678.88 L951.23,679.37 L953.62,679.86 L956,680.34 L958.39,680.83 L960.78,681.31 L963.17,681.79 L965.56,682.27 L967.94,682.75 L970.33,683.23 L972.72,683.7 L975.11,684.17 L977.49,684.64 L979.88,685.1 L982.27,685.57 L984.66,686.03 L987.05,686.48 L989.43,686.94 L991.82,687.39 L994.21,687.83 L996.6,688.28 L998.99,688.72 L1001.37,689.15 L1003.76,689.59 L1006.15,690.02 L1008.54,690.44 L1010.93,690.86 L1013.31,691.28 L1015.7,691.69 L1018.09,692.1 L1020.48,692.5 L1022.87,692.9 L1025.25,693.29 L1027.64,693.68 L1030.03,694.07 L1032.42,694.45 L1034.8,694.82 L1037.19,695.2 L1039.58,695.58 L1041.97,695.95 L1044.36,696.33 L1046.74,696.7 L1049.13,697.07 L1051.52,697.44 L1053.91,697.81 L1056.3,698.18 L1058.68,698.55 L1061.07,698.92 L1063.46,699.28 L1065.85,699.65 L1068.24,700.01 L1070.62,700.37 L1073.01,700.73 L1075.4,701.09 L1077.79,701.45 L1080.18,701.81 L1082.56,702.16 L1084.95,702.52 L1087.34,702.87 L1089.73,703.22 L1092.12,703.57 L1094.5,703.92 L1096.89,704.27 L1099.28,704.61 L1101.67,704.96 L1104.05,705.3 L1106.44,705.64 L1108.83,705.98 L1111.22,706.31 L1113.61,706.65 L1115.99,706.98 L1118.38,707.32 L1120.77,707.65 L1123.16,707.97 L1125.55,708.3 L1127.93,708.63 L1130.32,708.95 L1132.71,709.27 L1135.1,709.59 L1137.49,709.91 L1139.87,710.22 L1142.26,710.54 L1144.65,710.85 L1147.04,711.16 L1149.43,711.47 L1151.81,711.77 L1154.2,712.08 L1156.59,712.38 L1158.98,712.68 L1161.36,712.98 L1163.75,713.27 L1166.14,713.56 L1168.53,713.85 L1170.92,714.14 L1173.3,714.43 L1175.69,714.71 L1178.08,715 L1180.47,715.27 L1182.86,715.55 L1185.24,715.83 L1187.63,716.1 L1190.02,716.37 L1192.41,716.64 L1194.8,716.9 L1197.18,717.16 L1199.57,717.42 L1201.96,717.68 L1204.35,717.94 L1206.74,718.19 L1209.12,718.44 L1211.51,718.69 L1213.9,718.93 L1216.29,719.17 L1218.68,719.41 L1221.06,719.65 L1223.45,719.88 L1225.84,720.12 L1228.23,720.34 L1230.61,720.57 L1233,720.79 L1235.39,721.01 L1237.78,721.23 L1240.17,721.45 L1242.55,721.66 L1244.94,721.87 L1247.33,722.08 L1249.72,722.29 L1252.11,722.49 L1254.49,722.69 L1256.88,722.89 L1259.27,723.09 L1261.66,723.28 L1264.05,723.48 L1266.43,723.67 L1268.82,723.86 L1271.21,724.04 L1273.6,724.23 L1275.99,724.41 L1278.37,724.59 L1280.76,724.76 L1283.15,724.94 L1285.54,725.11 L1287.92,725.28 L1290.31,725.45 L1292.7,725.62 L1295.09,725.78 L1297.48,725.94 L1299.86,726.1 L1302.25,726.26 L1304.64,726.41 L1307.03,726.57 L1309.42,726.72 L1311.8,726.86 L1314.19,727.01 L1316.58,727.16" fill="none" stroke="#ec1c24" stroke-width="3" stroke-linejoin="round" stroke-linecap="butt" />
<path d="M936.9,681.7 L939.29,682.89 L941.68,684.08 L944.06,685.27 L946.45,686.46 L948.84,687.64 L951.23,688.82 L953.62,689.99 L956,691.16 L958.39,692.33 L960.78,693.49 L963.17,694.64 L965.56,695.79 L967.94,696.93 L970.33,698.06 L972.72,699.18 L975.11,700.29 L977.49,701.4 L979.88,702.49 L982.27,703.58 L984.66,704.65 L987.05,705.72 L989.43,706.77 L991.82,707.8 L994.21,708.83 L996.6,709.84 L998.99,710.84 L1001.37,711.82 L1003.76,712.79 L1006.15,713.74 L1008.54,714.68 L1010.93,715.6 L1013.31,716.5 L1015.7,717.39 L1018.09,718.26 L1020.48,719.11 L1022.87,719.94 L1025.25,720.75 L1027.64,721.54 L1030.03,722.31 L1032.42,723.06 L1034.8,723.8 L1037.19,724.54 L1039.58,725.28 L1041.97,726.01 L1044.36,726.73 L1046.74,727.46 L1049.13,728.17 L1051.52,728.88 L1053.91,729.59 L1056.3,730.29 L1058.68,730.99 L1061.07,731.68 L1063.46,732.36 L1065.85,733.05 L1068.24,733.72 L1070.62,734.4 L1073.01,735.06 L1075.4,735.73 L1077.79,736.38 L1080.18,737.04 L1082.56,737.69 L1084.95,738.33 L1087.34,738.97 L1089.73,739.6 L1092.12,740.23 L1094.5,740.86 L1096.89,741.48 L1099.28,742.09 L1101.67,742.7 L1104.05,743.31 L1106.44,743.91 L1108.83,744.51 L1111.22,745.1 L1113.61,745.69 L1115.99,746.27 L1118.38,746.85 L1120.77,747.43 L1123.16,748 L1125.55,748.56 L1127.93,749.12 L1130.32,749.68 L1132.71,750.23 L1135.1,750.78 L1137.49,751.32 L1139.87,751.86 L1142.26,752.39 L1144.65,752.92 L1147.04,753.44 L1149.43,753.96 L1151.81,754.48 L1154.2,754.99 L1156.59,755.5 L1158.98,756 L1161.36,756.5 L1163.75,756.99 L1166.14,757.48 L1168.53,757.97 L1170.92,758.45 L1173.3,758.92 L1175.69,759.4 L1178.08,759.86 L1180.47,760.33 L1182.86,760.79 L1185.24,761.24 L1187.63,761.69 L1190.02,762.14 L1192.41,762.58 L1194.8,763.02 L1197.18,763.45 L1199.57,763.88 L1201.96,764.31 L1204.35,764.73 L1206.74,765.15 L1209.12,765.56 L1211.51,765.97 L1213.9,766.37 L1216.29,766.77 L1218.68,767.17 L1221.06,767.56 L1223.45,767.95 L1225.84,768.33 L1228.23,768.71 L1230.61,769.09 L1233,769.46 L1235.39,769.83 L1237.78,770.19 L1240.17,770.55 L1242.55,770.91 L1244.94,771.26 L1247.33,771.6 L1249.72,771.95 L1252.11,772.29 L1254.49,772.62 L1256.88,772.95 L1259.27,773.28 L1261.66,773.6 L1264.05,773.92 L1266.43,774.23 L1268.82,774.54 L1271.21,774.84 L1273.6,775.15 L1275.99,775.44 L1278.37,775.73 L1280.76,776.02 L1283.15,776.31 L1285.54,776.59 L1287.92,776.86 L1290.31,777.13 L1292.7,777.4 L1295.09,777.66 L1297.48,777.92 L1299.86,778.17 L1302.25,778.42 L1304.64,778.67 L1307.03,778.91 L1309.42,779.14 L1311.8,779.37 L1314.19,779.6 L1316.58,779.83" fill="none" stroke="#000000" stroke-width="3" stroke-linejoin="round" stroke-linecap="butt" />
<circle cx="936.9" cy="671.6" r="5.9" fill="#808080"/>
<line x1="991.14" y1="680.26" x2="991.14" y2="717.3" stroke="#808080" stroke-width="3.6" stroke-linecap="butt"/>
<line x1="985.14" y1="680.26" x2="997.14" y2="680.26" stroke="#808080" stroke-width="3.6" stroke-linecap="butt"/>
<line x1="985.14" y1="717.3" x2="997.14" y2="717.3" stroke="#808080" stroke-width="3.6" stroke-linecap="butt"/>
<circle cx="991.14" cy="698.78" r="5.9" fill="#808080"/>
<line x1="1045.38" y1="691.56" x2="1045.38" y2="750.24" stroke="#808080" stroke-width="3.6" stroke-linecap="butt"/>
<line x1="1039.38" y1="691.56" x2="1051.38" y2="691.56" stroke="#808080" stroke-width="3.6" stroke-linecap="butt"/>
<line x1="1039.38" y1="750.24" x2="1051.38" y2="750.24" stroke="#808080" stroke-width="3.6" stroke-linecap="butt"/>
<circle cx="1045.38" cy="720.9" r="5.9" fill="#808080"/>
<line x1="1099.62" y1="700.46" x2="1099.62" y2="758.18" stroke="#808080" stroke-width="3.6" stroke-linecap="butt"/>
<line x1="1093.62" y1="700.46" x2="1105.62" y2="700.46" stroke="#808080" stroke-width="3.6" stroke-linecap="butt"/>
<line x1="1093.62" y1="758.18" x2="1105.62" y2="758.18" stroke="#808080" stroke-width="3.6" stroke-linecap="butt"/>
<circle cx="1099.62" cy="729.32" r="5.9" fill="#808080"/>
<line x1="1153.86" y1="699.26" x2="1153.86" y2="765.15" stroke="#808080" stroke-width="3.6" stroke-linecap="butt"/>
<line x1="1147.86" y1="699.26" x2="1159.86" y2="699.26" stroke="#808080" stroke-width="3.6" stroke-linecap="butt"/>
<line x1="1147.86" y1="765.15" x2="1159.86" y2="765.15" stroke="#808080" stroke-width="3.6" stroke-linecap="butt"/>
<circle cx="1153.86" cy="732.21" r="5.9" fill="#808080"/>
<line x1="1208.1" y1="718.02" x2="1208.1" y2="773.81" stroke="#808080" stroke-width="3.6" stroke-linecap="butt"/>
<line x1="1202.1" y1="718.02" x2="1214.1" y2="718.02" stroke="#808080" stroke-width="3.6" stroke-linecap="butt"/>
<line x1="1202.1" y1="773.81" x2="1214.1" y2="773.81" stroke="#808080" stroke-width="3.6" stroke-linecap="butt"/>
<circle cx="1208.1" cy="745.91" r="5.9" fill="#808080"/>
<line x1="1262.34" y1="718.5" x2="1262.34" y2="784.39" stroke="#808080" stroke-width="3.6" stroke-linecap="butt"/>
<line x1="1256.34" y1="718.5" x2="1268.34" y2="718.5" stroke="#808080" stroke-width="3.6" stroke-linecap="butt"/>
<line x1="1256.34" y1="784.39" x2="1268.34" y2="784.39" stroke="#808080" stroke-width="3.6" stroke-linecap="butt"/>
<circle cx="1262.34" cy="751.45" r="5.9" fill="#808080"/>
<line x1="1316.58" y1="721.62" x2="1316.58" y2="789.45" stroke="#808080" stroke-width="3.6" stroke-linecap="butt"/>
<line x1="1310.58" y1="721.62" x2="1322.58" y2="721.62" stroke="#808080" stroke-width="3.6" stroke-linecap="butt"/>
<line x1="1310.58" y1="789.45" x2="1322.58" y2="789.45" stroke="#808080" stroke-width="3.6" stroke-linecap="butt"/>
<circle cx="1316.58" cy="755.53" r="5.9" fill="#808080"/>
<circle cx="936.9" cy="671.6" r="5.9" fill="#ec1c24"/>
<line x1="991.14" y1="709.6" x2="991.14" y2="724.03" stroke="#ec1c24" stroke-width="3.6" stroke-linecap="butt"/>
<line x1="985.14" y1="709.6" x2="997.14" y2="709.6" stroke="#ec1c24" stroke-width="3.6" stroke-linecap="butt"/>
<line x1="985.14" y1="724.03" x2="997.14" y2="724.03" stroke="#ec1c24" stroke-width="3.6" stroke-linecap="butt"/>
<circle cx="991.14" cy="716.81" r="5.9" fill="#ec1c24"/>
<line x1="1045.38" y1="674.25" x2="1045.38" y2="722.35" stroke="#ec1c24" stroke-width="3.6" stroke-linecap="butt"/>
<line x1="1039.38" y1="674.25" x2="1051.38" y2="674.25" stroke="#ec1c24" stroke-width="3.6" stroke-linecap="butt"/>
<line x1="1039.38" y1="722.35" x2="1051.38" y2="722.35" stroke="#ec1c24" stroke-width="3.6" stroke-linecap="butt"/>
<circle cx="1045.38" cy="698.3" r="5.9" fill="#ec1c24"/>
<line x1="1099.62" y1="659.58" x2="1099.62" y2="742.31" stroke="#ec1c24" stroke-width="3.6" stroke-linecap="butt"/>
<line x1="1093.62" y1="659.58" x2="1105.62" y2="659.58" stroke="#ec1c24" stroke-width="3.6" stroke-linecap="butt"/>
<line x1="1093.62" y1="742.31" x2="1105.62" y2="742.31" stroke="#ec1c24" stroke-width="3.6" stroke-linecap="butt"/>
<circle cx="1099.62" cy="700.94" r="5.9" fill="#ec1c24"/>
<line x1="1153.86" y1="640.34" x2="1153.86" y2="753.85" stroke="#ec1c24" stroke-width="3.6" stroke-linecap="butt"/>
<line x1="1147.86" y1="640.34" x2="1159.86" y2="640.34" stroke="#ec1c24" stroke-width="3.6" stroke-linecap="butt"/>
<line x1="1147.86" y1="753.85" x2="1159.86" y2="753.85" stroke="#ec1c24" stroke-width="3.6" stroke-linecap="butt"/>
<circle cx="1153.86" cy="697.09" r="5.9" fill="#ec1c24"/>
<line x1="1208.1" y1="682.9" x2="1208.1" y2="746.88" stroke="#ec1c24" stroke-width="3.6" stroke-linecap="butt"/>
<line x1="1202.1" y1="682.9" x2="1214.1" y2="682.9" stroke="#ec1c24" stroke-width="3.6" stroke-linecap="butt"/>
<line x1="1202.1" y1="746.88" x2="1214.1" y2="746.88" stroke="#ec1c24" stroke-width="3.6" stroke-linecap="butt"/>
<circle cx="1208.1" cy="714.89" r="5.9" fill="#ec1c24"/>
<line x1="1262.34" y1="674.73" x2="1262.34" y2="766.12" stroke="#ec1c24" stroke-width="3.6" stroke-linecap="butt"/>
<line x1="1256.34" y1="674.73" x2="1268.34" y2="674.73" stroke="#ec1c24" stroke-width="3.6" stroke-linecap="butt"/>
<line x1="1256.34" y1="766.12" x2="1268.34" y2="766.12" stroke="#ec1c24" stroke-width="3.6" stroke-linecap="butt"/>
<circle cx="1262.34" cy="720.42" r="5.9" fill="#ec1c24"/>
<line x1="1316.58" y1="710.56" x2="1316.58" y2="766.36" stroke="#ec1c24" stroke-width="3.6" stroke-linecap="butt"/>
<line x1="1310.58" y1="710.56" x2="1322.58" y2="710.56" stroke="#ec1c24" stroke-width="3.6" stroke-linecap="butt"/>
<line x1="1310.58" y1="766.36" x2="1322.58" y2="766.36" stroke="#ec1c24" stroke-width="3.6" stroke-linecap="butt"/>
<circle cx="1316.58" cy="738.46" r="5.9" fill="#ec1c24"/>
<circle cx="936.9" cy="671.6" r="5.9" fill="#000000"/>
<line x1="991.14" y1="701.42" x2="991.14" y2="730.28" stroke="#000000" stroke-width="3.6" stroke-linecap="butt"/>
<line x1="985.14" y1="701.42" x2="997.14" y2="701.42" stroke="#000000" stroke-width="3.6" stroke-linecap="butt"/>
<line x1="985.14" y1="730.28" x2="997.14" y2="730.28" stroke="#000000" stroke-width="3.6" stroke-linecap="butt"/>
<circle cx="991.14" cy="715.85" r="5.9" fill="#000000"/>
<line x1="1045.38" y1="714.17" x2="1045.38" y2="748.8" stroke="#000000" stroke-width="3.6" stroke-linecap="butt"/>
<line x1="1039.38" y1="714.17" x2="1051.38" y2="714.17" stroke="#000000" stroke-width="3.6" stroke-linecap="butt"/>
<line x1="1039.38" y1="748.8" x2="1051.38" y2="748.8" stroke="#000000" stroke-width="3.6" stroke-linecap="butt"/>
<circle cx="1045.38" cy="731.48" r="5.9" fill="#000000"/>
<line x1="1099.62" y1="702.14" x2="1099.62" y2="775.74" stroke="#000000" stroke-width="3.6" stroke-linecap="butt"/>
<line x1="1093.62" y1="702.14" x2="1105.62" y2="702.14" stroke="#000000" stroke-width="3.6" stroke-linecap="butt"/>
<line x1="1093.62" y1="775.74" x2="1105.62" y2="775.74" stroke="#000000" stroke-width="3.6" stroke-linecap="butt"/>
<circle cx="1099.62" cy="738.94" r="5.9" fill="#000000"/>
<line x1="1153.86" y1="730.28" x2="1153.86" y2="775.98" stroke="#000000" stroke-width="3.6" stroke-linecap="butt"/>
<line x1="1147.86" y1="730.28" x2="1159.86" y2="730.28" stroke="#000000" stroke-width="3.6" stroke-linecap="butt"/>
<line x1="1147.86" y1="775.98" x2="1159.86" y2="775.98" stroke="#000000" stroke-width="3.6" stroke-linecap="butt"/>
<circle cx="1153.86" cy="753.13" r="5.9" fill="#000000"/>
<line x1="1208.1" y1="734.85" x2="1208.1" y2="792.57" stroke="#000000" stroke-width="3.6" stroke-linecap="butt"/>
<line x1="1202.1" y1="734.85" x2="1214.1" y2="734.85" stroke="#000000" stroke-width="3.6" stroke-linecap="butt"/>
<line x1="1202.1" y1="792.57" x2="1214.1" y2="792.57" stroke="#000000" stroke-width="3.6" stroke-linecap="butt"/>
<circle cx="1208.1" cy="763.71" r="5.9" fill="#000000"/>
<line x1="1262.34" y1="767.8" x2="1262.34" y2="801.47" stroke="#000000" stroke-width="3.6" stroke-linecap="butt"/>
<line x1="1256.34" y1="767.8" x2="1268.34" y2="767.8" stroke="#000000" stroke-width="3.6" stroke-linecap="butt"/>
<line x1="1256.34" y1="801.47" x2="1268.34" y2="801.47" stroke="#000000" stroke-width="3.6" stroke-linecap="butt"/>
<circle cx="1262.34" cy="784.63" r="5.9" fill="#000000"/>
<line x1="1316.58" y1="751.45" x2="1316.58" y2="797.14" stroke="#000000" stroke-width="3.6" stroke-linecap="butt"/>
<line x1="1310.58" y1="751.45" x2="1322.58" y2="751.45" stroke="#000000" stroke-width="3.6" stroke-linecap="butt"/>
<line x1="1310.58" y1="797.14" x2="1322.58" y2="797.14" stroke="#000000" stroke-width="3.6" stroke-linecap="butt"/>
<circle cx="1316.58" cy="774.29" r="5.9" fill="#000000"/>
<line x1="956.4" y1="806" x2="987.4" y2="806" stroke="#808080" stroke-width="3" stroke-linecap="butt"/>
<circle cx="971.9" cy="806" r="5.9" fill="#808080"/>
<text x="996.5" y="814.6" font-size="25" fill="#000000" xml:space="preserve">ACSF</text>
<line x1="956.4" y1="845.4" x2="987.4" y2="845.4" stroke="#000000" stroke-width="3" stroke-linecap="butt"/>
<circle cx="971.9" cy="845.4" r="5.9" fill="#000000"/>
<text x="996.5" y="854" font-size="25" fill="#000000" xml:space="preserve">L838,4</text>
<path d="M1079.52,854 L1082.07,854 L1082.07,836.2 L1079.97,836.2 L1079.34,837.38 L1078.34,838.2 L1076.97,838.58 L1075.22,838.83 L1075.22,841.2 L1079.52,841.2Z" fill="#000000"/>
<text x="1086.87" y="854" font-size="25" fill="#000000" xml:space="preserve">7 (2 </text>
<path d="M1139.52,841.2 L1139.52,858.75 M1139.52,849.75 C1139.52,854.75 1147.4,854.75 1147.4,849.75 M1147.4,841.2 L1147.4,852.5 Q1147.65,854.5 1150.9,852.25" fill="none" stroke="#000000" stroke-width="2.05"/>
<ellipse cx="1139.52" cy="858.12" rx="1.38" ry="1.25" fill="#000000"/>
<text x="1151.3" y="854" font-size="25" fill="#000000" xml:space="preserve">M)</text>
<line x1="956.4" y1="884.3" x2="987.4" y2="884.3" stroke="#ec1c24" stroke-width="3" stroke-linecap="butt"/>
<circle cx="971.9" cy="884.3" r="5.9" fill="#ec1c24"/>
<text x="996.5" y="892.9" font-size="25" fill="#000000" xml:space="preserve">L838,4</text>
<path d="M1079.52,892.9 L1082.07,892.9 L1082.07,875.1 L1079.97,875.1 L1079.34,876.27 L1078.34,877.1 L1076.97,877.48 L1075.22,877.73 L1075.22,880.1 L1079.52,880.1Z" fill="#000000"/>
<text x="1086.87" y="892.9" font-size="25" fill="#000000" xml:space="preserve">7 (2 </text>
<path d="M1139.52,880.1 L1139.52,897.65 M1139.52,888.65 C1139.52,893.65 1147.4,893.65 1147.4,888.65 M1147.4,880.1 L1147.4,891.4 Q1147.65,893.4 1150.9,891.15" fill="none" stroke="#000000" stroke-width="2.05"/>
<ellipse cx="1139.52" cy="897.02" rx="1.38" ry="1.25" fill="#000000"/>
<text x="1151.3" y="892.9" font-size="25" fill="#000000" xml:space="preserve">M) + CLP257 (</text>
<path d="M1321.11,892.9 L1323.66,892.9 L1323.66,875.1 L1321.56,875.1 L1320.94,876.27 L1319.94,877.1 L1318.56,877.48 L1316.81,877.73 L1316.81,880.1 L1321.11,880.1Z" fill="#000000"/>
<text x="1328.47" y="892.9" font-size="25" fill="#000000" xml:space="preserve">00 </text>
<path d="M1365.85,880.1 L1365.85,897.65 M1365.85,888.65 C1365.85,893.65 1373.72,893.65 1373.72,888.65 M1373.72,880.1 L1373.72,891.4 Q1373.97,893.4 1377.22,891.15" fill="none" stroke="#000000" stroke-width="2.05"/>
<ellipse cx="1365.85" cy="897.02" rx="1.38" ry="1.25" fill="#000000"/>
<text x="1377.62" y="892.9" font-size="25" fill="#000000" xml:space="preserve">M)</text>
<path d="M1332.3,729.3 L1353.8,729.3 L1353.8,782.4 L1332.3,782.4" fill="none" stroke="#000000" stroke-width="3" stroke-linejoin="round" stroke-linecap="butt" stroke-linejoin="miter"/>
<path d="M1371.6,757.05 L1371.6,748.65 M1371.6,757.05 L1379.59,754.45 M1371.6,757.05 L1376.54,763.85 M1371.6,757.05 L1366.66,763.85 M1371.6,757.05 L1363.61,754.45 " stroke="#000000" stroke-width="3" fill="none"/>
<line x1="168.1" y1="1100.1" x2="168.1" y2="1391.7" stroke="#000000" stroke-width="3" stroke-linecap="butt"/>
<line x1="158.8" y1="1390.2" x2="603.04" y2="1390.2" stroke="#000000" stroke-width="3" stroke-linecap="butt"/>
<line x1="158.8" y1="1390.2" x2="168.1" y2="1390.2" stroke="#000000" stroke-width="3" stroke-linecap="butt"/>
<text x="108.29" y="1398.5" font-size="29" fill="#000000" xml:space="preserve">0.0</text>
<line x1="158.8" y1="1342.1" x2="168.1" y2="1342.1" stroke="#000000" stroke-width="3" stroke-linecap="butt"/>
<text x="108.29" y="1350.4" font-size="29" fill="#000000" xml:space="preserve">0.2</text>
<line x1="158.8" y1="1294" x2="168.1" y2="1294" stroke="#000000" stroke-width="3" stroke-linecap="butt"/>
<text x="108.29" y="1302.3" font-size="29" fill="#000000" xml:space="preserve">0.4</text>
<line x1="158.8" y1="1245.9" x2="168.1" y2="1245.9" stroke="#000000" stroke-width="3" stroke-linecap="butt"/>
<text x="108.29" y="1254.2" font-size="29" fill="#000000" xml:space="preserve">0.6</text>
<line x1="158.8" y1="1197.8" x2="168.1" y2="1197.8" stroke="#000000" stroke-width="3" stroke-linecap="butt"/>
<text x="108.29" y="1206.1" font-size="29" fill="#000000" xml:space="preserve">0.8</text>
<line x1="158.8" y1="1149.7" x2="168.1" y2="1149.7" stroke="#000000" stroke-width="3" stroke-linecap="butt"/>
<path d="M115.88,1158 L118.84,1158 L118.84,1137.35 L116.41,1137.35 L115.68,1138.71 L114.52,1139.67 L112.93,1140.11 L110.9,1140.4 L110.9,1143.15 L115.88,1143.15Z" fill="#000000"/>
<text x="124.41" y="1158" font-size="29" fill="#000000" xml:space="preserve">.0</text>
<line x1="158.8" y1="1101.6" x2="168.1" y2="1101.6" stroke="#000000" stroke-width="3" stroke-linecap="butt"/>
<path d="M115.88,1109.9 L118.84,1109.9 L118.84,1089.25 L116.41,1089.25 L115.68,1090.61 L114.52,1091.57 L112.93,1092.01 L110.9,1092.3 L110.9,1095.05 L115.88,1095.05Z" fill="#000000"/>
<text x="124.41" y="1109.9" font-size="29" fill="#000000" xml:space="preserve">.2</text>
<line x1="168.1" y1="1390.2" x2="168.1" y2="1399.5" stroke="#000000" stroke-width="3" stroke-linecap="butt"/>
<path d="M167.63,1431.4 L170.59,1431.4 L170.59,1410.75 L168.16,1410.75 L167.43,1412.12 L166.27,1413.07 L164.68,1413.51 L162.65,1413.8 L162.65,1416.55 L167.63,1416.55Z" fill="#000000"/>
<line x1="222.28" y1="1390.2" x2="222.28" y2="1399.5" stroke="#000000" stroke-width="3" stroke-linecap="butt"/>
<text x="214.22" y="1431.4" font-size="29" fill="#000000" xml:space="preserve">4</text>
<line x1="276.46" y1="1390.2" x2="276.46" y2="1399.5" stroke="#000000" stroke-width="3" stroke-linecap="butt"/>
<text x="268.4" y="1431.4" font-size="29" fill="#000000" xml:space="preserve">7</text>
<line x1="330.64" y1="1390.2" x2="330.64" y2="1399.5" stroke="#000000" stroke-width="3" stroke-linecap="butt"/>
<path d="M322.11,1431.4 L325.07,1431.4 L325.07,1410.75 L322.63,1410.75 L321.91,1412.12 L320.75,1413.07 L319.15,1413.51 L317.12,1413.8 L317.12,1416.55 L322.11,1416.55Z" fill="#000000"/>
<text x="330.64" y="1431.4" font-size="29" fill="#000000" xml:space="preserve">0</text>
<line x1="384.82" y1="1390.2" x2="384.82" y2="1399.5" stroke="#000000" stroke-width="3" stroke-linecap="butt"/>
<path d="M376.29,1431.4 L379.25,1431.4 L379.25,1410.75 L376.81,1410.75 L376.09,1412.12 L374.93,1413.07 L373.33,1413.51 L371.3,1413.8 L371.3,1416.55 L376.29,1416.55Z" fill="#000000"/>
<text x="384.82" y="1431.4" font-size="29" fill="#000000" xml:space="preserve">3</text>
<line x1="439" y1="1390.2" x2="439" y2="1399.5" stroke="#000000" stroke-width="3" stroke-linecap="butt"/>
<path d="M430.47,1431.4 L433.43,1431.4 L433.43,1410.75 L430.99,1410.75 L430.27,1412.12 L429.11,1413.07 L427.51,1413.51 L425.48,1413.8 L425.48,1416.55 L430.47,1416.55Z" fill="#000000"/>
<text x="439" y="1431.4" font-size="29" fill="#000000" xml:space="preserve">6</text>
<line x1="493.18" y1="1390.2" x2="493.18" y2="1399.5" stroke="#000000" stroke-width="3" stroke-linecap="butt"/>
<path d="M484.65,1431.4 L487.61,1431.4 L487.61,1410.75 L485.17,1410.75 L484.45,1412.12 L483.29,1413.07 L481.69,1413.51 L479.66,1413.8 L479.66,1416.55 L484.65,1416.55Z" fill="#000000"/>
<text x="493.18" y="1431.4" font-size="29" fill="#000000" xml:space="preserve">9</text>
<line x1="547.36" y1="1390.2" x2="547.36" y2="1399.5" stroke="#000000" stroke-width="3" stroke-linecap="butt"/>
<text x="531.23" y="1431.4" font-size="29" fill="#000000" xml:space="preserve">22</text>
<line x1="601.54" y1="1390.2" x2="601.54" y2="1399.5" stroke="#000000" stroke-width="3" stroke-linecap="butt"/>
<text x="585.41" y="1431.4" font-size="29" fill="#000000" xml:space="preserve">25</text>
<text x="386.6" y="1474.7" font-size="29" fill="#000000" text-anchor="middle" font-weight="normal" >eIPSCs (#)</text>
<text x="0" y="0" font-size="29" text-anchor="middle" transform="translate(49.4,1245.9) rotate(-90)">Normalized eIPSC</text>
<text x="0" y="0" font-size="29" text-anchor="middle" transform="translate(84.6,1245.9) rotate(-90)">amplitude</text>
<text x="262" y="1088.1" font-size="29" fill="#000000" text-anchor="start" font-weight="normal" >PNI (<tspan font-style="italic" dx="4">V</tspan><tspan font-size="20.5" dy="8">h</tspan><tspan dy="-8"> = –90 mV)</tspan></text>
<text x="-1.5" y="1072.3" font-size="43" fill="#000000" text-anchor="start" font-weight="bold" >e</text>
<path d="M168.1,1149.7 L170.49,1151.19 L172.87,1152.6 L175.26,1153.94 L177.64,1155.2 L180.03,1156.39 L182.41,1157.52 L184.8,1158.59 L187.18,1159.6 L189.57,1160.55 L191.95,1161.45 L194.34,1162.3 L196.72,1163.11 L199.11,1163.87 L201.49,1164.59 L203.88,1165.27 L206.26,1165.92 L208.65,1166.53 L211.04,1167.1 L213.42,1167.65 L215.81,1168.16 L218.19,1168.65 L220.58,1169.11 L222.96,1169.55 L225.35,1169.96 L227.73,1170.35 L230.12,1170.72 L232.5,1171.07 L234.89,1171.4 L237.27,1171.71 L239.66,1172 L242.04,1172.28 L244.43,1172.54 L246.81,1172.79 L249.2,1173.03 L251.58,1173.25 L253.97,1173.46 L256.36,1173.66 L258.74,1173.85 L261.13,1174.03 L263.51,1174.19 L265.9,1174.35 L268.28,1174.5 L270.67,1174.65 L273.05,1174.78 L275.44,1174.91 L277.82,1175.03 L280.21,1175.14 L282.59,1175.25 L284.98,1175.35 L287.36,1175.45 L289.75,1175.54 L292.13,1175.62 L294.52,1175.7 L296.91,1175.78 L299.29,1175.85 L301.68,1175.92 L304.06,1175.99 L306.45,1176.05 L308.83,1176.11 L311.22,1176.16 L313.6,1176.21 L315.99,1176.26 L318.37,1176.31 L320.76,1176.35 L323.14,1176.4 L325.53,1176.43 L327.91,1176.47 L330.3,1176.51 L332.68,1176.54 L335.07,1176.57 L337.46,1176.6 L339.84,1176.63 L342.23,1176.66 L344.61,1176.68 L347,1176.7 L349.38,1176.73 L351.77,1176.75 L354.15,1176.77 L356.54,1176.79 L358.92,1176.81 L361.31,1176.82 L363.69,1176.84 L366.08,1176.85 L368.46,1176.87 L370.85,1176.88 L373.23,1176.89 L375.62,1176.91 L378,1176.92 L380.39,1176.93 L382.78,1176.94 L385.16,1176.95 L387.55,1176.96 L389.93,1176.97 L392.32,1176.97 L394.7,1176.98 L397.09,1176.99 L399.47,1177 L401.86,1177 L404.24,1177.01 L406.63,1177.02 L409.01,1177.02 L411.4,1177.03 L413.78,1177.03 L416.17,1177.04 L418.55,1177.04 L420.94,1177.04 L423.33,1177.05 L425.71,1177.05 L428.1,1177.06 L430.48,1177.06 L432.87,1177.06 L435.25,1177.07 L437.64,1177.07 L440.02,1177.07 L442.41,1177.07 L444.79,1177.08 L447.18,1177.08 L449.56,1177.08 L451.95,1177.08 L454.33,1177.08 L456.72,1177.09 L459.1,1177.09 L461.49,1177.09 L463.88,1177.09 L466.26,1177.09 L468.65,1177.09 L471.03,1177.09 L473.42,1177.1 L475.8,1177.1 L478.19,1177.1 L480.57,1177.1 L482.96,1177.1 L485.34,1177.1 L487.73,1177.1 L490.11,1177.1 L492.5,1177.1 L494.88,1177.1 L497.27,1177.1 L499.65,1177.11 L502.04,1177.11 L504.42,1177.11 L506.81,1177.11 L509.2,1177.11 L511.58,1177.11 L513.97,1177.11 L516.35,1177.11 L518.74,1177.11 L521.12,1177.11 L523.51,1177.11 L525.89,1177.11 L528.28,1177.11 L530.66,1177.11 L533.05,1177.11 L535.43,1177.11 L537.82,1177.11 L540.2,1177.11 L542.59,1177.11 L544.97,1177.11 L547.36,1177.11" fill="none" stroke="#000000" stroke-width="3" stroke-linejoin="round" stroke-linecap="butt" />
<path d="M168.1,1149.7 L170.49,1151.1 L172.87,1152.44 L175.26,1153.73 L177.64,1154.96 L180.03,1156.15 L182.41,1157.29 L184.8,1158.38 L187.18,1159.42 L189.57,1160.43 L191.95,1161.39 L194.34,1162.31 L196.72,1163.2 L199.11,1164.05 L201.49,1164.86 L203.88,1165.65 L206.26,1166.4 L208.65,1167.12 L211.04,1167.81 L213.42,1168.47 L215.81,1169.11 L218.19,1169.71 L220.58,1170.3 L222.96,1170.86 L225.35,1171.4 L227.73,1171.92 L230.12,1172.41 L232.5,1172.89 L234.89,1173.34 L237.27,1173.78 L239.66,1174.2 L242.04,1174.6 L244.43,1174.99 L246.81,1175.36 L249.2,1175.71 L251.58,1176.05 L253.97,1176.38 L256.36,1176.69 L258.74,1177 L261.13,1177.28 L263.51,1177.56 L265.9,1177.83 L268.28,1178.08 L270.67,1178.33 L273.05,1178.56 L275.44,1178.79 L277.82,1179 L280.21,1179.21 L282.59,1179.41 L284.98,1179.6 L287.36,1179.78 L289.75,1179.96 L292.13,1180.12 L294.52,1180.29 L296.91,1180.44 L299.29,1180.59 L301.68,1180.73 L304.06,1180.87 L306.45,1181 L308.83,1181.13 L311.22,1181.25 L313.6,1181.36 L315.99,1181.47 L318.37,1181.58 L320.76,1181.68 L323.14,1181.78 L325.53,1181.87 L327.91,1181.96 L330.3,1182.05 L332.68,1182.13 L335.07,1182.21 L337.46,1182.29 L339.84,1182.36 L342.23,1182.43 L344.61,1182.5 L347,1182.57 L349.38,1182.63 L351.77,1182.69 L354.15,1182.74 L356.54,1182.8 L358.92,1182.85 L361.31,1182.9 L363.69,1182.95 L366.08,1183 L368.46,1183.04 L370.85,1183.08 L373.23,1183.12 L375.62,1183.16 L378,1183.2 L380.39,1183.24 L382.78,1183.27 L385.16,1183.31 L387.55,1183.34 L389.93,1183.37 L392.32,1183.4 L394.7,1183.43 L397.09,1183.45 L399.47,1183.48 L401.86,1183.5 L404.24,1183.53 L406.63,1183.55 L409.01,1183.57 L411.4,1183.59 L413.78,1183.61 L416.17,1183.63 L418.55,1183.65 L420.94,1183.67 L423.33,1183.69 L425.71,1183.7 L428.1,1183.72 L430.48,1183.73 L432.87,1183.75 L435.25,1183.76 L437.64,1183.78 L440.02,1183.79 L442.41,1183.8 L444.79,1183.81 L447.18,1183.82 L449.56,1183.84 L451.95,1183.85 L454.33,1183.86 L456.72,1183.87 L459.1,1183.87 L461.49,1183.88 L463.88,1183.89 L466.26,1183.9 L468.65,1183.91 L471.03,1183.92 L473.42,1183.92 L475.8,1183.93 L478.19,1183.94 L480.57,1183.94 L482.96,1183.95 L485.34,1183.95 L487.73,1183.96 L490.11,1183.97 L492.5,1183.97 L494.88,1183.98 L497.27,1183.98 L499.65,1183.98 L502.04,1183.99 L504.42,1183.99 L506.81,1184 L509.2,1184 L511.58,1184 L513.97,1184.01 L516.35,1184.01 L518.74,1184.01 L521.12,1184.02 L523.51,1184.02 L525.89,1184.02 L528.28,1184.03 L530.66,1184.03 L533.05,1184.03 L535.43,1184.03 L537.82,1184.04 L540.2,1184.04 L542.59,1184.04 L544.97,1184.04 L547.36,1184.04" fill="none" stroke="#ec1c24" stroke-width="3" stroke-linejoin="round" stroke-linecap="butt" />
<rect x="162.5" y="1144.1" width="11.2" height="11.2" fill="#ec1c24"/>
<line x1="222.28" y1="1157.64" x2="222.28" y2="1183.61" stroke="#ec1c24" stroke-width="3.6" stroke-linecap="butt"/>
<line x1="216.28" y1="1157.64" x2="228.28" y2="1157.64" stroke="#ec1c24" stroke-width="3.6" stroke-linecap="butt"/>
<line x1="216.28" y1="1183.61" x2="228.28" y2="1183.61" stroke="#ec1c24" stroke-width="3.6" stroke-linecap="butt"/>
<rect x="216.68" y="1165.02" width="11.2" height="11.2" fill="#ec1c24"/>
<line x1="276.46" y1="1159.32" x2="276.46" y2="1195.88" stroke="#ec1c24" stroke-width="3.6" stroke-linecap="butt"/>
<line x1="270.46" y1="1159.32" x2="282.46" y2="1159.32" stroke="#ec1c24" stroke-width="3.6" stroke-linecap="butt"/>
<line x1="270.46" y1="1195.88" x2="282.46" y2="1195.88" stroke="#ec1c24" stroke-width="3.6" stroke-linecap="butt"/>
<rect x="270.86" y="1172" width="11.2" height="11.2" fill="#ec1c24"/>
<line x1="330.64" y1="1161.24" x2="330.64" y2="1205.5" stroke="#ec1c24" stroke-width="3.6" stroke-linecap="butt"/>
<line x1="324.64" y1="1161.24" x2="336.64" y2="1161.24" stroke="#ec1c24" stroke-width="3.6" stroke-linecap="butt"/>
<line x1="324.64" y1="1205.5" x2="336.64" y2="1205.5" stroke="#ec1c24" stroke-width="3.6" stroke-linecap="butt"/>
<rect x="325.04" y="1177.77" width="11.2" height="11.2" fill="#ec1c24"/>
<line x1="384.82" y1="1159.32" x2="384.82" y2="1207.42" stroke="#ec1c24" stroke-width="3.6" stroke-linecap="butt"/>
<line x1="378.82" y1="1159.32" x2="390.82" y2="1159.32" stroke="#ec1c24" stroke-width="3.6" stroke-linecap="butt"/>
<line x1="378.82" y1="1207.42" x2="390.82" y2="1207.42" stroke="#ec1c24" stroke-width="3.6" stroke-linecap="butt"/>
<rect x="379.22" y="1177.77" width="11.2" height="11.2" fill="#ec1c24"/>
<line x1="439" y1="1158.84" x2="439" y2="1209.34" stroke="#ec1c24" stroke-width="3.6" stroke-linecap="butt"/>
<line x1="433" y1="1158.84" x2="445" y2="1158.84" stroke="#ec1c24" stroke-width="3.6" stroke-linecap="butt"/>
<line x1="433" y1="1209.34" x2="445" y2="1209.34" stroke="#ec1c24" stroke-width="3.6" stroke-linecap="butt"/>
<rect x="433.4" y="1178.49" width="11.2" height="11.2" fill="#ec1c24"/>
<line x1="493.18" y1="1160.52" x2="493.18" y2="1211.99" stroke="#ec1c24" stroke-width="3.6" stroke-linecap="butt"/>
<line x1="487.18" y1="1160.52" x2="499.18" y2="1160.52" stroke="#ec1c24" stroke-width="3.6" stroke-linecap="butt"/>
<line x1="487.18" y1="1211.99" x2="499.18" y2="1211.99" stroke="#ec1c24" stroke-width="3.6" stroke-linecap="butt"/>
<rect x="487.58" y="1180.66" width="11.2" height="11.2" fill="#ec1c24"/>
<line x1="547.36" y1="1158.6" x2="547.36" y2="1211.99" stroke="#ec1c24" stroke-width="3.6" stroke-linecap="butt"/>
<line x1="541.36" y1="1158.6" x2="553.36" y2="1158.6" stroke="#ec1c24" stroke-width="3.6" stroke-linecap="butt"/>
<line x1="541.36" y1="1211.99" x2="553.36" y2="1211.99" stroke="#ec1c24" stroke-width="3.6" stroke-linecap="butt"/>
<rect x="541.76" y="1179.69" width="11.2" height="11.2" fill="#ec1c24"/>
<circle cx="168.1" cy="1149.7" r="5.9" fill="#000000"/>
<line x1="222.28" y1="1160.76" x2="222.28" y2="1191.55" stroke="#000000" stroke-width="3.6" stroke-linecap="butt"/>
<line x1="216.28" y1="1160.76" x2="228.28" y2="1160.76" stroke="#000000" stroke-width="3.6" stroke-linecap="butt"/>
<line x1="216.28" y1="1191.55" x2="228.28" y2="1191.55" stroke="#000000" stroke-width="3.6" stroke-linecap="butt"/>
<circle cx="222.28" cy="1176.15" r="5.9" fill="#000000"/>
<line x1="276.46" y1="1149.7" x2="276.46" y2="1202.61" stroke="#000000" stroke-width="3.6" stroke-linecap="butt"/>
<line x1="270.46" y1="1149.7" x2="282.46" y2="1149.7" stroke="#000000" stroke-width="3.6" stroke-linecap="butt"/>
<line x1="270.46" y1="1202.61" x2="282.46" y2="1202.61" stroke="#000000" stroke-width="3.6" stroke-linecap="butt"/>
<circle cx="276.46" cy="1176.15" r="5.9" fill="#000000"/>
<line x1="330.64" y1="1137.43" x2="330.64" y2="1210.07" stroke="#000000" stroke-width="3.6" stroke-linecap="butt"/>
<line x1="324.64" y1="1137.43" x2="336.64" y2="1137.43" stroke="#000000" stroke-width="3.6" stroke-linecap="butt"/>
<line x1="324.64" y1="1210.07" x2="336.64" y2="1210.07" stroke="#000000" stroke-width="3.6" stroke-linecap="butt"/>
<circle cx="330.64" cy="1173.75" r="5.9" fill="#000000"/>
<line x1="384.82" y1="1140.56" x2="384.82" y2="1209.34" stroke="#000000" stroke-width="3.6" stroke-linecap="butt"/>
<line x1="378.82" y1="1140.56" x2="390.82" y2="1140.56" stroke="#000000" stroke-width="3.6" stroke-linecap="butt"/>
<line x1="378.82" y1="1209.34" x2="390.82" y2="1209.34" stroke="#000000" stroke-width="3.6" stroke-linecap="butt"/>
<circle cx="384.82" cy="1174.95" r="5.9" fill="#000000"/>
<line x1="439" y1="1137.92" x2="439" y2="1211.99" stroke="#000000" stroke-width="3.6" stroke-linecap="butt"/>
<line x1="433" y1="1137.92" x2="445" y2="1137.92" stroke="#000000" stroke-width="3.6" stroke-linecap="butt"/>
<line x1="433" y1="1211.99" x2="445" y2="1211.99" stroke="#000000" stroke-width="3.6" stroke-linecap="butt"/>
<circle cx="439" cy="1174.95" r="5.9" fill="#000000"/>
<line x1="493.18" y1="1135.75" x2="493.18" y2="1207.42" stroke="#000000" stroke-width="3.6" stroke-linecap="butt"/>
<line x1="487.18" y1="1135.75" x2="499.18" y2="1135.75" stroke="#000000" stroke-width="3.6" stroke-linecap="butt"/>
<line x1="487.18" y1="1207.42" x2="499.18" y2="1207.42" stroke="#000000" stroke-width="3.6" stroke-linecap="butt"/>
<circle cx="493.18" cy="1171.59" r="5.9" fill="#000000"/>
<line x1="547.36" y1="1137.19" x2="547.36" y2="1215.12" stroke="#000000" stroke-width="3.6" stroke-linecap="butt"/>
<line x1="541.36" y1="1137.19" x2="553.36" y2="1137.19" stroke="#000000" stroke-width="3.6" stroke-linecap="butt"/>
<line x1="541.36" y1="1215.12" x2="553.36" y2="1215.12" stroke="#000000" stroke-width="3.6" stroke-linecap="butt"/>
<circle cx="547.36" cy="1176.15" r="5.9" fill="#000000"/>
<line x1="186.6" y1="1321.7" x2="217.6" y2="1321.7" stroke="#000000" stroke-width="3" stroke-linecap="butt"/>
<circle cx="202.1" cy="1321.7" r="5.9" fill="#000000"/>
<text x="226.7" y="1330.3" font-size="25" fill="#000000" xml:space="preserve">L838,4</text>
<path d="M309.72,1330.3 L312.27,1330.3 L312.27,1312.5 L310.17,1312.5 L309.54,1313.67 L308.54,1314.5 L307.17,1314.88 L305.42,1315.12 L305.42,1317.5 L309.72,1317.5Z" fill="#000000"/>
<text x="317.07" y="1330.3" font-size="25" fill="#000000" xml:space="preserve">7 (2 </text>
<path d="M369.72,1317.5 L369.72,1335.05 M369.72,1326.05 C369.72,1331.05 377.6,1331.05 377.6,1326.05 M377.6,1317.5 L377.6,1328.8 Q377.85,1330.8 381.1,1328.55" fill="none" stroke="#000000" stroke-width="2.05"/>
<ellipse cx="369.72" cy="1334.42" rx="1.38" ry="1.25" fill="#000000"/>
<text x="381.5" y="1330.3" font-size="25" fill="#000000" xml:space="preserve">M)</text>
<line x1="186.6" y1="1360.6" x2="217.6" y2="1360.6" stroke="#ec1c24" stroke-width="3" stroke-linecap="butt"/>
<rect x="196.5" y="1355" width="11.2" height="11.2" fill="#ec1c24"/>
<text x="226.7" y="1369.2" font-size="25" fill="#000000" xml:space="preserve">L838,4</text>
<path d="M309.72,1369.2 L312.27,1369.2 L312.27,1351.4 L310.17,1351.4 L309.54,1352.57 L308.54,1353.4 L307.17,1353.77 L305.42,1354.02 L305.42,1356.4 L309.72,1356.4Z" fill="#000000"/>
<text x="317.07" y="1369.2" font-size="25" fill="#000000" xml:space="preserve">7 (2 </text>
<path d="M369.72,1356.4 L369.72,1373.95 M369.72,1364.95 C369.72,1369.95 377.6,1369.95 377.6,1364.95 M377.6,1356.4 L377.6,1367.7 Q377.85,1369.7 381.1,1367.45" fill="none" stroke="#000000" stroke-width="2.05"/>
<ellipse cx="369.72" cy="1373.32" rx="1.38" ry="1.25" fill="#000000"/>
<text x="381.5" y="1369.2" font-size="25" fill="#000000" xml:space="preserve">M) + CLP257 (5 </text>
<path d="M568.24,1356.4 L568.24,1373.95 M568.24,1364.95 C568.24,1369.95 576.11,1369.95 576.11,1364.95 M576.11,1356.4 L576.11,1367.7 Q576.36,1369.7 579.61,1367.45" fill="none" stroke="#000000" stroke-width="2.05"/>
<ellipse cx="568.24" cy="1373.32" rx="1.38" ry="1.25" fill="#000000"/>
<text x="580.02" y="1369.2" font-size="25" fill="#000000" xml:space="preserve">M)</text>
<line x1="937.9" y1="1100.3" x2="937.9" y2="1391.9" stroke="#000000" stroke-width="3" stroke-linecap="butt"/>
<line x1="928.6" y1="1390.4" x2="1373.32" y2="1390.4" stroke="#000000" stroke-width="3" stroke-linecap="butt"/>
<line x1="928.6" y1="1390.4" x2="937.9" y2="1390.4" stroke="#000000" stroke-width="3" stroke-linecap="butt"/>
<text x="878.09" y="1398.7" font-size="29" fill="#000000" xml:space="preserve">0.0</text>
<line x1="928.6" y1="1342.3" x2="937.9" y2="1342.3" stroke="#000000" stroke-width="3" stroke-linecap="butt"/>
<text x="878.09" y="1350.6" font-size="29" fill="#000000" xml:space="preserve">0.2</text>
<line x1="928.6" y1="1294.2" x2="937.9" y2="1294.2" stroke="#000000" stroke-width="3" stroke-linecap="butt"/>
<text x="878.09" y="1302.5" font-size="29" fill="#000000" xml:space="preserve">0.4</text>
<line x1="928.6" y1="1246.1" x2="937.9" y2="1246.1" stroke="#000000" stroke-width="3" stroke-linecap="butt"/>
<text x="878.09" y="1254.4" font-size="29" fill="#000000" xml:space="preserve">0.6</text>
<line x1="928.6" y1="1198" x2="937.9" y2="1198" stroke="#000000" stroke-width="3" stroke-linecap="butt"/>
<text x="878.09" y="1206.3" font-size="29" fill="#000000" xml:space="preserve">0.8</text>
<line x1="928.6" y1="1149.9" x2="937.9" y2="1149.9" stroke="#000000" stroke-width="3" stroke-linecap="butt"/>
<path d="M885.68,1158.2 L888.64,1158.2 L888.64,1137.55 L886.21,1137.55 L885.48,1138.91 L884.32,1139.87 L882.73,1140.31 L880.7,1140.6 L880.7,1143.35 L885.68,1143.35Z" fill="#000000"/>
<text x="894.21" y="1158.2" font-size="29" fill="#000000" xml:space="preserve">.0</text>
<line x1="928.6" y1="1101.8" x2="937.9" y2="1101.8" stroke="#000000" stroke-width="3" stroke-linecap="butt"/>
<path d="M885.68,1110.1 L888.64,1110.1 L888.64,1089.45 L886.21,1089.45 L885.48,1090.82 L884.32,1091.77 L882.73,1092.21 L880.7,1092.5 L880.7,1095.25 L885.68,1095.25Z" fill="#000000"/>
<text x="894.21" y="1110.1" font-size="29" fill="#000000" xml:space="preserve">.2</text>
<line x1="937.9" y1="1390.4" x2="937.9" y2="1399.7" stroke="#000000" stroke-width="3" stroke-linecap="butt"/>
<path d="M937.43,1431.6 L940.39,1431.6 L940.39,1410.95 L937.96,1410.95 L937.23,1412.32 L936.07,1413.27 L934.48,1413.71 L932.45,1414 L932.45,1416.75 L937.43,1416.75Z" fill="#000000"/>
<line x1="992.14" y1="1390.4" x2="992.14" y2="1399.7" stroke="#000000" stroke-width="3" stroke-linecap="butt"/>
<text x="984.08" y="1431.6" font-size="29" fill="#000000" xml:space="preserve">4</text>
<line x1="1046.38" y1="1390.4" x2="1046.38" y2="1399.7" stroke="#000000" stroke-width="3" stroke-linecap="butt"/>
<text x="1038.32" y="1431.6" font-size="29" fill="#000000" xml:space="preserve">7</text>
<line x1="1100.62" y1="1390.4" x2="1100.62" y2="1399.7" stroke="#000000" stroke-width="3" stroke-linecap="butt"/>
<path d="M1092.09,1431.6 L1095.05,1431.6 L1095.05,1410.95 L1092.61,1410.95 L1091.89,1412.32 L1090.73,1413.27 L1089.13,1413.71 L1087.1,1414 L1087.1,1416.75 L1092.09,1416.75Z" fill="#000000"/>
<text x="1100.62" y="1431.6" font-size="29" fill="#000000" xml:space="preserve">0</text>
<line x1="1154.86" y1="1390.4" x2="1154.86" y2="1399.7" stroke="#000000" stroke-width="3" stroke-linecap="butt"/>
<path d="M1146.33,1431.6 L1149.29,1431.6 L1149.29,1410.95 L1146.85,1410.95 L1146.13,1412.32 L1144.97,1413.27 L1143.37,1413.71 L1141.34,1414 L1141.34,1416.75 L1146.33,1416.75Z" fill="#000000"/>
<text x="1154.86" y="1431.6" font-size="29" fill="#000000" xml:space="preserve">3</text>
<line x1="1209.1" y1="1390.4" x2="1209.1" y2="1399.7" stroke="#000000" stroke-width="3" stroke-linecap="butt"/>
<path d="M1200.57,1431.6 L1203.53,1431.6 L1203.53,1410.95 L1201.09,1410.95 L1200.37,1412.32 L1199.21,1413.27 L1197.61,1413.71 L1195.58,1414 L1195.58,1416.75 L1200.57,1416.75Z" fill="#000000"/>
<text x="1209.1" y="1431.6" font-size="29" fill="#000000" xml:space="preserve">6</text>
<line x1="1263.34" y1="1390.4" x2="1263.34" y2="1399.7" stroke="#000000" stroke-width="3" stroke-linecap="butt"/>
<path d="M1254.81,1431.6 L1257.77,1431.6 L1257.77,1410.95 L1255.33,1410.95 L1254.61,1412.32 L1253.45,1413.27 L1251.85,1413.71 L1249.82,1414 L1249.82,1416.75 L1254.81,1416.75Z" fill="#000000"/>
<text x="1263.34" y="1431.6" font-size="29" fill="#000000" xml:space="preserve">9</text>
<line x1="1317.58" y1="1390.4" x2="1317.58" y2="1399.7" stroke="#000000" stroke-width="3" stroke-linecap="butt"/>
<text x="1301.45" y="1431.6" font-size="29" fill="#000000" xml:space="preserve">22</text>
<line x1="1371.82" y1="1390.4" x2="1371.82" y2="1399.7" stroke="#000000" stroke-width="3" stroke-linecap="butt"/>
<text x="1355.69" y="1431.6" font-size="29" fill="#000000" xml:space="preserve">25</text>
<text x="1158.7" y="1475.9" font-size="29" fill="#000000" text-anchor="middle" font-weight="normal" >eIPSCs (#)</text>
<text x="0" y="0" font-size="29" text-anchor="middle" transform="translate(817.7,1247.6) rotate(-90)">Normalized eIPSC</text>
<text x="0" y="0" font-size="29" text-anchor="middle" transform="translate(854.4,1246.1) rotate(-90)">amplitude</text>
<text x="1037.8" y="1088.1" font-size="29" fill="#000000" text-anchor="start" font-weight="normal" >PNI (<tspan font-style="italic" dx="4">V</tspan><tspan font-size="20.5" dy="8">h</tspan><tspan dy="-8"> = –90 mV)</tspan></text>
<text x="791.2" y="1072.2" font-size="43" fill="#000000" text-anchor="start" font-weight="bold" >f</text>
<path d="M937.9,1152.06 L940.29,1152.44 L942.68,1152.82 L945.06,1153.19 L947.45,1153.57 L949.84,1153.94 L952.23,1154.32 L954.62,1154.69 L957,1155.07 L959.39,1155.44 L961.78,1155.81 L964.17,1156.19 L966.56,1156.56 L968.94,1156.93 L971.33,1157.3 L973.72,1157.68 L976.11,1158.05 L978.49,1158.42 L980.88,1158.79 L983.27,1159.16 L985.66,1159.53 L988.05,1159.9 L990.43,1160.27 L992.82,1160.64 L995.21,1161.01 L997.6,1161.38 L999.99,1161.75 L1002.37,1162.12 L1004.76,1162.49 L1007.15,1162.85 L1009.54,1163.22 L1011.93,1163.59 L1014.31,1163.96 L1016.7,1164.32 L1019.09,1164.69 L1021.48,1165.05 L1023.87,1165.42 L1026.25,1165.79 L1028.64,1166.15 L1031.03,1166.52 L1033.42,1166.88 L1035.8,1167.24 L1038.19,1167.61 L1040.58,1167.97 L1042.97,1168.33 L1045.36,1168.7 L1047.74,1169.06 L1050.13,1169.42 L1052.52,1169.78 L1054.91,1170.15 L1057.3,1170.51 L1059.68,1170.87 L1062.07,1171.23 L1064.46,1171.59 L1066.85,1171.95 L1069.24,1172.31 L1071.62,1172.67 L1074.01,1173.03 L1076.4,1173.39 L1078.79,1173.75 L1081.18,1174.11 L1083.56,1174.46 L1085.95,1174.82 L1088.34,1175.18 L1090.73,1175.54 L1093.12,1175.89 L1095.5,1176.25 L1097.89,1176.61 L1100.28,1176.96 L1102.67,1177.32 L1105.05,1177.67 L1107.44,1178.03 L1109.83,1178.38 L1112.22,1178.74 L1114.61,1179.09 L1116.99,1179.44 L1119.38,1179.8 L1121.77,1180.15 L1124.16,1180.5 L1126.55,1180.86 L1128.93,1181.21 L1131.32,1181.56 L1133.71,1181.91 L1136.1,1182.26 L1138.49,1182.61 L1140.87,1182.96 L1143.26,1183.32 L1145.65,1183.67 L1148.04,1184.02 L1150.43,1184.36 L1152.81,1184.71 L1155.2,1185.06 L1157.59,1185.41 L1159.98,1185.76 L1162.36,1186.11 L1164.75,1186.46 L1167.14,1186.8 L1169.53,1187.15 L1171.92,1187.5 L1174.3,1187.84 L1176.69,1188.19 L1179.08,1188.54 L1181.47,1188.88 L1183.86,1189.23 L1186.24,1189.57 L1188.63,1189.92 L1191.02,1190.26 L1193.41,1190.61 L1195.8,1190.95 L1198.18,1191.29 L1200.57,1191.64 L1202.96,1191.98 L1205.35,1192.32 L1207.74,1192.67 L1210.12,1193.01 L1212.51,1193.35 L1214.9,1193.69 L1217.29,1194.03 L1219.68,1194.37 L1222.06,1194.72 L1224.45,1195.06 L1226.84,1195.4 L1229.23,1195.74 L1231.61,1196.08 L1234,1196.42 L1236.39,1196.75 L1238.78,1197.09 L1241.17,1197.43 L1243.55,1197.77 L1245.94,1198.11 L1248.33,1198.44 L1250.72,1198.78 L1253.11,1199.12 L1255.49,1199.46 L1257.88,1199.79 L1260.27,1200.13 L1262.66,1200.46 L1265.05,1200.8 L1267.43,1201.13 L1269.82,1201.47 L1272.21,1201.8 L1274.6,1202.14 L1276.99,1202.47 L1279.37,1202.81 L1281.76,1203.14 L1284.15,1203.47 L1286.54,1203.8 L1288.92,1204.14 L1291.31,1204.47 L1293.7,1204.8 L1296.09,1205.13 L1298.48,1205.46 L1300.86,1205.79 L1303.25,1206.12 L1305.64,1206.45 L1308.03,1206.78 L1310.42,1207.11 L1312.8,1207.44 L1315.19,1207.77 L1317.58,1208.1" fill="none" stroke="#808080" stroke-width="3" stroke-linejoin="round" stroke-linecap="butt" />
<path d="M937.9,1154.47 L940.29,1155.1 L942.68,1155.74 L945.06,1156.37 L947.45,1157 L949.84,1157.63 L952.23,1158.26 L954.62,1158.88 L957,1159.51 L959.39,1160.13 L961.78,1160.76 L964.17,1161.38 L966.56,1162 L968.94,1162.62 L971.33,1163.24 L973.72,1163.86 L976.11,1164.48 L978.49,1165.09 L980.88,1165.71 L983.27,1166.32 L985.66,1166.93 L988.05,1167.54 L990.43,1168.15 L992.82,1168.76 L995.21,1169.37 L997.6,1169.97 L999.99,1170.58 L1002.37,1171.18 L1004.76,1171.78 L1007.15,1172.38 L1009.54,1172.98 L1011.93,1173.58 L1014.31,1174.18 L1016.7,1174.77 L1019.09,1175.37 L1021.48,1175.96 L1023.87,1176.55 L1026.25,1177.15 L1028.64,1177.74 L1031.03,1178.32 L1033.42,1178.91 L1035.8,1179.5 L1038.19,1180.08 L1040.58,1180.66 L1042.97,1181.25 L1045.36,1181.83 L1047.74,1182.41 L1050.13,1182.98 L1052.52,1183.56 L1054.91,1184.14 L1057.3,1184.71 L1059.68,1185.28 L1062.07,1185.86 L1064.46,1186.43 L1066.85,1186.99 L1069.24,1187.56 L1071.62,1188.13 L1074.01,1188.69 L1076.4,1189.26 L1078.79,1189.82 L1081.18,1190.38 L1083.56,1190.94 L1085.95,1191.5 L1088.34,1192.05 L1090.73,1192.61 L1093.12,1193.16 L1095.5,1193.72 L1097.89,1194.27 L1100.28,1194.82 L1102.67,1195.37 L1105.05,1195.91 L1107.44,1196.46 L1109.83,1197 L1112.22,1197.55 L1114.61,1198.09 L1116.99,1198.63 L1119.38,1199.17 L1121.77,1199.71 L1124.16,1200.24 L1126.55,1200.78 L1128.93,1201.31 L1131.32,1201.84 L1133.71,1202.37 L1136.1,1202.9 L1138.49,1203.43 L1140.87,1203.96 L1143.26,1204.48 L1145.65,1205.01 L1148.04,1205.53 L1150.43,1206.06 L1152.81,1206.58 L1155.2,1207.1 L1157.59,1207.62 L1159.98,1208.14 L1162.36,1208.66 L1164.75,1209.18 L1167.14,1209.69 L1169.53,1210.21 L1171.92,1210.72 L1174.3,1211.23 L1176.69,1211.74 L1179.08,1212.26 L1181.47,1212.76 L1183.86,1213.27 L1186.24,1213.78 L1188.63,1214.29 L1191.02,1214.79 L1193.41,1215.29 L1195.8,1215.8 L1198.18,1216.3 L1200.57,1216.8 L1202.96,1217.3 L1205.35,1217.8 L1207.74,1218.29 L1210.12,1218.79 L1212.51,1219.28 L1214.9,1219.78 L1217.29,1220.27 L1219.68,1220.76 L1222.06,1221.25 L1224.45,1221.74 L1226.84,1222.23 L1229.23,1222.71 L1231.61,1223.2 L1234,1223.68 L1236.39,1224.17 L1238.78,1224.65 L1241.17,1225.13 L1243.55,1225.61 L1245.94,1226.09 L1248.33,1226.56 L1250.72,1227.04 L1253.11,1227.51 L1255.49,1227.99 L1257.88,1228.46 L1260.27,1228.93 L1262.66,1229.4 L1265.05,1229.87 L1267.43,1230.33 L1269.82,1230.8 L1272.21,1231.26 L1274.6,1231.73 L1276.99,1232.19 L1279.37,1232.65 L1281.76,1233.11 L1284.15,1233.57 L1286.54,1234.02 L1288.92,1234.48 L1291.31,1234.93 L1293.7,1235.39 L1296.09,1235.84 L1298.48,1236.29 L1300.86,1236.74 L1303.25,1237.19 L1305.64,1237.63 L1308.03,1238.08 L1310.42,1238.52 L1312.8,1238.97 L1315.19,1239.41 L1317.58,1239.85" fill="none" stroke="#000000" stroke-width="3" stroke-linejoin="round" stroke-linecap="butt" />
<path d="M937.9,1152.79 L940.29,1153.25 L942.68,1153.71 L945.06,1154.17 L947.45,1154.63 L949.84,1155.09 L952.23,1155.55 L954.62,1156.01 L957,1156.47 L959.39,1156.93 L961.78,1157.39 L964.17,1157.85 L966.56,1158.31 L968.94,1158.77 L971.33,1159.22 L973.72,1159.68 L976.11,1160.14 L978.49,1160.6 L980.88,1161.05 L983.27,1161.51 L985.66,1161.97 L988.05,1162.42 L990.43,1162.88 L992.82,1163.33 L995.21,1163.79 L997.6,1164.24 L999.99,1164.7 L1002.37,1165.15 L1004.76,1165.61 L1007.15,1166.06 L1009.54,1166.52 L1011.93,1166.97 L1014.31,1167.42 L1016.7,1167.88 L1019.09,1168.33 L1021.48,1168.78 L1023.87,1169.23 L1026.25,1169.69 L1028.64,1170.14 L1031.03,1170.59 L1033.42,1171.04 L1035.8,1171.49 L1038.19,1171.94 L1040.58,1172.39 L1042.97,1172.84 L1045.36,1173.29 L1047.74,1173.74 L1050.13,1174.19 L1052.52,1174.64 L1054.91,1175.09 L1057.3,1175.53 L1059.68,1175.98 L1062.07,1176.43 L1064.46,1176.88 L1066.85,1177.32 L1069.24,1177.77 L1071.62,1178.22 L1074.01,1178.66 L1076.4,1179.11 L1078.79,1179.56 L1081.18,1180 L1083.56,1180.45 L1085.95,1180.89 L1088.34,1181.34 L1090.73,1181.78 L1093.12,1182.23 L1095.5,1182.67 L1097.89,1183.11 L1100.28,1183.56 L1102.67,1184 L1105.05,1184.44 L1107.44,1184.89 L1109.83,1185.33 L1112.22,1185.77 L1114.61,1186.21 L1116.99,1186.65 L1119.38,1187.09 L1121.77,1187.53 L1124.16,1187.97 L1126.55,1188.42 L1128.93,1188.86 L1131.32,1189.29 L1133.71,1189.73 L1136.1,1190.17 L1138.49,1190.61 L1140.87,1191.05 L1143.26,1191.49 L1145.65,1191.93 L1148.04,1192.37 L1150.43,1192.8 L1152.81,1193.24 L1155.2,1193.68 L1157.59,1194.11 L1159.98,1194.55 L1162.36,1194.99 L1164.75,1195.42 L1167.14,1195.86 L1169.53,1196.29 L1171.92,1196.73 L1174.3,1197.16 L1176.69,1197.6 L1179.08,1198.03 L1181.47,1198.47 L1183.86,1198.9 L1186.24,1199.34 L1188.63,1199.77 L1191.02,1200.2 L1193.41,1200.64 L1195.8,1201.07 L1198.18,1201.5 L1200.57,1201.93 L1202.96,1202.36 L1205.35,1202.8 L1207.74,1203.23 L1210.12,1203.66 L1212.51,1204.09 L1214.9,1204.52 L1217.29,1204.95 L1219.68,1205.38 L1222.06,1205.81 L1224.45,1206.24 L1226.84,1206.67 L1229.23,1207.1 L1231.61,1207.52 L1234,1207.95 L1236.39,1208.38 L1238.78,1208.81 L1241.17,1209.24 L1243.55,1209.66 L1245.94,1210.09 L1248.33,1210.52 L1250.72,1210.94 L1253.11,1211.37 L1255.49,1211.79 L1257.88,1212.22 L1260.27,1212.65 L1262.66,1213.07 L1265.05,1213.5 L1267.43,1213.92 L1269.82,1214.34 L1272.21,1214.77 L1274.6,1215.19 L1276.99,1215.62 L1279.37,1216.04 L1281.76,1216.46 L1284.15,1216.88 L1286.54,1217.31 L1288.92,1217.73 L1291.31,1218.15 L1293.7,1218.57 L1296.09,1218.99 L1298.48,1219.41 L1300.86,1219.83 L1303.25,1220.25 L1305.64,1220.67 L1308.03,1221.09 L1310.42,1221.51 L1312.8,1221.93 L1315.19,1222.35 L1317.58,1222.77" fill="none" stroke="#ec1c24" stroke-width="3" stroke-linejoin="round" stroke-linecap="butt" />
<circle cx="937.9" cy="1149.9" r="5.9" fill="#808080"/>
<line x1="992.14" y1="1097.71" x2="992.14" y2="1177.56" stroke="#808080" stroke-width="3.6" stroke-linecap="butt"/>
<line x1="986.14" y1="1177.56" x2="998.14" y2="1177.56" stroke="#808080" stroke-width="3.6" stroke-linecap="butt"/>
<circle cx="992.14" cy="1127.05" r="5.9" fill="#808080"/>
<line x1="1046.38" y1="1139.08" x2="1046.38" y2="1215.08" stroke="#808080" stroke-width="3.6" stroke-linecap="butt"/>
<line x1="1040.38" y1="1139.08" x2="1052.38" y2="1139.08" stroke="#808080" stroke-width="3.6" stroke-linecap="butt"/>
<line x1="1040.38" y1="1215.08" x2="1052.38" y2="1215.08" stroke="#808080" stroke-width="3.6" stroke-linecap="butt"/>
<circle cx="1046.38" cy="1177.08" r="5.9" fill="#808080"/>
<line x1="1100.62" y1="1152.06" x2="1100.62" y2="1200.16" stroke="#808080" stroke-width="3.6" stroke-linecap="butt"/>
<line x1="1094.62" y1="1152.06" x2="1106.62" y2="1152.06" stroke="#808080" stroke-width="3.6" stroke-linecap="butt"/>
<line x1="1094.62" y1="1200.16" x2="1106.62" y2="1200.16" stroke="#808080" stroke-width="3.6" stroke-linecap="butt"/>
<circle cx="1100.62" cy="1176.11" r="5.9" fill="#808080"/>
<line x1="1154.86" y1="1161.68" x2="1154.86" y2="1226.14" stroke="#808080" stroke-width="3.6" stroke-linecap="butt"/>
<line x1="1148.86" y1="1161.68" x2="1160.86" y2="1161.68" stroke="#808080" stroke-width="3.6" stroke-linecap="butt"/>
<line x1="1148.86" y1="1226.14" x2="1160.86" y2="1226.14" stroke="#808080" stroke-width="3.6" stroke-linecap="butt"/>
<circle cx="1154.86" cy="1193.91" r="5.9" fill="#808080"/>
<line x1="1209.1" y1="1168.42" x2="1209.1" y2="1226.14" stroke="#808080" stroke-width="3.6" stroke-linecap="butt"/>
<line x1="1203.1" y1="1168.42" x2="1215.1" y2="1168.42" stroke="#808080" stroke-width="3.6" stroke-linecap="butt"/>
<line x1="1203.1" y1="1226.14" x2="1215.1" y2="1226.14" stroke="#808080" stroke-width="3.6" stroke-linecap="butt"/>
<circle cx="1209.1" cy="1197.28" r="5.9" fill="#808080"/>
<line x1="1263.34" y1="1178.28" x2="1263.34" y2="1223.97" stroke="#808080" stroke-width="3.6" stroke-linecap="butt"/>
<line x1="1257.34" y1="1178.28" x2="1269.34" y2="1178.28" stroke="#808080" stroke-width="3.6" stroke-linecap="butt"/>
<line x1="1257.34" y1="1223.97" x2="1269.34" y2="1223.97" stroke="#808080" stroke-width="3.6" stroke-linecap="butt"/>
<circle cx="1263.34" cy="1201.13" r="5.9" fill="#808080"/>
<line x1="1317.58" y1="1186.46" x2="1317.58" y2="1217.24" stroke="#808080" stroke-width="3.6" stroke-linecap="butt"/>
<line x1="1311.58" y1="1186.46" x2="1323.58" y2="1186.46" stroke="#808080" stroke-width="3.6" stroke-linecap="butt"/>
<line x1="1311.58" y1="1217.24" x2="1323.58" y2="1217.24" stroke="#808080" stroke-width="3.6" stroke-linecap="butt"/>
<circle cx="1317.58" cy="1201.85" r="5.9" fill="#808080"/>
<circle cx="937.9" cy="1149.9" r="5.9" fill="#ec1c24"/>
<line x1="992.14" y1="1106.61" x2="992.14" y2="1164.33" stroke="#ec1c24" stroke-width="3.6" stroke-linecap="butt"/>
<line x1="986.14" y1="1106.61" x2="998.14" y2="1106.61" stroke="#ec1c24" stroke-width="3.6" stroke-linecap="butt"/>
<line x1="986.14" y1="1164.33" x2="998.14" y2="1164.33" stroke="#ec1c24" stroke-width="3.6" stroke-linecap="butt"/>
<circle cx="992.14" cy="1135.47" r="5.9" fill="#ec1c24"/>
<line x1="1046.38" y1="1160" x2="1046.38" y2="1185.49" stroke="#ec1c24" stroke-width="3.6" stroke-linecap="butt"/>
<line x1="1040.38" y1="1160" x2="1052.38" y2="1160" stroke="#ec1c24" stroke-width="3.6" stroke-linecap="butt"/>
<line x1="1040.38" y1="1185.49" x2="1052.38" y2="1185.49" stroke="#ec1c24" stroke-width="3.6" stroke-linecap="butt"/>
<circle cx="1046.38" cy="1172.75" r="5.9" fill="#ec1c24"/>
<line x1="1100.62" y1="1142.69" x2="1100.62" y2="1218.68" stroke="#ec1c24" stroke-width="3.6" stroke-linecap="butt"/>
<line x1="1094.62" y1="1142.69" x2="1106.62" y2="1142.69" stroke="#ec1c24" stroke-width="3.6" stroke-linecap="butt"/>
<line x1="1094.62" y1="1218.68" x2="1106.62" y2="1218.68" stroke="#ec1c24" stroke-width="3.6" stroke-linecap="butt"/>
<circle cx="1100.62" cy="1180.68" r="5.9" fill="#ec1c24"/>
<line x1="1154.86" y1="1170.82" x2="1154.86" y2="1217.96" stroke="#ec1c24" stroke-width="3.6" stroke-linecap="butt"/>
<line x1="1148.86" y1="1170.82" x2="1160.86" y2="1170.82" stroke="#ec1c24" stroke-width="3.6" stroke-linecap="butt"/>
<line x1="1148.86" y1="1217.96" x2="1160.86" y2="1217.96" stroke="#ec1c24" stroke-width="3.6" stroke-linecap="butt"/>
<circle cx="1154.86" cy="1194.39" r="5.9" fill="#ec1c24"/>
<line x1="1209.1" y1="1176.36" x2="1209.1" y2="1234.08" stroke="#ec1c24" stroke-width="3.6" stroke-linecap="butt"/>
<line x1="1203.1" y1="1176.36" x2="1215.1" y2="1176.36" stroke="#ec1c24" stroke-width="3.6" stroke-linecap="butt"/>
<line x1="1203.1" y1="1234.08" x2="1215.1" y2="1234.08" stroke="#ec1c24" stroke-width="3.6" stroke-linecap="butt"/>
<circle cx="1209.1" cy="1205.22" r="5.9" fill="#ec1c24"/>
<line x1="1263.34" y1="1160.24" x2="1263.34" y2="1227.58" stroke="#ec1c24" stroke-width="3.6" stroke-linecap="butt"/>
<line x1="1257.34" y1="1160.24" x2="1269.34" y2="1160.24" stroke="#ec1c24" stroke-width="3.6" stroke-linecap="butt"/>
<line x1="1257.34" y1="1227.58" x2="1269.34" y2="1227.58" stroke="#ec1c24" stroke-width="3.6" stroke-linecap="butt"/>
<circle cx="1263.34" cy="1193.91" r="5.9" fill="#ec1c24"/>
<line x1="1317.58" y1="1203.53" x2="1317.58" y2="1280.49" stroke="#ec1c24" stroke-width="3.6" stroke-linecap="butt"/>
<line x1="1311.58" y1="1203.53" x2="1323.58" y2="1203.53" stroke="#ec1c24" stroke-width="3.6" stroke-linecap="butt"/>
<line x1="1311.58" y1="1280.49" x2="1323.58" y2="1280.49" stroke="#ec1c24" stroke-width="3.6" stroke-linecap="butt"/>
<circle cx="1317.58" cy="1242.01" r="5.9" fill="#ec1c24"/>
<circle cx="937.9" cy="1149.9" r="5.9" fill="#000000"/>
<line x1="992.14" y1="1130.9" x2="992.14" y2="1154.95" stroke="#000000" stroke-width="3.6" stroke-linecap="butt"/>
<line x1="986.14" y1="1130.9" x2="998.14" y2="1130.9" stroke="#000000" stroke-width="3.6" stroke-linecap="butt"/>
<line x1="986.14" y1="1154.95" x2="998.14" y2="1154.95" stroke="#000000" stroke-width="3.6" stroke-linecap="butt"/>
<circle cx="992.14" cy="1142.93" r="5.9" fill="#000000"/>
<line x1="1046.38" y1="1175.39" x2="1046.38" y2="1210.03" stroke="#000000" stroke-width="3.6" stroke-linecap="butt"/>
<line x1="1040.38" y1="1175.39" x2="1052.38" y2="1175.39" stroke="#000000" stroke-width="3.6" stroke-linecap="butt"/>
<line x1="1040.38" y1="1210.03" x2="1052.38" y2="1210.03" stroke="#000000" stroke-width="3.6" stroke-linecap="butt"/>
<circle cx="1046.38" cy="1192.71" r="5.9" fill="#000000"/>
<line x1="1100.62" y1="1170.58" x2="1100.62" y2="1218.68" stroke="#000000" stroke-width="3.6" stroke-linecap="butt"/>
<line x1="1094.62" y1="1170.58" x2="1106.62" y2="1170.58" stroke="#000000" stroke-width="3.6" stroke-linecap="butt"/>
<line x1="1094.62" y1="1218.68" x2="1106.62" y2="1218.68" stroke="#000000" stroke-width="3.6" stroke-linecap="butt"/>
<circle cx="1100.62" cy="1194.63" r="5.9" fill="#000000"/>
<line x1="1154.86" y1="1186.22" x2="1154.86" y2="1220.85" stroke="#000000" stroke-width="3.6" stroke-linecap="butt"/>
<line x1="1148.86" y1="1186.22" x2="1160.86" y2="1186.22" stroke="#000000" stroke-width="3.6" stroke-linecap="butt"/>
<line x1="1148.86" y1="1220.85" x2="1160.86" y2="1220.85" stroke="#000000" stroke-width="3.6" stroke-linecap="butt"/>
<circle cx="1154.86" cy="1203.53" r="5.9" fill="#000000"/>
<line x1="1209.1" y1="1209.06" x2="1209.1" y2="1248.99" stroke="#000000" stroke-width="3.6" stroke-linecap="butt"/>
<line x1="1203.1" y1="1209.06" x2="1215.1" y2="1209.06" stroke="#000000" stroke-width="3.6" stroke-linecap="butt"/>
<line x1="1203.1" y1="1248.99" x2="1215.1" y2="1248.99" stroke="#000000" stroke-width="3.6" stroke-linecap="butt"/>
<circle cx="1209.1" cy="1229.02" r="5.9" fill="#000000"/>
<line x1="1263.34" y1="1213.15" x2="1263.34" y2="1252.59" stroke="#000000" stroke-width="3.6" stroke-linecap="butt"/>
<line x1="1257.34" y1="1213.15" x2="1269.34" y2="1213.15" stroke="#000000" stroke-width="3.6" stroke-linecap="butt"/>
<line x1="1257.34" y1="1252.59" x2="1269.34" y2="1252.59" stroke="#000000" stroke-width="3.6" stroke-linecap="butt"/>
<circle cx="1263.34" cy="1232.87" r="5.9" fill="#000000"/>
<line x1="1317.58" y1="1220.61" x2="1317.58" y2="1242.73" stroke="#000000" stroke-width="3.6" stroke-linecap="butt"/>
<line x1="1311.58" y1="1220.61" x2="1323.58" y2="1220.61" stroke="#000000" stroke-width="3.6" stroke-linecap="butt"/>
<line x1="1311.58" y1="1242.73" x2="1323.58" y2="1242.73" stroke="#000000" stroke-width="3.6" stroke-linecap="butt"/>
<circle cx="1317.58" cy="1231.67" r="5.9" fill="#000000"/>
<line x1="956.4" y1="1285.4" x2="987.4" y2="1285.4" stroke="#808080" stroke-width="3" stroke-linecap="butt"/>
<circle cx="971.9" cy="1285.4" r="5.9" fill="#808080"/>
<text x="996.5" y="1294" font-size="25" fill="#000000" xml:space="preserve">ACSF</text>
<line x1="956.4" y1="1325.6" x2="987.4" y2="1325.6" stroke="#000000" stroke-width="3" stroke-linecap="butt"/>
<circle cx="971.9" cy="1325.6" r="5.9" fill="#000000"/>
<text x="996.5" y="1334.2" font-size="25" fill="#000000" xml:space="preserve">L838,4</text>
<path d="M1079.52,1334.2 L1082.07,1334.2 L1082.07,1316.4 L1079.97,1316.4 L1079.34,1317.57 L1078.34,1318.4 L1076.97,1318.77 L1075.22,1319.02 L1075.22,1321.4 L1079.52,1321.4Z" fill="#000000"/>
<text x="1086.87" y="1334.2" font-size="25" fill="#000000" xml:space="preserve">7 (2 </text>
<path d="M1139.52,1321.4 L1139.52,1338.95 M1139.52,1329.95 C1139.52,1334.95 1147.4,1334.95 1147.4,1329.95 M1147.4,1321.4 L1147.4,1332.7 Q1147.65,1334.7 1150.9,1332.45" fill="none" stroke="#000000" stroke-width="2.05"/>
<ellipse cx="1139.52" cy="1338.32" rx="1.38" ry="1.25" fill="#000000"/>
<text x="1151.3" y="1334.2" font-size="25" fill="#000000" xml:space="preserve">M)</text>
<line x1="956.4" y1="1365" x2="987.4" y2="1365" stroke="#ec1c24" stroke-width="3" stroke-linecap="butt"/>
<circle cx="971.9" cy="1365" r="5.9" fill="#ec1c24"/>
<text x="996.5" y="1373.6" font-size="25" fill="#000000" xml:space="preserve">L838,4</text>
<path d="M1079.52,1373.6 L1082.07,1373.6 L1082.07,1355.8 L1079.97,1355.8 L1079.34,1356.97 L1078.34,1357.8 L1076.97,1358.17 L1075.22,1358.42 L1075.22,1360.8 L1079.52,1360.8Z" fill="#000000"/>
<text x="1086.87" y="1373.6" font-size="25" fill="#000000" xml:space="preserve">7 (2 </text>
<path d="M1139.52,1360.8 L1139.52,1378.35 M1139.52,1369.35 C1139.52,1374.35 1147.4,1374.35 1147.4,1369.35 M1147.4,1360.8 L1147.4,1372.1 Q1147.65,1374.1 1150.9,1371.85" fill="none" stroke="#000000" stroke-width="2.05"/>
<ellipse cx="1139.52" cy="1377.72" rx="1.38" ry="1.25" fill="#000000"/>
<text x="1151.3" y="1373.6" font-size="25" fill="#000000" xml:space="preserve">M) + CLP257 (</text>
<path d="M1321.11,1373.6 L1323.66,1373.6 L1323.66,1355.8 L1321.56,1355.8 L1320.94,1356.97 L1319.94,1357.8 L1318.56,1358.17 L1316.81,1358.42 L1316.81,1360.8 L1321.11,1360.8Z" fill="#000000"/>
<text x="1328.47" y="1373.6" font-size="25" fill="#000000" xml:space="preserve">00 </text>
<path d="M1365.85,1360.8 L1365.85,1378.35 M1365.85,1369.35 C1365.85,1374.35 1373.72,1374.35 1373.72,1369.35 M1373.72,1360.8 L1373.72,1372.1 Q1373.97,1374.1 1377.22,1371.85" fill="none" stroke="#000000" stroke-width="2.05"/>
<ellipse cx="1365.85" cy="1377.72" rx="1.38" ry="1.25" fill="#000000"/>
<text x="1377.62" y="1373.6" font-size="25" fill="#000000" xml:space="preserve">M)</text>
</svg>
</body></html>
